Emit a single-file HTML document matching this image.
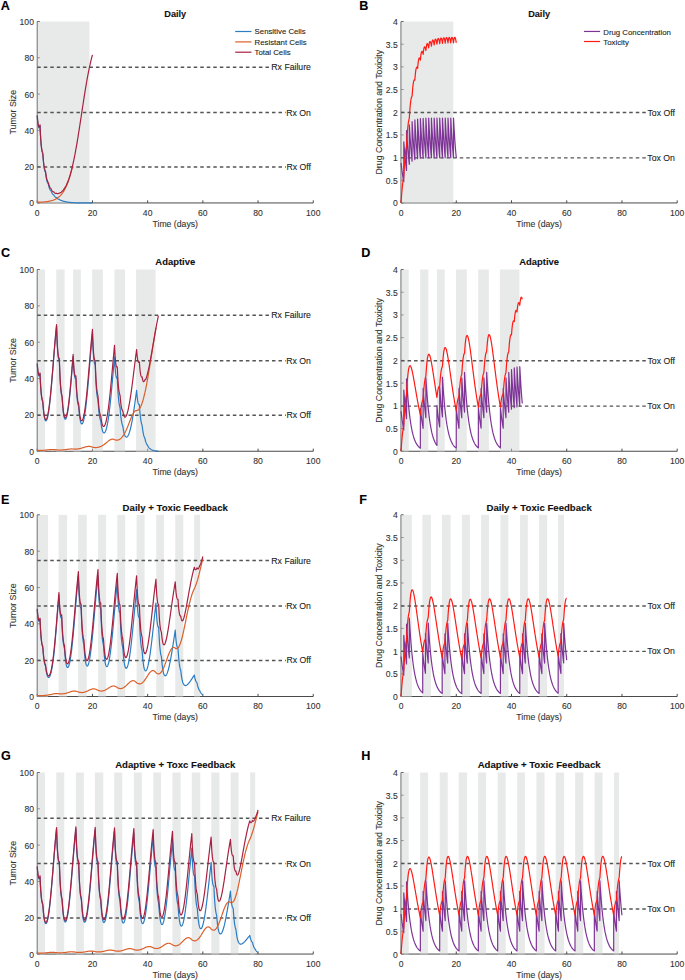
<!DOCTYPE html>
<html><head><meta charset="utf-8"><style>
html,body{margin:0;padding:0;background:#fff;}
svg{display:block;font-family:"Liberation Sans", sans-serif;}
</style></head><body>
<svg width="685" height="980" viewBox="0 0 685 980">
<rect width="685" height="980" fill="#fff"/>
<path d="M37.25,21.50 L37.25,202.95 L313.25,202.95" fill="none" stroke="#4a4a4a" stroke-width="1.00"/>
<line x1="37.25" y1="202.95" x2="37.25" y2="200.35" stroke="#4a4a4a" stroke-width="1.00"/>
<line x1="92.45" y1="202.95" x2="92.45" y2="200.35" stroke="#4a4a4a" stroke-width="1.00"/>
<line x1="147.65" y1="202.95" x2="147.65" y2="200.35" stroke="#4a4a4a" stroke-width="1.00"/>
<line x1="202.85" y1="202.95" x2="202.85" y2="200.35" stroke="#4a4a4a" stroke-width="1.00"/>
<line x1="258.05" y1="202.95" x2="258.05" y2="200.35" stroke="#4a4a4a" stroke-width="1.00"/>
<line x1="313.25" y1="202.95" x2="313.25" y2="200.35" stroke="#4a4a4a" stroke-width="1.00"/>
<line x1="37.25" y1="202.95" x2="39.85" y2="202.95" stroke="#4a4a4a" stroke-width="1.00"/>
<line x1="37.25" y1="166.66" x2="39.85" y2="166.66" stroke="#4a4a4a" stroke-width="1.00"/>
<line x1="37.25" y1="130.37" x2="39.85" y2="130.37" stroke="#4a4a4a" stroke-width="1.00"/>
<line x1="37.25" y1="94.08" x2="39.85" y2="94.08" stroke="#4a4a4a" stroke-width="1.00"/>
<line x1="37.25" y1="57.79" x2="39.85" y2="57.79" stroke="#4a4a4a" stroke-width="1.00"/>
<line x1="37.25" y1="21.50" x2="39.85" y2="21.50" stroke="#4a4a4a" stroke-width="1.00"/>
<rect x="37.25" y="21.50" width="52.16" height="182.05" fill="#d2d4d4" fill-opacity="0.50"/>
<text stroke="#333333" stroke-width="0.10" x="37.25" y="215.80" text-anchor="middle" font-size="8.60" fill="#333333">0</text>
<text stroke="#333333" stroke-width="0.10" x="92.45" y="215.80" text-anchor="middle" font-size="8.60" fill="#333333">20</text>
<text stroke="#333333" stroke-width="0.10" x="147.65" y="215.80" text-anchor="middle" font-size="8.60" fill="#333333">40</text>
<text stroke="#333333" stroke-width="0.10" x="202.85" y="215.80" text-anchor="middle" font-size="8.60" fill="#333333">60</text>
<text stroke="#333333" stroke-width="0.10" x="258.05" y="215.80" text-anchor="middle" font-size="8.60" fill="#333333">80</text>
<text stroke="#333333" stroke-width="0.10" x="313.25" y="215.80" text-anchor="middle" font-size="8.60" fill="#333333">100</text>
<text stroke="#333333" stroke-width="0.10" x="33.95" y="206.40" text-anchor="end" font-size="8.60" fill="#333333">0</text>
<text stroke="#333333" stroke-width="0.10" x="33.95" y="170.11" text-anchor="end" font-size="8.60" fill="#333333">20</text>
<text stroke="#333333" stroke-width="0.10" x="33.95" y="133.82" text-anchor="end" font-size="8.60" fill="#333333">40</text>
<text stroke="#333333" stroke-width="0.10" x="33.95" y="97.53" text-anchor="end" font-size="8.60" fill="#333333">60</text>
<text stroke="#333333" stroke-width="0.10" x="33.95" y="61.24" text-anchor="end" font-size="8.60" fill="#333333">80</text>
<text stroke="#333333" stroke-width="0.10" x="33.95" y="24.95" text-anchor="end" font-size="8.60" fill="#333333">100</text>
<text stroke="#333333" stroke-width="0.10" x="175.25" y="226.85" text-anchor="middle" font-size="8.7" fill="#333333">Time (days)</text>
<text stroke="#333333" stroke-width="0.10" transform="translate(16.10,112.22) rotate(-90)" text-anchor="middle" font-size="8.8" fill="#333333">Tumor Size</text>
<text stroke="#111" stroke-width="0.10" x="175.25" y="16.80" text-anchor="middle" font-size="9.20" font-weight="bold" fill="#111">Daily</text>
<line x1="37.25" y1="67.16" x2="270.71" y2="67.16" stroke="#555555" stroke-width="1.45" stroke-dasharray="3.5 3.02"/>
<text stroke="#222" stroke-width="0.10" x="310.95" y="70.16" text-anchor="end" font-size="8.70" fill="#222">Rx Failure</text>
<line x1="37.25" y1="112.52" x2="285.70" y2="112.52" stroke="#555555" stroke-width="1.45" stroke-dasharray="3.5 3.02"/>
<text stroke="#222" stroke-width="0.10" x="310.95" y="115.52" text-anchor="end" font-size="8.70" fill="#222">Rx On</text>
<line x1="37.25" y1="166.96" x2="285.86" y2="166.96" stroke="#555555" stroke-width="1.45" stroke-dasharray="3.5 3.02"/>
<text stroke="#222" stroke-width="0.10" x="310.95" y="169.96" text-anchor="end" font-size="8.70" fill="#222">Rx Off</text>
<path d="M37.25,116.08 L37.28,116.50 L37.58,120.49 L37.61,120.80 L37.94,123.89 L37.97,124.10 L38.30,126.12 L38.33,126.25 L38.66,127.37 L38.69,127.44 L39.02,127.81 L39.04,127.81 L39.38,127.55 L39.40,127.50 L39.73,126.68 L40.01,125.66 L40.09,127.69 L40.12,128.34 L40.45,135.19 L40.48,135.68 L40.81,140.93 L40.84,141.31 L41.17,145.27 L41.20,145.56 L41.53,148.50 L41.56,148.71 L41.89,150.79 L41.91,150.93 L42.25,152.30 L42.27,152.38 L42.60,153.13 L42.63,153.16 L42.96,156.20 L42.99,156.58 L43.32,160.69 L43.35,160.99 L43.68,164.23 L43.71,164.47 L44.04,166.99 L44.07,167.17 L44.40,169.09 L44.43,169.23 L44.76,170.64 L44.78,170.74 L45.12,171.70 L45.14,171.77 L45.47,172.34 L45.50,172.37 L45.83,174.91 L45.86,175.12 L46.19,177.36 L46.22,177.52 L46.55,179.31 L46.58,179.45 L46.91,180.86 L46.94,180.96 L47.27,182.04 L47.30,182.12 L47.63,182.92 L47.66,182.97 L47.99,183.51 L48.01,183.54 L48.35,184.09 L48.37,184.23 L48.70,185.76 L48.73,185.87 L49.06,187.12 L49.09,187.21 L49.42,188.22 L49.45,188.29 L49.78,189.09 L49.81,189.15 L50.14,189.75 L50.17,189.79 L50.50,190.23 L50.53,190.26 L50.86,190.54 L50.88,190.56 L51.22,191.15 L51.24,191.23 L51.57,192.12 L51.60,192.19 L51.93,192.91 L51.96,192.96 L52.29,193.55 L52.32,193.59 L52.65,194.05 L52.68,194.09 L53.01,194.43 L53.04,194.46 L53.37,194.70 L53.40,194.72 L53.73,194.86 L53.75,194.87 L54.09,195.41 L54.11,195.46 L54.44,195.99 L54.47,196.03 L54.80,196.47 L54.83,196.50 L55.16,196.85 L55.19,196.88 L55.52,197.15 L55.55,197.17 L55.88,197.38 L55.91,197.39 L56.24,197.53 L56.27,197.54 L56.60,197.65 L56.63,197.68 L56.96,198.08 L56.98,198.11 L57.32,198.44 L57.34,198.46 L57.67,198.74 L57.70,198.76 L58.03,198.97 L58.06,198.99 L58.39,199.16 L58.42,199.17 L58.75,199.29 L58.78,199.30 L59.11,199.38 L59.14,199.39 L59.47,199.54 L59.50,199.56 L59.83,199.81 L59.85,199.83 L60.19,200.04 L60.21,200.05 L60.54,200.22 L60.57,200.24 L60.90,200.37 L60.93,200.38 L61.26,200.49 L61.29,200.50 L61.62,200.58 L61.65,200.58 L61.98,200.63 L62.01,200.63 L62.34,200.78 L62.37,200.80 L62.70,200.96 L62.72,200.97 L63.06,201.10 L63.08,201.11 L63.41,201.22 L63.44,201.23 L63.77,201.32 L63.80,201.32 L64.13,201.39 L64.16,201.40 L64.49,201.45 L64.52,201.45 L64.85,201.48 L64.88,201.49 L65.21,201.61 L65.24,201.62 L65.57,201.72 L65.60,201.73 L65.93,201.81 L65.95,201.82 L66.29,201.89 L66.31,201.89 L66.64,201.95 L66.67,201.95 L67.00,202.00 L67.03,202.00 L67.36,202.03 L67.39,202.04 L67.72,202.08 L67.75,202.09 L68.08,202.16 L68.11,202.17 L68.44,202.23 L68.47,202.23 L68.80,202.28 L68.82,202.29 L69.16,202.33 L69.18,202.33 L69.51,202.37 L69.54,202.37 L69.87,202.40 L69.90,202.40 L70.23,202.42 L70.26,202.42 L70.59,202.46 L70.62,202.47 L70.95,202.51 L70.98,202.51 L71.31,202.55 L71.34,202.55 L71.67,202.58 L71.69,202.59 L72.03,202.61 L72.05,202.61 L72.38,202.64 L72.41,202.64 L72.74,202.65 L72.77,202.65 L73.10,202.67 L73.13,202.67 L73.46,202.70 L73.49,202.70 L73.82,202.72 L73.85,202.73 L74.18,202.75 L74.21,202.75 L74.54,202.77 L74.57,202.77 L74.90,202.78 L74.92,202.78 L75.26,202.79 L75.28,202.79 L75.61,202.80 L75.64,202.80 L75.97,202.81 L76.00,202.82 L76.33,202.83 L76.36,202.83 L76.69,202.84 L76.72,202.85 L77.05,202.86 L77.08,202.86 L77.41,202.87 L77.44,202.87 L77.77,202.87 L77.79,202.87 L78.13,202.88 L78.15,202.88 L78.48,202.89 L78.51,202.89 L78.84,202.89 L78.87,202.89 L79.20,202.90 L79.23,202.90 L79.56,202.91 L79.59,202.91 L79.92,202.91 L79.95,202.91 L80.28,202.92 L80.31,202.92 L80.64,202.92 L80.66,202.92 L81.00,202.92 L81.02,202.92 L81.35,202.92 L81.38,202.92 L81.71,202.93 L81.74,202.93 L82.07,202.93 L82.10,202.93 L82.43,202.93 L82.46,202.93 L82.79,202.94 L82.82,202.94 L83.15,202.94 L83.18,202.94 L83.51,202.94 L83.54,202.94 L83.87,202.94 L83.89,202.94 L84.23,202.94 L84.25,202.94 L84.58,202.94 L84.61,202.94 L84.94,202.94 L84.97,202.94 L85.30,202.94 L85.33,202.94 L85.66,202.95 L85.69,202.95 L86.02,202.95 L86.05,202.95 L86.38,202.95 L86.41,202.95 L86.74,202.95 L86.76,202.95 L87.10,202.95 L87.12,202.95 L87.45,202.95 L87.48,202.95 L87.81,202.95 L87.84,202.95 L88.17,202.95 L88.20,202.95 L88.53,202.95 L88.56,202.95 L88.89,202.95 L88.92,202.95 L89.25,202.95 L89.28,202.95 L89.61,202.95 L89.63,202.95 L89.97,202.95 L89.99,202.95 L90.32,202.95 L90.35,202.95 L90.68,202.95 L90.71,202.95 L91.04,202.95 L91.07,202.95 L91.40,202.95 L91.43,202.95 L91.76,202.95 L91.79,202.95 L92.12,202.95 L92.45,202.95" fill="none" stroke="#2a7cc4" stroke-width="1.20" stroke-linejoin="round"/>
<path d="M37.25,202.09 L37.28,202.09 L37.58,202.10 L37.61,202.10 L37.94,202.10 L37.97,202.10 L38.30,202.10 L38.33,202.10 L38.66,202.10 L38.69,202.10 L39.02,202.10 L39.04,202.10 L39.38,202.10 L39.54,202.10 L39.73,202.10 L39.76,202.10 L40.09,202.10 L40.12,202.10 L40.45,202.10 L40.48,202.10 L40.81,202.09 L40.84,202.09 L41.17,202.08 L41.20,202.08 L41.53,202.07 L41.56,202.07 L41.89,202.06 L41.91,202.06 L42.25,202.04 L42.27,202.04 L42.60,202.03 L42.63,202.02 L42.96,202.01 L42.99,202.01 L43.32,201.99 L43.35,201.99 L43.68,201.96 L43.71,201.96 L44.04,201.94 L44.07,201.93 L44.40,201.91 L44.43,201.90 L44.76,201.87 L44.78,201.87 L45.12,201.84 L45.14,201.84 L45.47,201.81 L45.50,201.80 L45.83,201.77 L45.86,201.76 L46.19,201.73 L46.22,201.72 L46.55,201.68 L46.58,201.68 L46.91,201.63 L46.94,201.63 L47.27,201.58 L47.30,201.58 L47.63,201.53 L47.66,201.52 L47.99,201.47 L48.01,201.47 L48.35,201.41 L48.37,201.41 L48.70,201.35 L48.73,201.34 L49.06,201.28 L49.09,201.27 L49.42,201.21 L49.45,201.20 L49.78,201.13 L49.81,201.12 L50.14,201.05 L50.17,201.04 L50.50,200.96 L50.53,200.96 L50.86,200.87 L50.88,200.87 L51.22,200.78 L51.24,200.77 L51.57,200.68 L51.60,200.67 L51.93,200.57 L51.96,200.56 L52.29,200.46 L52.32,200.45 L52.65,200.34 L52.68,200.33 L53.01,200.22 L53.04,200.21 L53.37,200.09 L53.40,200.08 L53.73,199.95 L53.75,199.94 L54.09,199.80 L54.11,199.79 L54.44,199.65 L54.47,199.64 L54.80,199.49 L54.83,199.47 L55.16,199.32 L55.19,199.30 L55.52,199.13 L55.55,199.12 L55.88,198.94 L55.91,198.93 L56.24,198.74 L56.27,198.73 L56.60,198.53 L56.63,198.52 L56.96,198.31 L56.98,198.30 L57.32,198.08 L57.34,198.06 L57.67,197.84 L57.70,197.82 L58.03,197.58 L58.06,197.56 L58.39,197.31 L58.42,197.28 L58.75,197.02 L58.78,197.00 L59.11,196.72 L59.14,196.70 L59.47,196.40 L59.50,196.38 L59.83,196.07 L59.85,196.05 L60.19,195.72 L60.21,195.70 L60.54,195.36 L60.57,195.33 L60.90,194.97 L60.93,194.94 L61.26,194.57 L61.29,194.53 L61.62,194.14 L61.65,194.11 L61.98,193.69 L62.01,193.66 L62.34,193.23 L62.37,193.19 L62.70,192.73 L62.72,192.70 L63.06,192.22 L63.08,192.18 L63.41,191.68 L63.44,191.64 L63.77,191.11 L63.80,191.07 L64.13,190.52 L64.16,190.47 L64.49,189.89 L64.52,189.84 L64.85,189.24 L64.88,189.19 L65.21,188.56 L65.24,188.51 L65.57,187.85 L65.60,187.79 L65.93,187.10 L65.95,187.04 L66.29,186.32 L66.31,186.26 L66.64,185.51 L66.67,185.44 L67.00,184.65 L67.03,184.59 L67.36,183.76 L67.39,183.69 L67.72,182.83 L67.75,182.76 L68.08,181.87 L68.11,181.79 L68.44,180.86 L68.47,180.78 L68.80,179.81 L68.82,179.73 L69.16,178.72 L69.18,178.64 L69.51,177.58 L69.54,177.50 L69.87,176.40 L69.90,176.31 L70.23,175.17 L70.26,175.08 L70.59,173.90 L70.62,173.80 L70.95,172.58 L70.98,172.48 L71.31,171.22 L71.34,171.11 L71.67,169.80 L71.69,169.69 L72.03,168.34 L72.05,168.22 L72.38,166.82 L72.50,166.34" fill="none" stroke="#dc5f2a" stroke-width="1.20" stroke-linejoin="round"/>
<path d="M37.25,115.22 L37.28,115.64 L37.58,119.64 L37.61,119.95 L37.94,123.04 L37.97,123.25 L38.30,125.27 L38.33,125.40 L38.66,126.53 L38.69,126.59 L39.02,126.96 L39.04,126.96 L39.38,126.70 L39.40,126.65 L39.73,125.83 L40.01,124.81 L40.09,126.84 L40.12,127.49 L40.45,134.34 L40.48,134.83 L40.81,140.07 L40.84,140.45 L41.17,144.41 L41.20,144.69 L41.53,147.62 L41.56,147.83 L41.89,149.90 L41.91,150.04 L42.25,151.39 L42.27,151.47 L42.60,152.20 L42.63,152.24 L42.96,155.25 L42.99,155.64 L43.32,159.73 L43.35,160.03 L43.68,163.24 L43.71,163.48 L44.04,165.98 L44.07,166.16 L44.40,168.05 L44.43,168.19 L44.76,169.57 L44.78,169.66 L45.12,170.60 L45.14,170.66 L45.47,171.19 L45.50,171.22 L45.83,173.73 L45.86,173.94 L46.19,176.13 L46.22,176.30 L46.55,178.05 L46.58,178.17 L46.91,179.54 L46.94,179.64 L47.27,180.68 L47.30,180.75 L47.63,181.49 L47.66,181.54 L47.99,182.03 L48.01,182.06 L48.35,182.55 L48.37,182.69 L48.70,184.15 L48.73,184.26 L49.06,185.45 L49.09,185.54 L49.42,186.48 L49.45,186.54 L49.78,187.27 L49.81,187.32 L50.14,187.85 L50.17,187.89 L50.50,188.24 L50.53,188.27 L50.86,188.47 L50.88,188.48 L51.22,188.98 L51.24,189.06 L51.57,189.85 L51.60,189.91 L51.93,190.53 L51.96,190.58 L52.29,191.06 L52.32,191.09 L52.65,191.44 L52.68,191.47 L53.01,191.70 L53.04,191.71 L53.37,191.84 L53.40,191.84 L53.62,191.86 L53.81,191.85 L54.09,192.26 L54.11,192.30 L54.44,192.69 L54.47,192.72 L54.80,193.00 L54.83,193.02 L55.16,193.22 L55.19,193.23 L55.52,193.34 L55.55,193.34 L55.85,193.37 L55.91,193.37 L56.24,193.32 L56.27,193.32 L56.57,193.21 L56.63,193.25 L56.96,193.44 L56.98,193.46 L57.32,193.57 L57.34,193.58 L57.67,193.62 L57.76,193.62 L58.03,193.60 L58.06,193.60 L58.39,193.51 L58.42,193.50 L58.75,193.36 L58.78,193.35 L59.11,193.15 L59.14,193.13 L59.47,192.99 L59.50,192.99 L59.83,192.93 L59.85,192.92 L60.19,192.81 L60.21,192.80 L60.54,192.63 L60.57,192.61 L60.90,192.40 L60.93,192.37 L61.26,192.11 L61.29,192.08 L61.62,191.77 L61.65,191.74 L61.98,191.37 L62.01,191.34 L62.34,191.06 L62.37,191.04 L62.70,190.74 L62.72,190.71 L63.06,190.37 L63.08,190.34 L63.41,189.95 L63.44,189.91 L63.77,189.48 L63.80,189.44 L64.13,188.96 L64.16,188.92 L64.49,188.39 L64.52,188.34 L64.85,187.77 L64.88,187.73 L65.21,187.22 L65.24,187.18 L65.57,186.62 L65.60,186.57 L65.93,185.97 L65.95,185.91 L66.29,185.26 L66.31,185.20 L66.64,184.51 L66.67,184.45 L67.00,183.70 L67.03,183.64 L67.36,182.85 L67.39,182.78 L67.72,181.96 L67.75,181.90 L68.08,181.08 L68.11,181.01 L68.44,180.14 L68.47,180.07 L68.80,179.15 L68.82,179.07 L69.16,178.10 L69.18,178.02 L69.51,177.00 L69.54,176.92 L69.87,175.85 L69.90,175.76 L70.23,174.65 L70.26,174.55 L70.59,173.41 L70.62,173.32 L70.95,172.14 L70.98,172.04 L71.31,170.82 L71.34,170.71 L71.67,169.44 L71.69,169.33 L72.03,168.00 L72.05,167.89 L72.38,166.51 L72.41,166.39 L72.74,164.96 L72.77,164.84 L73.10,163.36 L73.13,163.23 L73.46,161.73 L73.49,161.60 L73.82,160.05 L73.85,159.91 L74.18,158.31 L74.21,158.17 L74.54,156.52 L74.57,156.38 L74.90,154.68 L74.92,154.54 L75.26,152.79 L75.28,152.64 L75.61,150.85 L75.64,150.70 L75.97,148.87 L76.00,148.71 L76.33,146.86 L76.36,146.70 L76.69,144.80 L76.72,144.64 L77.05,142.70 L77.08,142.54 L77.41,140.56 L77.44,140.39 L77.77,138.38 L77.79,138.21 L78.13,136.17 L78.15,136.00 L78.48,133.92 L78.51,133.75 L78.84,131.66 L78.87,131.48 L79.20,129.37 L79.23,129.20 L79.56,127.06 L79.59,126.89 L79.92,124.74 L79.95,124.56 L80.28,122.39 L80.31,122.21 L80.64,120.03 L80.66,119.85 L81.00,117.66 L81.02,117.47 L81.35,115.28 L81.38,115.09 L81.71,112.91 L81.74,112.73 L82.07,110.55 L82.10,110.36 L82.43,108.19 L82.46,108.00 L82.79,105.83 L82.82,105.65 L83.15,103.49 L83.18,103.31 L83.51,101.16 L83.54,100.98 L83.87,98.84 L83.89,98.66 L84.23,96.54 L84.25,96.37 L84.58,94.29 L84.61,94.12 L84.94,92.06 L84.97,91.89 L85.30,89.86 L85.33,89.70 L85.66,87.69 L85.69,87.53 L86.02,85.56 L86.05,85.39 L86.38,83.45 L86.41,83.29 L86.74,81.39 L86.76,81.23 L87.10,79.37 L87.12,79.21 L87.45,77.40 L87.48,77.25 L87.81,75.48 L87.84,75.33 L88.17,73.60 L88.20,73.46 L88.53,71.76 L88.56,71.62 L88.89,69.97 L88.92,69.83 L89.25,68.22 L89.28,68.09 L89.61,66.52 L89.63,66.39 L89.97,64.88 L89.99,64.76 L90.32,63.30 L90.35,63.18 L90.68,61.76 L90.71,61.64 L91.04,60.27 L91.07,60.15 L91.40,58.82 L91.43,58.71 L91.76,57.41 L91.79,57.31 L92.12,56.06 L92.45,54.84" fill="none" stroke="#a8203f" stroke-width="1.20" stroke-linejoin="round"/>
<line x1="235.20" y1="31.50" x2="251.50" y2="31.50" stroke="#2a7cc4" stroke-width="1.20"/>
<text stroke="#222" stroke-width="0.10" x="254.60" y="34.10" font-size="7.8" fill="#222">Sensitive Cells</text>
<line x1="235.20" y1="41.90" x2="251.50" y2="41.90" stroke="#dc5f2a" stroke-width="1.20"/>
<text stroke="#222" stroke-width="0.10" x="254.60" y="44.50" font-size="7.8" fill="#222">Resistant Cells</text>
<line x1="235.20" y1="52.20" x2="251.50" y2="52.20" stroke="#a8203f" stroke-width="1.20"/>
<text stroke="#222" stroke-width="0.10" x="254.60" y="54.80" font-size="7.8" fill="#222">Total Cells</text>
<path d="M401.05,21.50 L401.05,202.95 L677.20,202.95" fill="none" stroke="#4a4a4a" stroke-width="1.00"/>
<line x1="401.05" y1="202.95" x2="401.05" y2="200.35" stroke="#4a4a4a" stroke-width="1.00"/>
<line x1="456.28" y1="202.95" x2="456.28" y2="200.35" stroke="#4a4a4a" stroke-width="1.00"/>
<line x1="511.51" y1="202.95" x2="511.51" y2="200.35" stroke="#4a4a4a" stroke-width="1.00"/>
<line x1="566.74" y1="202.95" x2="566.74" y2="200.35" stroke="#4a4a4a" stroke-width="1.00"/>
<line x1="621.97" y1="202.95" x2="621.97" y2="200.35" stroke="#4a4a4a" stroke-width="1.00"/>
<line x1="677.20" y1="202.95" x2="677.20" y2="200.35" stroke="#4a4a4a" stroke-width="1.00"/>
<line x1="401.05" y1="202.95" x2="403.65" y2="202.95" stroke="#4a4a4a" stroke-width="1.00"/>
<line x1="401.05" y1="180.27" x2="403.65" y2="180.27" stroke="#4a4a4a" stroke-width="1.00"/>
<line x1="401.05" y1="157.59" x2="403.65" y2="157.59" stroke="#4a4a4a" stroke-width="1.00"/>
<line x1="401.05" y1="134.91" x2="403.65" y2="134.91" stroke="#4a4a4a" stroke-width="1.00"/>
<line x1="401.05" y1="112.22" x2="403.65" y2="112.22" stroke="#4a4a4a" stroke-width="1.00"/>
<line x1="401.05" y1="89.54" x2="403.65" y2="89.54" stroke="#4a4a4a" stroke-width="1.00"/>
<line x1="401.05" y1="66.86" x2="403.65" y2="66.86" stroke="#4a4a4a" stroke-width="1.00"/>
<line x1="401.05" y1="44.18" x2="403.65" y2="44.18" stroke="#4a4a4a" stroke-width="1.00"/>
<line x1="401.05" y1="21.50" x2="403.65" y2="21.50" stroke="#4a4a4a" stroke-width="1.00"/>
<rect x="401.05" y="21.50" width="52.19" height="182.05" fill="#d2d4d4" fill-opacity="0.50"/>
<text stroke="#333333" stroke-width="0.10" x="401.05" y="215.80" text-anchor="middle" font-size="8.60" fill="#333333">0</text>
<text stroke="#333333" stroke-width="0.10" x="456.28" y="215.80" text-anchor="middle" font-size="8.60" fill="#333333">20</text>
<text stroke="#333333" stroke-width="0.10" x="511.51" y="215.80" text-anchor="middle" font-size="8.60" fill="#333333">40</text>
<text stroke="#333333" stroke-width="0.10" x="566.74" y="215.80" text-anchor="middle" font-size="8.60" fill="#333333">60</text>
<text stroke="#333333" stroke-width="0.10" x="621.97" y="215.80" text-anchor="middle" font-size="8.60" fill="#333333">80</text>
<text stroke="#333333" stroke-width="0.10" x="677.20" y="215.80" text-anchor="middle" font-size="8.60" fill="#333333">100</text>
<text stroke="#333333" stroke-width="0.10" x="397.75" y="206.40" text-anchor="end" font-size="8.60" fill="#333333">0</text>
<text stroke="#333333" stroke-width="0.10" x="397.75" y="183.72" text-anchor="end" font-size="8.60" fill="#333333">0.5</text>
<text stroke="#333333" stroke-width="0.10" x="397.75" y="161.04" text-anchor="end" font-size="8.60" fill="#333333">1</text>
<text stroke="#333333" stroke-width="0.10" x="397.75" y="138.36" text-anchor="end" font-size="8.60" fill="#333333">1.5</text>
<text stroke="#333333" stroke-width="0.10" x="397.75" y="115.67" text-anchor="end" font-size="8.60" fill="#333333">2</text>
<text stroke="#333333" stroke-width="0.10" x="397.75" y="92.99" text-anchor="end" font-size="8.60" fill="#333333">2.5</text>
<text stroke="#333333" stroke-width="0.10" x="397.75" y="70.31" text-anchor="end" font-size="8.60" fill="#333333">3</text>
<text stroke="#333333" stroke-width="0.10" x="397.75" y="47.63" text-anchor="end" font-size="8.60" fill="#333333">3.5</text>
<text stroke="#333333" stroke-width="0.10" x="397.75" y="24.95" text-anchor="end" font-size="8.60" fill="#333333">4</text>
<text stroke="#333333" stroke-width="0.10" x="539.12" y="226.85" text-anchor="middle" font-size="8.7" fill="#333333">Time (days)</text>
<text stroke="#333333" stroke-width="0.10" transform="translate(381.60,112.22) rotate(-90)" text-anchor="middle" font-size="8.8" fill="#333333">Drug Concentration and Toxicity</text>
<text stroke="#111" stroke-width="0.10" x="539.12" y="16.80" text-anchor="middle" font-size="9.20" font-weight="bold" fill="#111">Daily</text>
<line x1="401.05" y1="112.52" x2="646.90" y2="112.52" stroke="#555555" stroke-width="1.45" stroke-dasharray="3.5 3.02"/>
<text stroke="#222" stroke-width="0.10" x="674.90" y="115.52" text-anchor="end" font-size="8.70" fill="#222">Tox Off</text>
<line x1="401.05" y1="157.89" x2="646.74" y2="157.89" stroke="#555555" stroke-width="1.45" stroke-dasharray="3.5 3.02"/>
<text stroke="#222" stroke-width="0.10" x="674.90" y="160.89" text-anchor="end" font-size="8.70" fill="#222">Tox On</text>
<path d="M401.05,163.03 L401.08,163.28 L401.38,165.96 L401.41,166.19 L401.74,168.89 L401.77,169.11 L402.10,171.59 L402.13,171.79 L402.46,174.07 L402.49,174.26 L402.82,176.36 L402.84,176.53 L403.18,178.47 L403.20,178.62 L403.54,180.41 L403.78,181.66 L403.81,141.88 L403.92,143.41 L404.25,147.78 L404.28,148.13 L404.61,152.15 L404.64,152.47 L404.97,156.17 L405.00,156.47 L405.33,159.88 L405.36,160.15 L405.69,163.29 L405.72,163.54 L406.05,166.43 L406.08,166.67 L406.41,169.33 L406.55,170.38 L406.57,130.67 L406.79,134.25 L407.13,139.29 L407.15,139.69 L407.48,144.33 L407.51,144.70 L407.84,148.98 L407.87,149.32 L408.20,153.25 L408.23,153.57 L408.56,157.19 L408.59,157.48 L408.92,160.82 L408.95,161.08 L409.28,164.15 L409.31,164.40 L409.33,124.73 L409.67,130.46 L410.00,135.78 L410.02,136.21 L410.36,141.10 L410.38,141.50 L410.72,146.00 L410.74,146.37 L411.07,150.52 L411.10,150.85 L411.43,154.67 L411.46,154.98 L411.79,158.50 L412.07,161.23 L412.10,121.58 L412.18,123.11 L412.51,128.97 L412.54,129.44 L412.87,134.83 L412.90,135.26 L413.23,140.23 L413.26,140.63 L413.59,145.20 L413.61,145.56 L413.95,149.77 L413.97,150.11 L414.31,153.99 L414.33,154.30 L414.66,157.87 L414.83,159.55 L414.86,119.91 L415.05,123.52 L415.38,129.35 L415.41,129.81 L415.74,135.18 L415.77,135.61 L416.10,140.55 L416.13,140.94 L416.46,145.49 L416.49,145.86 L416.82,150.05 L416.85,150.38 L417.18,154.24 L417.20,154.55 L417.54,158.10 L417.59,158.66 L417.62,119.02 L417.92,124.69 L418.25,130.43 L418.28,130.89 L418.61,136.17 L418.64,136.60 L418.97,141.47 L419.00,141.85 L419.33,146.34 L419.36,146.70 L419.69,150.82 L419.72,151.15 L420.05,154.95 L420.35,158.19 L420.38,118.56 L420.44,119.62 L420.77,125.73 L420.79,126.22 L421.13,131.85 L421.15,132.30 L421.49,137.49 L421.51,137.90 L421.84,142.67 L421.87,143.05 L422.20,147.45 L422.23,147.80 L422.56,151.85 L422.59,152.17 L422.92,155.90 L423.11,157.94 L423.14,118.31 L423.31,121.47 L423.64,127.45 L423.67,127.93 L424.00,133.43 L424.03,133.87 L424.36,138.94 L424.38,139.35 L424.72,144.01 L424.74,144.39 L425.08,148.68 L425.10,149.03 L425.43,152.98 L425.46,153.30 L425.79,156.94 L425.88,157.81 L425.90,118.18 L426.18,123.39 L426.51,129.23 L426.54,129.70 L426.87,135.07 L426.90,135.50 L427.23,140.45 L427.26,140.84 L427.59,145.40 L427.62,145.77 L427.95,149.96 L427.97,150.30 L428.31,154.16 L428.64,157.74 L428.67,118.11 L428.69,118.64 L429.02,124.83 L429.05,125.32 L429.38,131.02 L429.41,131.47 L429.74,136.72 L429.77,137.14 L430.10,141.97 L430.13,142.35 L430.46,146.80 L430.49,147.15 L430.82,151.25 L430.85,151.57 L431.18,155.34 L431.40,157.70 L431.43,118.07 L431.56,120.72 L431.90,126.75 L431.92,127.24 L432.25,132.79 L432.28,133.24 L432.61,138.35 L432.64,138.76 L432.97,143.47 L433.00,143.85 L433.33,148.18 L433.36,148.53 L433.69,152.52 L433.72,152.84 L434.05,156.52 L434.16,157.68 L434.19,118.05 L434.44,122.77 L434.77,128.65 L434.80,129.12 L435.13,134.54 L435.15,134.97 L435.49,139.96 L435.51,140.36 L435.84,144.95 L435.87,145.32 L436.20,149.54 L436.23,149.88 L436.56,153.78 L436.59,154.09 L436.92,157.67 L436.95,118.04 L437.28,124.27 L437.31,124.77 L437.64,130.50 L437.67,130.96 L438.00,136.24 L438.03,136.67 L438.36,141.53 L438.39,141.92 L438.72,146.40 L438.74,146.75 L439.08,150.88 L439.10,151.21 L439.43,155.00 L439.68,157.67 L439.71,118.03 L439.82,120.16 L440.15,126.24 L440.18,126.72 L440.51,132.32 L440.54,132.76 L440.87,137.91 L440.90,138.32 L441.23,143.07 L441.26,143.44 L441.59,147.81 L441.62,148.16 L441.95,152.18 L441.98,152.50 L442.31,156.20 L442.44,157.66 L442.47,118.03 L442.69,122.24 L443.02,128.16 L443.05,128.63 L443.38,134.08 L443.41,134.52 L443.74,139.54 L443.77,139.94 L444.10,144.57 L444.13,144.94 L444.46,149.19 L444.49,149.53 L444.82,153.45 L444.85,153.76 L445.18,157.37 L445.21,157.66 L445.23,118.03 L445.57,124.26 L445.90,130.03 L445.92,130.49 L446.26,135.81 L446.28,136.24 L446.61,141.13 L446.64,141.52 L446.97,146.03 L447.00,146.39 L447.33,150.54 L447.36,150.87 L447.69,154.69 L447.97,157.66 L448.00,118.03 L448.08,119.63 L448.41,125.74 L448.44,126.23 L448.77,131.86 L448.80,132.31 L449.13,137.49 L449.16,137.91 L449.49,142.68 L449.51,143.06 L449.85,147.46 L449.87,147.81 L450.20,151.85 L450.23,152.18 L450.56,155.90 L450.73,157.66 L450.76,118.03 L450.95,121.72 L451.28,127.68 L451.31,128.16 L451.64,133.64 L451.67,134.08 L452.00,139.14 L452.03,139.54 L452.36,144.19 L452.39,144.56 L452.72,148.85 L452.75,149.19 L453.08,153.13 L453.10,153.45 L453.44,157.08 L453.49,157.66 L453.52,118.03 L453.82,123.76 L454.15,129.57 L454.18,130.03 L454.51,135.38 L454.54,135.81 L454.87,140.74 L454.90,141.13 L455.23,145.67 L455.26,146.03 L455.59,150.20 L455.62,150.54 L455.95,154.38 L456.28,157.95" fill="none" stroke="#7e3496" stroke-width="1.20" stroke-linejoin="round"/>
<path d="M401.05,202.95 L401.08,202.51 L401.38,197.95 L401.41,197.56 L401.74,193.22 L401.77,192.89 L402.10,189.15 L402.13,188.86 L402.46,185.66 L402.49,185.41 L402.82,182.70 L402.84,182.49 L403.18,180.20 L403.20,180.03 L403.54,178.12 L403.56,177.98 L403.89,175.11 L403.92,174.56 L404.25,168.52 L404.28,168.06 L404.61,162.93 L404.64,162.54 L404.97,158.23 L405.00,157.90 L405.33,154.33 L405.36,154.06 L405.69,151.14 L405.72,150.92 L406.05,148.58 L406.08,148.41 L406.41,146.59 L406.43,146.45 L406.77,142.09 L406.79,141.59 L407.13,136.04 L407.15,135.62 L407.48,131.06 L407.51,130.72 L407.84,127.03 L407.87,126.75 L408.20,123.84 L408.23,123.62 L408.56,121.40 L408.59,121.24 L408.92,119.62 L408.95,119.51 L409.28,118.43 L409.31,118.36 L409.64,113.15 L409.67,112.72 L410.00,108.15 L410.02,107.81 L410.36,104.19 L410.38,103.93 L410.72,101.18 L410.74,100.98 L411.07,98.98 L411.10,98.84 L411.43,97.51 L411.46,97.43 L411.79,96.69 L411.82,96.65 L412.15,95.54 L412.18,95.11 L412.51,90.49 L412.54,90.15 L412.87,86.58 L412.90,86.32 L413.23,83.66 L413.26,83.47 L413.59,81.63 L413.61,81.51 L413.95,80.38 L413.97,80.32 L414.31,79.82 L414.47,79.77 L414.66,79.86 L414.86,80.10 L415.02,77.83 L415.05,77.48 L415.38,73.79 L415.41,73.53 L415.74,70.83 L415.77,70.64 L416.10,68.81 L416.13,68.69 L416.46,67.63 L416.49,67.57 L416.82,67.18 L416.87,67.16 L417.18,67.36 L417.20,67.40 L417.54,68.10 L417.62,68.35 L417.90,65.12 L417.92,64.83 L418.25,61.92 L418.28,61.72 L418.61,59.74 L418.64,59.61 L418.97,58.46 L419.00,58.39 L419.33,57.96 L419.41,57.94 L419.69,58.14 L419.72,58.18 L420.05,58.92 L420.08,59.00 L420.38,60.10 L420.44,59.46 L420.77,56.18 L420.79,55.95 L421.13,53.68 L421.15,53.53 L421.49,52.14 L421.51,52.05 L421.84,51.44 L422.01,51.37 L422.20,51.48 L422.23,51.51 L422.56,52.16 L422.59,52.24 L422.92,53.40 L423.14,54.41 L423.28,52.96 L423.31,52.69 L423.64,49.99 L423.67,49.80 L424.00,48.05 L424.03,47.94 L424.36,47.03 L424.38,46.98 L424.63,46.79 L424.74,46.81 L425.08,47.27 L425.10,47.34 L425.43,48.35 L425.46,48.46 L425.79,49.95 L425.90,50.54 L426.15,48.19 L426.18,47.96 L426.51,45.73 L426.54,45.58 L426.87,44.26 L426.90,44.19 L427.23,43.67 L427.34,43.64 L427.59,43.83 L427.62,43.87 L427.95,44.65 L427.97,44.73 L428.31,46.04 L428.33,46.17 L428.67,47.92 L428.69,47.64 L429.02,44.83 L429.05,44.64 L429.38,42.82 L429.41,42.71 L429.74,41.75 L429.77,41.71 L430.05,41.50 L430.13,41.53 L430.46,42.00 L430.49,42.06 L430.82,43.10 L430.85,43.21 L431.18,44.75 L431.21,44.90 L431.43,46.17 L431.56,44.88 L431.90,42.47 L431.92,42.31 L432.25,40.85 L432.28,40.76 L432.61,40.13 L432.75,40.06 L432.97,40.19 L433.00,40.23 L433.33,40.95 L433.36,41.03 L433.69,42.30 L433.72,42.43 L434.05,44.16 L434.19,45.00 L434.41,43.06 L434.44,42.85 L434.77,40.80 L434.80,40.67 L435.13,39.52 L435.15,39.46 L435.49,39.10 L435.51,39.10 L435.84,39.44 L435.87,39.50 L436.20,40.44 L436.23,40.54 L436.56,42.00 L436.59,42.14 L436.92,44.05 L436.95,44.23 L437.28,41.51 L437.31,41.33 L437.64,39.61 L437.67,39.50 L438.00,38.64 L438.03,38.60 L438.25,38.47 L438.39,38.53 L438.72,39.09 L438.74,39.16 L439.08,40.30 L439.10,40.42 L439.43,42.05 L439.46,42.20 L439.71,43.71 L439.82,42.71 L440.15,40.34 L440.18,40.18 L440.51,38.76 L440.54,38.68 L440.87,38.09 L440.98,38.04 L441.23,38.21 L441.26,38.24 L441.59,39.01 L441.62,39.10 L441.95,40.42 L441.98,40.55 L442.31,42.34 L442.47,43.38 L442.67,41.70 L442.69,41.49 L443.02,39.44 L443.05,39.31 L443.38,38.17 L443.41,38.11 L443.74,37.77 L443.77,37.77 L444.10,38.12 L444.13,38.18 L444.46,39.14 L444.49,39.24 L444.82,40.72 L444.85,40.87 L445.18,42.80 L445.23,43.15 L445.54,40.68 L445.57,40.49 L445.90,38.75 L445.92,38.64 L446.26,37.77 L446.28,37.73 L446.50,37.58 L446.64,37.64 L446.97,38.20 L447.00,38.27 L447.33,39.41 L447.36,39.52 L447.69,41.16 L447.72,41.31 L448.00,43.01 L448.08,42.25 L448.41,39.84 L448.44,39.68 L448.77,38.22 L448.80,38.13 L449.13,37.51 L449.27,37.46 L449.49,37.61 L449.51,37.64 L449.85,38.40 L449.87,38.48 L450.20,39.79 L450.23,39.92 L450.56,41.70 L450.76,42.91 L450.92,41.47 L450.95,41.25 L451.28,39.15 L451.31,39.01 L451.64,37.83 L451.67,37.76 L452.00,37.38 L452.03,37.38 L452.36,37.71 L452.39,37.76 L452.72,38.69 L452.75,38.79 L453.08,40.26 L453.10,40.40 L453.44,42.31 L453.52,42.85 L453.79,40.58 L453.82,40.39 L454.15,38.58 L454.18,38.47 L454.51,37.55 L454.54,37.51 L454.79,37.33 L454.90,37.37 L455.23,37.89 L455.26,37.96 L455.59,39.07 L455.62,39.18 L455.95,40.80 L456.28,42.81" fill="none" stroke="#ff1a14" stroke-width="1.20" stroke-linejoin="round"/>
<line x1="584.00" y1="31.45" x2="600.10" y2="31.45" stroke="#7e3496" stroke-width="1.20"/>
<text stroke="#222" stroke-width="0.10" x="603.30" y="34.75" font-size="7.8" fill="#222">Drug Concentration</text>
<line x1="584.00" y1="41.50" x2="600.10" y2="41.50" stroke="#ff1a14" stroke-width="1.20"/>
<text stroke="#222" stroke-width="0.10" x="603.30" y="44.80" font-size="7.8" fill="#222">Toxicity</text>
<path d="M37.25,269.50 L37.25,451.25 L313.25,451.25" fill="none" stroke="#4a4a4a" stroke-width="1.00"/>
<line x1="37.25" y1="451.25" x2="37.25" y2="448.65" stroke="#4a4a4a" stroke-width="1.00"/>
<line x1="92.45" y1="451.25" x2="92.45" y2="448.65" stroke="#4a4a4a" stroke-width="1.00"/>
<line x1="147.65" y1="451.25" x2="147.65" y2="448.65" stroke="#4a4a4a" stroke-width="1.00"/>
<line x1="202.85" y1="451.25" x2="202.85" y2="448.65" stroke="#4a4a4a" stroke-width="1.00"/>
<line x1="258.05" y1="451.25" x2="258.05" y2="448.65" stroke="#4a4a4a" stroke-width="1.00"/>
<line x1="313.25" y1="451.25" x2="313.25" y2="448.65" stroke="#4a4a4a" stroke-width="1.00"/>
<line x1="37.25" y1="451.25" x2="39.85" y2="451.25" stroke="#4a4a4a" stroke-width="1.00"/>
<line x1="37.25" y1="414.90" x2="39.85" y2="414.90" stroke="#4a4a4a" stroke-width="1.00"/>
<line x1="37.25" y1="378.55" x2="39.85" y2="378.55" stroke="#4a4a4a" stroke-width="1.00"/>
<line x1="37.25" y1="342.20" x2="39.85" y2="342.20" stroke="#4a4a4a" stroke-width="1.00"/>
<line x1="37.25" y1="305.85" x2="39.85" y2="305.85" stroke="#4a4a4a" stroke-width="1.00"/>
<line x1="37.25" y1="269.50" x2="39.85" y2="269.50" stroke="#4a4a4a" stroke-width="1.00"/>
<rect x="37.25" y="269.50" width="7.73" height="182.35" fill="#d2d4d4" fill-opacity="0.50"/>
<rect x="56.29" y="269.50" width="8.28" height="182.35" fill="#d2d4d4" fill-opacity="0.50"/>
<rect x="73.13" y="269.50" width="7.73" height="182.35" fill="#d2d4d4" fill-opacity="0.50"/>
<rect x="92.17" y="269.50" width="10.76" height="182.35" fill="#d2d4d4" fill-opacity="0.50"/>
<rect x="114.39" y="269.50" width="10.63" height="182.35" fill="#d2d4d4" fill-opacity="0.50"/>
<rect x="136.06" y="269.50" width="19.46" height="182.35" fill="#d2d4d4" fill-opacity="0.50"/>
<text stroke="#333333" stroke-width="0.10" x="37.25" y="464.10" text-anchor="middle" font-size="8.60" fill="#333333">0</text>
<text stroke="#333333" stroke-width="0.10" x="92.45" y="464.10" text-anchor="middle" font-size="8.60" fill="#333333">20</text>
<text stroke="#333333" stroke-width="0.10" x="147.65" y="464.10" text-anchor="middle" font-size="8.60" fill="#333333">40</text>
<text stroke="#333333" stroke-width="0.10" x="202.85" y="464.10" text-anchor="middle" font-size="8.60" fill="#333333">60</text>
<text stroke="#333333" stroke-width="0.10" x="258.05" y="464.10" text-anchor="middle" font-size="8.60" fill="#333333">80</text>
<text stroke="#333333" stroke-width="0.10" x="313.25" y="464.10" text-anchor="middle" font-size="8.60" fill="#333333">100</text>
<text stroke="#333333" stroke-width="0.10" x="33.95" y="454.70" text-anchor="end" font-size="8.60" fill="#333333">0</text>
<text stroke="#333333" stroke-width="0.10" x="33.95" y="418.35" text-anchor="end" font-size="8.60" fill="#333333">20</text>
<text stroke="#333333" stroke-width="0.10" x="33.95" y="382.00" text-anchor="end" font-size="8.60" fill="#333333">40</text>
<text stroke="#333333" stroke-width="0.10" x="33.95" y="345.65" text-anchor="end" font-size="8.60" fill="#333333">60</text>
<text stroke="#333333" stroke-width="0.10" x="33.95" y="309.30" text-anchor="end" font-size="8.60" fill="#333333">80</text>
<text stroke="#333333" stroke-width="0.10" x="33.95" y="272.95" text-anchor="end" font-size="8.60" fill="#333333">100</text>
<text stroke="#333333" stroke-width="0.10" x="175.25" y="475.15" text-anchor="middle" font-size="8.7" fill="#333333">Time (days)</text>
<text stroke="#333333" stroke-width="0.10" transform="translate(16.10,360.38) rotate(-90)" text-anchor="middle" font-size="8.8" fill="#333333">Tumor Size</text>
<text stroke="#111" stroke-width="0.10" x="175.25" y="264.80" text-anchor="middle" font-size="9.45" font-weight="bold" fill="#111">Adaptive</text>
<line x1="37.25" y1="315.24" x2="270.71" y2="315.24" stroke="#555555" stroke-width="1.45" stroke-dasharray="3.5 3.02"/>
<text stroke="#222" stroke-width="0.10" x="310.95" y="318.24" text-anchor="end" font-size="8.70" fill="#222">Rx Failure</text>
<line x1="37.25" y1="360.68" x2="285.70" y2="360.68" stroke="#555555" stroke-width="1.45" stroke-dasharray="3.5 3.02"/>
<text stroke="#222" stroke-width="0.10" x="310.95" y="363.68" text-anchor="end" font-size="8.70" fill="#222">Rx On</text>
<line x1="37.25" y1="415.20" x2="285.86" y2="415.20" stroke="#555555" stroke-width="1.45" stroke-dasharray="3.5 3.02"/>
<text stroke="#222" stroke-width="0.10" x="310.95" y="418.20" text-anchor="end" font-size="8.70" fill="#222">Rx Off</text>
<path d="M37.25,364.23 L37.28,364.66 L37.58,368.65 L37.61,368.96 L37.94,372.06 L37.97,372.27 L38.30,374.29 L38.33,374.42 L38.66,375.55 L38.69,375.61 L39.02,375.99 L39.04,375.99 L39.38,375.72 L39.40,375.68 L39.73,374.86 L40.01,373.83 L40.09,375.86 L40.12,376.52 L40.45,383.37 L40.48,383.87 L40.81,389.12 L40.84,389.50 L41.17,393.48 L41.20,393.76 L41.53,396.71 L41.56,396.92 L41.89,399.00 L41.91,399.15 L42.25,400.51 L42.27,400.60 L42.60,401.34 L42.63,401.38 L42.96,404.42 L42.99,404.80 L43.32,408.92 L43.35,409.22 L43.68,412.47 L43.71,412.70 L44.04,415.23 L44.07,415.41 L44.40,417.34 L44.43,417.48 L44.76,418.89 L44.78,418.99 L45.12,419.95 L45.14,420.02 L45.47,420.59 L45.50,420.62 L45.83,420.83 L45.89,420.83 L46.19,420.72 L46.22,420.69 L46.55,420.27 L46.58,420.22 L46.91,419.50 L46.94,419.43 L47.27,418.42 L47.30,418.33 L47.63,417.05 L47.66,416.94 L47.99,415.39 L48.01,415.25 L48.35,413.45 L48.37,413.29 L48.70,411.22 L48.73,411.04 L49.06,408.73 L49.09,408.53 L49.42,405.97 L49.45,405.75 L49.78,402.96 L49.81,402.72 L50.14,399.71 L50.17,399.45 L50.50,396.23 L50.53,395.95 L50.86,392.54 L50.88,392.25 L51.22,388.66 L51.24,388.35 L51.57,384.62 L51.60,384.30 L51.93,380.43 L51.96,380.10 L52.29,376.13 L52.32,375.80 L52.65,371.75 L52.68,371.41 L53.01,367.31 L53.04,366.97 L53.37,362.85 L53.40,362.51 L53.73,358.39 L53.75,358.05 L54.09,353.96 L54.11,353.63 L54.44,349.60 L54.47,349.26 L54.80,345.31 L54.83,344.99 L55.16,341.13 L55.19,340.82 L55.52,337.08 L55.55,336.77 L55.88,333.17 L55.91,332.87 L56.24,329.41 L56.27,329.13 L56.57,326.09 L56.63,328.00 L56.96,337.75 L56.98,338.44 L57.32,345.58 L57.34,346.09 L57.67,351.24 L57.70,351.60 L58.03,355.19 L58.06,355.44 L58.39,357.79 L58.42,357.94 L58.75,359.28 L58.78,359.35 L59.11,359.86 L59.33,359.83 L59.47,364.21 L59.50,365.03 L59.83,373.66 L59.85,374.29 L60.19,380.87 L60.21,381.35 L60.54,386.34 L60.57,386.70 L60.90,390.43 L60.93,390.70 L61.26,393.40 L61.29,393.59 L61.62,395.44 L61.65,395.56 L61.98,396.69 L62.01,396.76 L62.34,401.11 L62.37,401.53 L62.70,406.06 L62.72,406.39 L63.06,409.95 L63.08,410.21 L63.41,412.98 L63.44,413.18 L63.77,415.30 L63.80,415.45 L64.13,417.01 L64.16,417.12 L64.49,418.20 L64.52,418.27 L64.85,418.92 L64.88,418.96 L65.21,419.24 L65.32,419.26 L65.57,419.17 L65.60,419.15 L65.93,418.75 L65.95,418.71 L66.29,418.00 L66.31,417.93 L66.64,416.94 L66.67,416.84 L67.00,415.56 L67.03,415.45 L67.36,413.89 L67.39,413.75 L67.72,411.93 L67.75,411.77 L68.08,409.69 L68.11,409.51 L68.44,407.18 L68.47,406.97 L68.80,404.40 L68.82,404.17 L69.16,401.37 L69.18,401.12 L69.51,398.10 L69.54,397.84 L69.87,394.61 L69.90,394.33 L70.23,390.91 L70.26,390.62 L70.59,387.03 L70.62,386.73 L70.95,383.00 L70.98,382.68 L71.31,378.83 L71.34,378.50 L71.67,374.56 L71.69,374.23 L72.03,370.21 L72.05,369.87 L72.38,365.81 L72.41,365.47 L72.74,361.40 L72.77,361.06 L73.10,357.00 L73.13,356.66 L73.46,363.56 L73.49,364.05 L73.82,369.14 L73.85,369.50 L74.18,373.15 L74.21,373.40 L74.54,375.89 L74.57,376.06 L74.90,377.60 L74.92,377.69 L75.26,378.43 L75.28,378.46 L75.48,378.57 L75.89,378.15 L75.97,380.14 L76.00,380.77 L76.33,387.49 L76.36,387.98 L76.69,393.16 L76.72,393.53 L77.05,397.49 L77.08,397.78 L77.41,400.75 L77.44,400.97 L77.77,403.12 L77.79,403.27 L78.13,404.74 L78.15,404.84 L78.48,405.71 L78.51,405.76 L78.84,408.60 L78.87,408.95 L79.20,412.72 L79.23,413.00 L79.56,415.98 L79.59,416.20 L79.92,418.54 L79.95,418.71 L80.28,420.51 L80.31,420.63 L80.64,421.97 L80.66,422.06 L81.00,422.99 L81.02,423.05 L81.35,423.62 L81.38,423.66 L81.71,423.90 L81.85,423.92 L82.07,423.85 L82.10,423.84 L82.43,423.50 L82.46,423.46 L82.79,422.86 L82.82,422.80 L83.15,421.94 L83.18,421.86 L83.51,420.75 L83.54,420.65 L83.87,419.29 L83.89,419.17 L84.23,417.57 L84.25,417.43 L84.58,415.59 L84.61,415.43 L84.94,413.36 L84.97,413.18 L85.30,410.88 L85.33,410.68 L85.66,408.15 L85.69,407.93 L86.02,405.19 L86.05,404.96 L86.38,402.01 L86.41,401.75 L86.74,398.61 L86.76,398.34 L87.10,395.02 L87.12,394.74 L87.45,391.25 L87.48,390.96 L87.81,387.33 L87.84,387.02 L88.17,383.27 L88.20,382.95 L88.53,379.10 L88.56,378.77 L88.89,374.85 L88.92,374.52 L89.25,370.53 L89.28,370.20 L89.61,366.19 L89.63,365.86 L89.97,361.85 L89.99,361.52 L90.32,357.53 L90.35,357.20 L90.68,353.26 L90.71,352.93 L91.04,349.05 L91.07,348.73 L91.40,344.94 L91.43,344.63 L91.76,340.94 L91.79,340.63 L92.12,337.06 L92.15,336.77 L92.45,333.60 L92.51,335.35 L92.84,344.25 L92.86,344.89 L93.20,351.42 L93.22,351.88 L93.55,356.58 L93.58,356.91 L93.91,360.18 L93.94,360.40 L94.27,362.50 L94.30,362.64 L94.63,363.80 L94.66,363.86 L94.99,364.25 L95.21,364.16 L95.35,368.29 L95.38,369.06 L95.71,377.23 L95.73,377.82 L96.07,384.06 L96.09,384.52 L96.42,389.26 L96.45,389.61 L96.78,393.16 L96.81,393.41 L97.14,395.99 L97.17,396.17 L97.50,397.94 L97.53,398.06 L97.86,399.14 L97.89,399.21 L98.22,403.38 L98.25,403.78 L98.58,408.12 L98.60,408.44 L98.94,411.86 L98.96,412.11 L99.29,414.78 L99.32,414.98 L99.65,417.03 L99.68,417.17 L100.01,418.69 L100.04,418.80 L100.37,419.86 L100.40,419.93 L100.73,420.60 L100.76,420.85 L101.09,423.64 L101.12,423.85 L101.45,426.11 L101.48,426.28 L101.81,428.09 L101.83,428.22 L102.17,429.66 L102.19,429.76 L102.52,430.87 L102.55,430.95 L102.88,431.78 L102.91,431.84 L103.24,432.41 L103.27,432.44 L103.60,432.79 L103.63,432.81 L103.96,432.94 L104.01,432.94 L104.32,432.87 L104.35,432.86 L104.68,432.60 L104.70,432.57 L105.04,432.13 L105.06,432.09 L105.39,431.47 L105.42,431.41 L105.75,430.61 L105.78,430.54 L106.11,429.56 L106.14,429.47 L106.47,428.31 L106.50,428.21 L106.83,426.87 L106.86,426.75 L107.19,425.23 L107.22,425.10 L107.55,423.39 L107.57,423.24 L107.91,421.35 L107.93,421.19 L108.26,419.11 L108.29,418.93 L108.62,416.67 L108.65,416.48 L108.98,414.03 L109.01,413.82 L109.34,411.20 L109.37,410.98 L109.70,408.19 L109.73,407.95 L110.06,405.00 L110.09,404.75 L110.42,401.64 L110.45,401.38 L110.78,398.13 L110.80,397.86 L111.14,394.49 L111.16,394.20 L111.49,390.72 L111.52,390.43 L111.85,386.85 L111.88,386.55 L112.21,382.90 L112.24,382.59 L112.57,378.89 L112.60,378.58 L112.93,374.84 L112.96,374.53 L113.29,370.77 L113.32,370.46 L113.65,366.70 L113.67,366.39 L114.01,362.65 L114.03,362.34 L114.36,358.65 L114.53,356.82 L114.72,360.97 L114.75,361.51 L115.08,367.11 L115.11,367.50 L115.44,371.57 L115.47,371.85 L115.80,374.69 L115.83,374.89 L116.16,376.74 L116.19,376.86 L116.52,377.89 L116.54,377.95 L116.88,378.29 L116.90,378.30 L117.23,378.06 L117.29,377.97 L117.59,384.95 L117.62,385.51 L117.95,391.45 L117.98,391.88 L118.31,396.45 L118.34,396.78 L118.67,400.26 L118.70,400.51 L119.03,403.10 L119.06,403.28 L119.39,405.14 L119.42,405.27 L119.75,406.50 L119.77,406.58 L120.11,408.00 L120.13,408.40 L120.46,412.61 L120.49,412.92 L120.82,416.28 L120.85,416.53 L121.18,419.19 L121.21,419.38 L121.54,421.47 L121.57,421.62 L121.90,423.22 L121.93,423.34 L122.26,424.53 L122.29,424.61 L122.62,425.44 L122.64,425.50 L122.98,427.08 L123.00,427.28 L123.33,429.48 L123.36,429.65 L123.69,431.44 L123.72,431.58 L124.05,433.02 L124.08,433.13 L124.41,434.29 L124.44,434.37 L124.77,435.27 L124.80,435.34 L125.13,436.02 L125.16,436.07 L125.49,436.56 L125.51,436.59 L125.85,436.90 L125.87,436.92 L126.20,437.08 L126.23,437.08 L126.43,437.10 L126.59,437.09 L126.92,436.96 L126.95,436.94 L127.28,436.69 L127.31,436.66 L127.64,436.28 L127.67,436.24 L128.00,435.74 L128.03,435.69 L128.36,435.07 L128.39,435.02 L128.72,434.28 L128.74,434.21 L129.08,433.36 L129.10,433.29 L129.43,432.33 L129.46,432.24 L129.79,431.17 L129.82,431.07 L130.15,429.89 L130.18,429.78 L130.51,428.49 L130.54,428.38 L130.87,426.97 L130.90,426.85 L131.23,425.34 L131.26,425.21 L131.59,423.60 L131.61,423.46 L131.95,421.75 L131.97,421.60 L132.30,419.80 L132.33,419.64 L132.66,417.74 L132.69,417.58 L133.02,415.59 L133.05,415.42 L133.38,413.35 L133.41,413.17 L133.74,411.03 L133.77,410.85 L134.10,408.63 L134.13,408.44 L134.46,406.16 L134.48,405.97 L134.82,403.63 L134.84,403.43 L135.17,401.04 L135.20,400.84 L135.53,398.41 L135.56,398.21 L135.89,395.74 L135.92,395.53 L136.25,393.04 L136.28,392.83 L136.61,390.31 L136.64,390.70 L136.97,394.85 L137.00,395.14 L137.33,398.26 L137.36,398.48 L137.69,400.77 L137.71,400.93 L138.05,402.54 L138.07,402.65 L138.40,403.70 L138.43,403.77 L138.76,404.35 L138.79,404.38 L139.12,404.56 L139.37,404.49 L139.48,406.27 L139.51,406.70 L139.84,411.25 L139.87,411.58 L140.20,415.17 L140.23,415.43 L140.56,418.25 L140.58,418.45 L140.92,420.65 L140.94,420.81 L141.27,422.51 L141.30,422.63 L141.63,423.90 L141.66,423.99 L141.99,424.91 L142.02,424.97 L142.35,427.23 L142.38,427.47 L142.71,430.01 L142.74,430.20 L143.07,432.26 L143.10,432.41 L143.43,434.08 L143.45,434.20 L143.79,435.54 L143.81,435.64 L144.14,436.70 L144.17,436.78 L144.50,437.62 L144.53,437.68 L144.86,438.33 L144.89,438.38 L145.22,439.90 L145.25,440.01 L145.58,441.26 L145.61,441.35 L145.94,442.38 L145.97,442.46 L146.30,443.29 L146.33,443.36 L146.66,444.04 L146.68,444.09 L147.02,444.65 L147.04,444.69 L147.37,445.14 L147.40,445.17 L147.73,445.64 L147.76,445.70 L148.09,446.39 L148.12,446.44 L148.45,447.01 L148.48,447.05 L148.81,447.51 L148.84,447.55 L149.17,447.93 L149.20,447.96 L149.53,448.27 L149.55,448.30 L149.89,448.55 L149.91,448.57 L150.24,448.78 L150.27,448.80 L150.60,449.06 L150.63,449.09 L150.96,449.38 L150.99,449.40 L151.32,449.63 L151.35,449.65 L151.68,449.84 L151.71,449.85 L152.04,450.01 L152.07,450.02 L152.40,450.15 L152.42,450.16 L152.76,450.26 L152.78,450.27 L153.11,450.36 L153.14,450.36 L153.47,450.49 L153.50,450.50 L153.83,450.60 L153.86,450.61 L154.19,450.69 L154.22,450.70 L154.55,450.77 L154.58,450.78 L154.91,450.83 L154.94,450.84 L155.27,450.88 L155.30,450.89 L155.63,450.92 L155.65,450.93 L155.99,450.96 L156.01,450.96 L156.34,451.01 L156.37,451.01 L156.70,451.05 L156.73,451.05 L157.06,451.08 L157.09,451.08 L157.42,451.10 L157.45,451.10 L157.78,451.12 L157.81,451.12 L158.14,451.14 L158.41,451.15" fill="none" stroke="#2a7cc4" stroke-width="1.20" stroke-linejoin="round"/>
<path d="M37.25,450.39 L37.28,450.39 L37.58,450.39 L37.61,450.39 L37.94,450.40 L37.97,450.40 L38.30,450.40 L38.33,450.40 L38.66,450.40 L38.69,450.40 L39.02,450.40 L39.04,450.40 L39.38,450.40 L39.54,450.40 L39.73,450.40 L39.76,450.40 L40.09,450.40 L40.12,450.40 L40.45,450.40 L40.48,450.40 L40.81,450.39 L40.84,450.39 L41.17,450.38 L41.20,450.38 L41.53,450.37 L41.56,450.37 L41.89,450.36 L41.91,450.35 L42.25,450.34 L42.27,450.34 L42.60,450.32 L42.63,450.32 L42.96,450.31 L42.99,450.30 L43.32,450.29 L43.35,450.28 L43.68,450.26 L43.71,450.26 L44.04,450.23 L44.07,450.23 L44.40,450.20 L44.43,450.20 L44.76,450.17 L44.78,450.17 L45.12,450.14 L45.14,450.14 L45.47,450.10 L45.50,450.10 L45.83,450.07 L45.86,450.06 L46.19,450.03 L46.22,450.02 L46.55,449.99 L46.58,449.98 L46.91,449.95 L46.94,449.94 L47.27,449.91 L47.30,449.90 L47.63,449.87 L47.66,449.86 L47.99,449.83 L48.01,449.82 L48.35,449.79 L48.37,449.78 L48.70,449.75 L48.73,449.74 L49.06,449.71 L49.09,449.71 L49.42,449.67 L49.45,449.67 L49.78,449.64 L49.81,449.64 L50.14,449.61 L50.17,449.61 L50.50,449.58 L50.53,449.58 L50.86,449.56 L50.88,449.56 L51.22,449.54 L51.24,449.54 L51.57,449.53 L51.60,449.53 L51.93,449.52 L51.96,449.52 L52.29,449.52 L52.35,449.52 L52.65,449.52 L52.68,449.52 L53.01,449.53 L53.04,449.53 L53.37,449.54 L53.40,449.54 L53.73,449.56 L53.75,449.56 L54.09,449.58 L54.11,449.58 L54.44,449.61 L54.47,449.61 L54.80,449.64 L54.83,449.64 L55.16,449.68 L55.19,449.68 L55.52,449.72 L55.55,449.72 L55.88,449.76 L55.91,449.76 L56.24,449.81 L56.27,449.81 L56.60,449.85 L56.63,449.86 L56.96,449.90 L56.98,449.90 L57.32,449.93 L57.34,449.93 L57.67,449.96 L57.70,449.96 L58.03,449.98 L58.06,449.98 L58.39,449.99 L58.42,449.99 L58.75,450.01 L58.78,450.01 L59.11,450.02 L59.14,450.02 L59.47,450.04 L59.50,450.04 L59.83,450.04 L59.94,450.04 L60.19,450.04 L60.21,450.04 L60.54,450.03 L60.57,450.03 L60.90,450.02 L60.93,450.02 L61.26,450.01 L61.29,450.01 L61.62,449.99 L61.65,449.99 L61.98,449.97 L62.01,449.97 L62.34,449.95 L62.37,449.95 L62.70,449.93 L62.72,449.93 L63.06,449.90 L63.08,449.90 L63.41,449.86 L63.44,449.86 L63.77,449.83 L63.80,449.82 L64.13,449.79 L64.16,449.78 L64.49,449.74 L64.52,449.74 L64.85,449.69 L64.88,449.69 L65.21,449.65 L65.24,449.64 L65.57,449.60 L65.60,449.59 L65.93,449.54 L65.95,449.54 L66.29,449.49 L66.31,449.49 L66.64,449.44 L66.67,449.44 L67.00,449.39 L67.03,449.38 L67.36,449.33 L67.39,449.33 L67.72,449.28 L67.75,449.28 L68.08,449.23 L68.11,449.23 L68.44,449.19 L68.47,449.18 L68.80,449.14 L68.82,449.14 L69.16,449.10 L69.18,449.10 L69.51,449.06 L69.54,449.06 L69.87,449.03 L69.90,449.03 L70.23,449.00 L70.26,449.00 L70.59,448.98 L70.62,448.98 L70.95,448.97 L70.98,448.97 L71.31,448.96 L71.34,448.96 L71.58,448.96 L71.69,448.96 L72.03,448.96 L72.05,448.96 L72.38,448.97 L72.41,448.98 L72.74,448.99 L72.77,449.00 L73.10,449.02 L73.13,449.02 L73.46,449.05 L73.49,449.05 L73.82,449.06 L73.85,449.06 L74.18,449.07 L74.21,449.07 L74.54,449.07 L74.59,449.07 L74.90,449.07 L74.92,449.07 L75.26,449.07 L75.28,449.07 L75.61,449.06 L75.64,449.06 L75.97,449.06 L76.00,449.06 L76.33,449.05 L76.36,449.05 L76.69,449.03 L76.72,449.03 L77.05,449.00 L77.08,448.99 L77.41,448.96 L77.44,448.96 L77.77,448.92 L77.79,448.91 L78.13,448.87 L78.15,448.87 L78.48,448.82 L78.51,448.82 L78.84,448.77 L78.87,448.77 L79.20,448.71 L79.23,448.70 L79.56,448.64 L79.59,448.63 L79.92,448.56 L79.95,448.56 L80.28,448.48 L80.31,448.47 L80.64,448.39 L80.66,448.38 L81.00,448.30 L81.02,448.29 L81.35,448.20 L81.38,448.19 L81.71,448.09 L81.74,448.08 L82.07,447.99 L82.10,447.98 L82.43,447.87 L82.46,447.87 L82.79,447.76 L82.82,447.75 L83.15,447.64 L83.18,447.64 L83.51,447.53 L83.54,447.52 L83.87,447.41 L83.89,447.40 L84.23,447.29 L84.25,447.29 L84.58,447.18 L84.61,447.17 L84.94,447.07 L84.97,447.06 L85.30,446.96 L85.33,446.95 L85.66,446.86 L85.69,446.85 L86.02,446.77 L86.05,446.76 L86.38,446.68 L86.41,446.67 L86.74,446.60 L86.76,446.60 L87.10,446.54 L87.12,446.53 L87.45,446.48 L87.48,446.48 L87.81,446.44 L87.84,446.44 L88.17,446.41 L88.20,446.41 L88.53,446.39 L88.56,446.39 L88.72,446.39 L88.92,446.39 L89.25,446.41 L89.28,446.41 L89.61,446.44 L89.63,446.44 L89.97,446.48 L89.99,446.48 L90.32,446.54 L90.35,446.54 L90.68,446.61 L90.71,446.61 L91.04,446.69 L91.07,446.70 L91.40,446.79 L91.43,446.79 L91.76,446.89 L91.79,446.90 L92.12,447.01 L92.15,447.02 L92.48,447.13 L92.51,447.14 L92.84,447.24 L92.86,447.25 L93.20,447.32 L93.22,447.33 L93.55,447.39 L93.58,447.39 L93.91,447.44 L93.94,447.44 L94.27,447.48 L94.30,447.48 L94.63,447.51 L94.66,447.52 L94.99,447.55 L95.02,447.55 L95.35,447.58 L95.38,447.58 L95.71,447.59 L95.73,447.59 L96.07,447.58 L96.09,447.58 L96.42,447.56 L96.45,447.55 L96.78,447.52 L96.81,447.52 L97.14,447.47 L97.17,447.47 L97.50,447.42 L97.53,447.41 L97.86,447.36 L97.89,447.35 L98.22,447.29 L98.25,447.29 L98.58,447.21 L98.60,447.20 L98.94,447.12 L98.96,447.11 L99.29,447.01 L99.32,447.00 L99.65,446.89 L99.68,446.88 L100.01,446.76 L100.04,446.75 L100.37,446.63 L100.40,446.62 L100.73,446.48 L100.76,446.47 L101.09,446.33 L101.12,446.32 L101.45,446.16 L101.48,446.15 L101.81,445.98 L101.83,445.97 L102.17,445.79 L102.19,445.77 L102.52,445.58 L102.55,445.56 L102.88,445.36 L102.91,445.34 L103.24,445.13 L103.27,445.11 L103.60,444.89 L103.63,444.87 L103.96,444.64 L103.99,444.62 L104.32,444.37 L104.35,444.35 L104.68,444.10 L104.70,444.08 L105.04,443.82 L105.06,443.80 L105.39,443.53 L105.42,443.51 L105.75,443.24 L105.78,443.22 L106.11,442.94 L106.14,442.92 L106.47,442.64 L106.50,442.61 L106.83,442.33 L106.86,442.31 L107.19,442.03 L107.22,442.00 L107.55,441.72 L107.57,441.70 L107.91,441.42 L107.93,441.40 L108.26,441.13 L108.29,441.11 L108.62,440.85 L108.65,440.83 L108.98,440.58 L109.01,440.56 L109.34,440.32 L109.37,440.31 L109.70,440.09 L109.73,440.07 L110.06,439.87 L110.09,439.85 L110.42,439.68 L110.45,439.66 L110.78,439.51 L110.80,439.50 L111.14,439.37 L111.16,439.36 L111.49,439.26 L111.52,439.25 L111.85,439.19 L111.88,439.18 L112.21,439.14 L112.24,439.14 L112.49,439.13 L112.60,439.13 L112.93,439.16 L112.96,439.16 L113.29,439.22 L113.32,439.23 L113.65,439.31 L113.67,439.32 L114.01,439.44 L114.03,439.45 L114.36,439.60 L114.39,439.62 L114.72,439.78 L114.75,439.79 L115.08,439.91 L115.11,439.92 L115.44,440.00 L115.47,440.00 L115.80,440.05 L115.83,440.06 L116.16,440.09 L116.19,440.09 L116.52,440.11 L116.54,440.11 L116.88,440.12 L116.90,440.12 L117.23,440.13 L117.40,440.14 L117.59,440.13 L117.62,440.13 L117.95,440.07 L117.98,440.06 L118.31,439.96 L118.34,439.95 L118.67,439.81 L118.70,439.80 L119.03,439.64 L119.06,439.62 L119.39,439.44 L119.42,439.42 L119.75,439.22 L119.77,439.21 L120.11,439.00 L120.13,438.98 L120.46,438.74 L120.49,438.72 L120.82,438.44 L120.85,438.41 L121.18,438.10 L121.21,438.07 L121.54,437.73 L121.57,437.70 L121.90,437.33 L121.93,437.30 L122.26,436.90 L122.29,436.87 L122.62,436.45 L122.64,436.42 L122.98,435.98 L123.00,435.94 L123.33,435.47 L123.36,435.43 L123.69,434.92 L123.72,434.88 L124.05,434.34 L124.08,434.29 L124.41,433.72 L124.44,433.67 L124.77,433.06 L124.80,433.01 L125.13,432.37 L125.16,432.32 L125.49,431.65 L125.51,431.60 L125.85,430.90 L125.87,430.84 L126.20,430.12 L126.23,430.06 L126.56,429.32 L126.59,429.25 L126.92,428.48 L126.95,428.42 L127.28,427.63 L127.31,427.56 L127.64,426.76 L127.67,426.69 L128.00,425.86 L128.03,425.80 L128.36,424.96 L128.39,424.89 L128.72,424.04 L128.74,423.97 L129.08,423.11 L129.10,423.04 L129.43,422.19 L129.46,422.11 L129.79,421.26 L129.82,421.19 L130.15,420.33 L130.18,420.26 L130.51,419.42 L130.54,419.35 L130.87,418.52 L130.90,418.46 L131.23,417.65 L131.26,417.58 L131.59,416.80 L131.61,416.73 L131.95,415.98 L131.97,415.92 L132.30,415.20 L132.33,415.14 L132.66,414.47 L132.69,414.41 L133.02,413.78 L133.05,413.73 L133.38,413.15 L133.41,413.10 L133.74,412.57 L133.77,412.53 L134.10,412.06 L134.13,412.03 L134.46,411.62 L134.48,411.59 L134.82,411.25 L134.84,411.22 L135.17,410.95 L135.20,410.93 L135.53,410.73 L135.56,410.72 L135.89,410.59 L135.92,410.58 L136.25,410.53 L136.36,410.52 L136.61,410.54 L136.64,410.55 L136.80,410.56 L137.00,410.54 L137.33,410.44 L137.36,410.43 L137.69,410.24 L137.71,410.22 L138.05,409.98 L138.07,409.96 L138.40,409.68 L138.43,409.66 L138.76,409.35 L138.79,409.33 L139.12,409.01 L139.15,408.99 L139.48,408.67 L139.51,408.64 L139.84,408.22 L139.87,408.18 L140.20,407.63 L140.23,407.58 L140.56,406.93 L140.58,406.87 L140.92,406.14 L140.94,406.07 L141.27,405.27 L141.30,405.20 L141.63,404.34 L141.66,404.27 L141.99,403.37 L142.02,403.30 L142.35,402.36 L142.38,402.27 L142.71,401.24 L142.74,401.15 L143.07,400.02 L143.10,399.92 L143.43,398.71 L143.45,398.60 L143.79,397.33 L143.81,397.22 L144.14,395.88 L144.17,395.76 L144.50,394.37 L144.53,394.25 L144.86,392.81 L144.89,392.69 L145.22,391.21 L145.25,391.08 L145.58,389.52 L145.61,389.39 L145.94,387.77 L145.97,387.63 L146.30,385.95 L146.33,385.80 L146.66,384.07 L146.68,383.92 L147.02,382.15 L147.04,382.00 L147.37,380.18 L147.40,380.02 L147.73,378.18 L147.76,378.02 L148.09,376.14 L148.12,375.98 L148.45,374.05 L148.48,373.89 L148.81,371.93 L148.84,371.76 L149.17,369.77 L149.20,369.60 L149.53,367.58 L149.55,367.41 L149.89,365.37 L149.91,365.20 L150.24,363.14 L150.27,362.97 L150.60,360.91 L150.63,360.74 L150.96,358.67 L150.99,358.50 L151.32,356.42 L151.35,356.25 L151.68,354.16 L151.71,353.99 L152.04,351.90 L152.07,351.73 L152.40,349.65 L152.42,349.47 L152.76,347.40 L152.78,347.22 L153.11,345.16 L153.14,344.99 L153.47,342.95 L153.50,342.79 L153.83,340.77 L153.86,340.60 L154.19,338.61 L154.22,338.44 L154.55,336.46 L154.58,336.30 L154.91,334.35 L154.94,334.19 L155.27,332.26 L155.30,332.10 L155.63,330.21 L155.65,330.05 L155.99,328.19 L156.12,327.43" fill="none" stroke="#dc5f2a" stroke-width="1.20" stroke-linejoin="round"/>
<path d="M37.25,363.37 L37.28,363.80 L37.58,367.80 L37.61,368.11 L37.94,371.21 L37.97,371.42 L38.30,373.44 L38.33,373.57 L38.66,374.70 L38.69,374.76 L39.02,375.13 L39.04,375.14 L39.38,374.87 L39.40,374.82 L39.73,374.00 L40.01,372.98 L40.09,375.01 L40.12,375.67 L40.45,382.52 L40.48,383.02 L40.81,388.26 L40.84,388.64 L41.17,392.61 L41.20,392.90 L41.53,395.83 L41.56,396.03 L41.89,398.11 L41.91,398.25 L42.25,399.60 L42.27,399.69 L42.60,400.42 L42.63,400.45 L42.96,403.47 L42.99,403.86 L43.32,407.95 L43.35,408.26 L43.68,411.48 L43.71,411.71 L44.04,414.21 L44.07,414.40 L44.40,416.29 L44.43,416.43 L44.76,417.81 L44.78,417.91 L45.12,418.84 L45.14,418.90 L45.47,419.44 L45.50,419.47 L45.83,419.65 L45.86,419.65 L46.19,419.49 L46.22,419.47 L46.55,419.00 L46.58,418.95 L46.91,418.20 L46.94,418.12 L47.27,417.08 L47.30,416.98 L47.63,415.67 L47.66,415.55 L47.99,413.97 L48.01,413.82 L48.35,411.98 L48.37,411.82 L48.70,409.72 L48.73,409.53 L49.06,407.19 L49.09,406.98 L49.42,404.39 L49.45,404.17 L49.78,401.35 L49.81,401.11 L50.14,398.07 L50.17,397.80 L50.50,394.56 L50.53,394.28 L50.86,390.85 L50.88,390.56 L51.22,386.95 L51.24,386.65 L51.57,382.90 L51.60,382.58 L51.93,378.70 L51.96,378.37 L52.29,374.40 L52.32,374.07 L52.65,370.02 L52.68,369.68 L53.01,365.59 L53.04,365.25 L53.37,361.14 L53.40,360.80 L53.73,356.70 L53.75,356.36 L54.09,352.29 L54.11,351.96 L54.44,347.95 L54.47,347.62 L54.80,343.70 L54.83,343.38 L55.16,339.56 L55.19,339.25 L55.52,335.55 L55.55,335.24 L55.88,331.68 L55.91,331.39 L56.24,327.97 L56.27,327.69 L56.57,324.69 L56.63,326.61 L56.96,336.39 L56.98,337.09 L57.32,344.26 L57.34,344.77 L57.67,349.94 L57.70,350.30 L58.03,353.92 L58.06,354.16 L58.39,356.53 L58.42,356.68 L58.75,358.03 L58.78,358.11 L59.11,358.63 L59.33,358.61 L59.47,362.99 L59.50,363.82 L59.83,372.46 L59.85,373.08 L60.19,379.66 L60.21,380.14 L60.54,385.13 L60.57,385.49 L60.90,389.21 L60.93,389.47 L61.26,392.16 L61.29,392.35 L61.62,394.18 L61.65,394.31 L61.98,395.41 L62.01,395.48 L62.34,399.82 L62.37,400.24 L62.70,404.74 L62.72,405.07 L63.06,408.60 L63.08,408.86 L63.41,411.59 L63.44,411.79 L63.77,413.87 L63.80,414.02 L64.13,415.54 L64.16,415.65 L64.49,416.69 L64.52,416.76 L64.85,417.37 L64.88,417.40 L65.21,417.63 L65.26,417.64 L65.57,417.52 L65.60,417.49 L65.93,417.05 L65.95,417.00 L66.29,416.25 L66.31,416.17 L66.64,415.13 L66.67,415.03 L67.00,413.70 L67.03,413.58 L67.36,411.98 L67.39,411.83 L67.72,409.96 L67.75,409.80 L68.08,407.67 L68.11,407.49 L68.44,405.11 L68.47,404.90 L68.80,402.29 L68.82,402.06 L69.16,399.22 L69.18,398.97 L69.51,395.91 L69.54,395.65 L69.87,392.39 L69.90,392.11 L70.23,388.66 L70.26,388.37 L70.59,384.76 L70.62,384.46 L70.95,380.71 L70.98,380.40 L71.31,376.54 L71.34,376.21 L71.67,372.26 L71.69,371.93 L72.03,367.92 L72.05,367.58 L72.38,363.54 L72.41,363.20 L72.74,359.14 L72.77,358.81 L73.10,354.77 L73.13,354.43 L73.46,361.36 L73.49,361.85 L73.82,366.95 L73.85,367.31 L74.18,370.97 L74.21,371.22 L74.54,373.71 L74.57,373.88 L74.90,375.42 L74.92,375.51 L75.26,376.25 L75.28,376.28 L75.48,376.38 L75.89,375.97 L75.97,377.95 L76.00,378.58 L76.33,385.29 L76.36,385.78 L76.69,390.93 L76.72,391.31 L77.05,395.24 L77.08,395.53 L77.41,398.46 L77.44,398.67 L77.77,400.79 L77.79,400.94 L78.13,402.36 L78.15,402.46 L78.48,403.29 L78.51,403.33 L78.84,406.12 L78.87,406.47 L79.20,410.18 L79.23,410.45 L79.56,413.37 L79.59,413.59 L79.92,415.85 L79.95,416.02 L80.28,417.74 L80.31,417.86 L80.64,419.11 L80.66,419.20 L81.00,420.04 L81.02,420.09 L81.35,420.57 L81.38,420.59 L81.71,420.74 L81.74,420.74 L82.07,420.59 L82.10,420.56 L82.43,420.13 L82.46,420.08 L82.79,419.37 L82.82,419.30 L83.15,418.34 L83.18,418.25 L83.51,417.03 L83.54,416.92 L83.87,415.45 L83.89,415.32 L84.23,413.62 L84.25,413.47 L84.58,411.53 L84.61,411.35 L84.94,409.18 L84.97,408.99 L85.30,406.59 L85.33,406.38 L85.66,403.77 L85.69,403.54 L86.02,400.71 L86.05,400.47 L86.38,397.44 L86.41,397.18 L86.74,393.97 L86.76,393.69 L87.10,390.31 L87.12,390.02 L87.45,386.48 L87.48,386.18 L87.81,382.52 L87.84,382.21 L88.17,378.43 L88.20,378.11 L88.53,374.24 L88.56,373.92 L88.89,369.99 L88.92,369.66 L89.25,365.69 L89.28,365.36 L89.61,361.38 L89.63,361.05 L89.97,357.08 L89.99,356.75 L90.32,352.82 L90.35,352.49 L90.68,348.61 L90.71,348.29 L91.04,344.49 L91.07,344.18 L91.40,340.48 L91.43,340.17 L91.76,336.58 L91.79,336.28 L92.12,332.82 L92.15,332.53 L92.45,329.47 L92.51,331.24 L92.84,340.24 L92.86,340.88 L93.20,347.49 L93.22,347.96 L93.55,352.72 L93.58,353.05 L93.91,356.36 L93.94,356.59 L94.27,358.73 L94.30,358.87 L94.63,360.07 L94.66,360.13 L94.99,360.54 L95.21,360.47 L95.35,364.62 L95.38,365.40 L95.71,373.57 L95.73,374.16 L96.07,380.40 L96.09,380.85 L96.42,385.57 L96.45,385.91 L96.78,389.43 L96.81,389.68 L97.14,392.21 L97.17,392.39 L97.50,394.11 L97.53,394.22 L97.86,395.25 L97.89,395.31 L98.22,399.42 L98.25,399.82 L98.58,404.08 L98.60,404.40 L98.94,407.73 L98.96,407.97 L99.29,410.54 L99.32,410.73 L99.65,412.67 L99.68,412.81 L100.01,414.21 L100.04,414.30 L100.37,415.24 L100.40,415.30 L100.73,415.83 L100.76,416.08 L101.09,418.73 L101.12,418.92 L101.45,421.02 L101.48,421.18 L101.81,422.82 L101.83,422.94 L102.17,424.20 L102.19,424.29 L102.52,425.20 L102.55,425.27 L102.88,425.89 L102.91,425.93 L103.24,426.29 L103.27,426.31 L103.60,426.42 L103.63,426.43 L103.96,426.32 L103.99,426.30 L104.32,425.99 L104.35,425.96 L104.68,425.45 L104.70,425.40 L105.04,424.70 L105.06,424.64 L105.39,423.75 L105.42,423.67 L105.75,422.60 L105.78,422.50 L106.11,421.25 L106.14,421.14 L106.47,419.70 L106.50,419.57 L106.83,417.95 L106.86,417.81 L107.19,416.01 L107.22,415.85 L107.55,413.87 L107.57,413.69 L107.91,411.53 L107.93,411.34 L108.26,408.99 L108.29,408.79 L108.62,406.27 L108.65,406.05 L108.98,403.36 L109.01,403.13 L109.34,400.28 L109.37,400.03 L109.70,397.03 L109.73,396.77 L110.06,393.62 L110.09,393.35 L110.42,390.07 L110.45,389.79 L110.78,386.39 L110.80,386.10 L111.14,382.61 L111.16,382.31 L111.49,378.73 L111.52,378.43 L111.85,374.79 L111.88,374.48 L112.21,370.79 L112.24,370.49 L112.57,366.77 L112.60,366.46 L112.93,362.75 L112.96,362.44 L113.29,358.74 L113.32,358.43 L113.65,354.76 L113.67,354.46 L114.01,350.84 L114.03,350.55 L114.36,347.00 L114.53,345.25 L114.72,349.50 L114.75,350.06 L115.08,355.77 L115.11,356.17 L115.44,360.32 L115.47,360.61 L115.80,363.50 L115.83,363.70 L116.16,365.58 L116.19,365.70 L116.52,366.75 L116.54,366.81 L116.88,367.16 L116.93,367.17 L117.23,366.94 L117.29,366.86 L117.59,373.83 L117.62,374.39 L117.95,380.26 L117.98,380.69 L118.31,385.16 L118.34,385.48 L118.67,388.82 L118.70,389.06 L119.03,391.49 L119.06,391.66 L119.39,393.33 L119.42,393.44 L119.75,394.48 L119.77,394.54 L120.11,395.75 L120.13,396.12 L120.46,400.10 L120.49,400.39 L120.82,403.46 L120.85,403.69 L121.18,406.04 L121.21,406.20 L121.54,407.95 L121.57,408.07 L121.90,409.30 L121.93,409.38 L122.26,410.18 L122.29,410.23 L122.62,410.64 L122.64,410.66 L122.98,411.81 L123.00,411.97 L123.33,413.71 L123.36,413.83 L123.69,415.12 L123.72,415.21 L124.05,416.11 L124.08,416.17 L124.41,416.75 L124.44,416.79 L124.77,417.08 L124.80,417.10 L125.02,417.15 L125.16,417.14 L125.49,416.96 L125.51,416.93 L125.85,416.55 L125.87,416.51 L126.20,415.95 L126.23,415.89 L126.56,415.16 L126.59,415.09 L126.92,414.19 L126.95,414.11 L127.28,413.07 L127.31,412.97 L127.64,411.78 L127.67,411.68 L128.00,410.35 L128.03,410.24 L128.36,408.78 L128.39,408.65 L128.72,407.07 L128.74,406.93 L129.08,405.23 L129.10,405.08 L129.43,403.26 L129.46,403.10 L129.79,401.17 L129.82,401.01 L130.15,398.97 L130.18,398.80 L130.51,396.66 L130.54,396.48 L130.87,394.25 L130.90,394.06 L131.23,391.74 L131.26,391.54 L131.59,389.15 L131.61,388.95 L131.95,386.48 L131.97,386.27 L132.30,383.75 L132.33,383.53 L132.66,380.96 L132.69,380.74 L133.02,378.12 L133.05,377.90 L133.38,375.25 L133.41,375.03 L133.74,372.35 L133.77,372.13 L134.10,369.44 L134.13,369.22 L134.46,366.53 L134.48,366.31 L134.82,363.63 L134.84,363.41 L135.17,360.75 L135.20,360.53 L135.53,357.89 L135.56,357.68 L135.89,355.08 L135.92,354.87 L136.25,352.31 L136.28,352.10 L136.61,349.60 L136.64,350.00 L136.97,354.14 L137.00,354.44 L137.33,357.44 L137.36,357.65 L137.69,359.76 L137.71,359.90 L138.05,361.27 L138.07,361.36 L138.40,362.13 L138.43,362.17 L138.76,362.45 L138.82,362.46 L139.12,362.32 L139.37,362.01 L139.48,363.69 L139.51,364.09 L139.84,368.21 L139.87,368.51 L140.20,371.54 L140.23,371.76 L140.56,373.92 L140.58,374.07 L140.92,375.54 L140.94,375.64 L141.27,376.53 L141.30,376.58 L141.63,376.99 L141.66,377.01 L141.85,377.06 L142.13,376.94 L142.35,378.34 L142.38,378.49 L142.71,380.00 L142.74,380.10 L143.07,381.03 L143.10,381.08 L143.43,381.53 L143.45,381.56 L143.68,381.63 L143.81,381.60 L144.14,381.33 L144.17,381.29 L144.50,380.74 L144.53,380.68 L144.86,379.89 L144.89,379.82 L145.08,379.88 L145.25,379.84 L145.58,379.53 L145.61,379.49 L145.94,378.90 L145.97,378.83 L146.30,377.99 L146.33,377.91 L146.66,376.86 L146.68,376.77 L147.02,375.54 L147.04,375.44 L147.37,374.06 L147.40,373.94 L147.73,372.56 L147.76,372.47 L148.09,371.28 L148.12,371.17 L148.45,369.81 L148.48,369.69 L148.81,368.19 L148.84,368.06 L149.17,366.45 L149.20,366.31 L149.53,364.61 L149.55,364.46 L149.89,362.67 L149.91,362.52 L150.24,360.67 L150.27,360.52 L150.60,358.72 L150.63,358.58 L150.96,356.80 L150.99,356.64 L151.32,354.80 L151.35,354.64 L151.68,352.75 L151.71,352.59 L152.04,350.66 L152.07,350.50 L152.40,348.54 L152.42,348.38 L152.76,346.41 L152.78,346.24 L153.11,344.26 L153.14,344.10 L153.47,342.19 L153.50,342.03 L153.83,340.12 L153.86,339.96 L154.19,338.05 L154.22,337.89 L154.55,335.98 L154.58,335.83 L154.91,333.93 L154.94,333.77 L155.27,331.89 L155.30,331.74 L155.63,329.88 L155.65,329.73 L155.99,327.90 L156.01,327.75 L156.34,325.99 L156.37,325.84 L156.70,324.10 L156.73,323.96 L157.06,322.25 L157.09,322.11 L157.42,320.43 L157.45,320.29 L157.78,318.65 L157.81,318.51 L158.14,316.91 L158.41,315.59" fill="none" stroke="#a8203f" stroke-width="1.20" stroke-linejoin="round"/>
<path d="M401.05,269.50 L401.05,451.25 L677.20,451.25" fill="none" stroke="#4a4a4a" stroke-width="1.00"/>
<line x1="401.05" y1="451.25" x2="401.05" y2="448.65" stroke="#4a4a4a" stroke-width="1.00"/>
<line x1="456.28" y1="451.25" x2="456.28" y2="448.65" stroke="#4a4a4a" stroke-width="1.00"/>
<line x1="511.51" y1="451.25" x2="511.51" y2="448.65" stroke="#4a4a4a" stroke-width="1.00"/>
<line x1="566.74" y1="451.25" x2="566.74" y2="448.65" stroke="#4a4a4a" stroke-width="1.00"/>
<line x1="621.97" y1="451.25" x2="621.97" y2="448.65" stroke="#4a4a4a" stroke-width="1.00"/>
<line x1="677.20" y1="451.25" x2="677.20" y2="448.65" stroke="#4a4a4a" stroke-width="1.00"/>
<line x1="401.05" y1="451.25" x2="403.65" y2="451.25" stroke="#4a4a4a" stroke-width="1.00"/>
<line x1="401.05" y1="428.53" x2="403.65" y2="428.53" stroke="#4a4a4a" stroke-width="1.00"/>
<line x1="401.05" y1="405.81" x2="403.65" y2="405.81" stroke="#4a4a4a" stroke-width="1.00"/>
<line x1="401.05" y1="383.09" x2="403.65" y2="383.09" stroke="#4a4a4a" stroke-width="1.00"/>
<line x1="401.05" y1="360.38" x2="403.65" y2="360.38" stroke="#4a4a4a" stroke-width="1.00"/>
<line x1="401.05" y1="337.66" x2="403.65" y2="337.66" stroke="#4a4a4a" stroke-width="1.00"/>
<line x1="401.05" y1="314.94" x2="403.65" y2="314.94" stroke="#4a4a4a" stroke-width="1.00"/>
<line x1="401.05" y1="292.22" x2="403.65" y2="292.22" stroke="#4a4a4a" stroke-width="1.00"/>
<line x1="401.05" y1="269.50" x2="403.65" y2="269.50" stroke="#4a4a4a" stroke-width="1.00"/>
<rect x="401.05" y="269.50" width="7.73" height="182.35" fill="#d2d4d4" fill-opacity="0.50"/>
<rect x="420.10" y="269.50" width="8.28" height="182.35" fill="#d2d4d4" fill-opacity="0.50"/>
<rect x="436.95" y="269.50" width="7.73" height="182.35" fill="#d2d4d4" fill-opacity="0.50"/>
<rect x="456.00" y="269.50" width="10.77" height="182.35" fill="#d2d4d4" fill-opacity="0.50"/>
<rect x="478.23" y="269.50" width="10.63" height="182.35" fill="#d2d4d4" fill-opacity="0.50"/>
<rect x="499.91" y="269.50" width="19.47" height="182.35" fill="#d2d4d4" fill-opacity="0.50"/>
<text stroke="#333333" stroke-width="0.10" x="401.05" y="464.10" text-anchor="middle" font-size="8.60" fill="#333333">0</text>
<text stroke="#333333" stroke-width="0.10" x="456.28" y="464.10" text-anchor="middle" font-size="8.60" fill="#333333">20</text>
<text stroke="#333333" stroke-width="0.10" x="511.51" y="464.10" text-anchor="middle" font-size="8.60" fill="#333333">40</text>
<text stroke="#333333" stroke-width="0.10" x="566.74" y="464.10" text-anchor="middle" font-size="8.60" fill="#333333">60</text>
<text stroke="#333333" stroke-width="0.10" x="621.97" y="464.10" text-anchor="middle" font-size="8.60" fill="#333333">80</text>
<text stroke="#333333" stroke-width="0.10" x="677.20" y="464.10" text-anchor="middle" font-size="8.60" fill="#333333">100</text>
<text stroke="#333333" stroke-width="0.10" x="397.75" y="454.70" text-anchor="end" font-size="8.60" fill="#333333">0</text>
<text stroke="#333333" stroke-width="0.10" x="397.75" y="431.98" text-anchor="end" font-size="8.60" fill="#333333">0.5</text>
<text stroke="#333333" stroke-width="0.10" x="397.75" y="409.26" text-anchor="end" font-size="8.60" fill="#333333">1</text>
<text stroke="#333333" stroke-width="0.10" x="397.75" y="386.54" text-anchor="end" font-size="8.60" fill="#333333">1.5</text>
<text stroke="#333333" stroke-width="0.10" x="397.75" y="363.82" text-anchor="end" font-size="8.60" fill="#333333">2</text>
<text stroke="#333333" stroke-width="0.10" x="397.75" y="341.11" text-anchor="end" font-size="8.60" fill="#333333">2.5</text>
<text stroke="#333333" stroke-width="0.10" x="397.75" y="318.39" text-anchor="end" font-size="8.60" fill="#333333">3</text>
<text stroke="#333333" stroke-width="0.10" x="397.75" y="295.67" text-anchor="end" font-size="8.60" fill="#333333">3.5</text>
<text stroke="#333333" stroke-width="0.10" x="397.75" y="272.95" text-anchor="end" font-size="8.60" fill="#333333">4</text>
<text stroke="#333333" stroke-width="0.10" x="539.12" y="475.15" text-anchor="middle" font-size="8.7" fill="#333333">Time (days)</text>
<text stroke="#333333" stroke-width="0.10" transform="translate(381.60,360.38) rotate(-90)" text-anchor="middle" font-size="8.8" fill="#333333">Drug Concentration and Toxicity</text>
<text stroke="#111" stroke-width="0.10" x="539.12" y="264.80" text-anchor="middle" font-size="9.45" font-weight="bold" fill="#111">Adaptive</text>
<line x1="401.05" y1="360.68" x2="646.90" y2="360.68" stroke="#555555" stroke-width="1.45" stroke-dasharray="3.5 3.02"/>
<text stroke="#222" stroke-width="0.10" x="674.90" y="363.68" text-anchor="end" font-size="8.70" fill="#222">Tox Off</text>
<line x1="401.05" y1="406.11" x2="646.74" y2="406.11" stroke="#555555" stroke-width="1.45" stroke-dasharray="3.5 3.02"/>
<text stroke="#222" stroke-width="0.10" x="674.90" y="409.11" text-anchor="end" font-size="8.70" fill="#222">Tox On</text>
<path d="M401.05,411.26 L401.08,411.52 L401.38,414.20 L401.41,414.43 L401.74,417.13 L401.77,417.35 L402.10,419.84 L402.13,420.04 L402.46,422.33 L402.49,422.51 L402.82,424.62 L402.84,424.79 L403.18,426.73 L403.20,426.88 L403.54,428.67 L403.78,429.93 L403.81,390.08 L403.92,391.61 L404.25,395.99 L404.28,396.34 L404.61,400.36 L404.64,400.69 L404.97,404.40 L405.00,404.69 L405.33,408.11 L405.36,408.38 L405.69,411.53 L405.72,411.78 L406.05,414.67 L406.08,414.91 L406.41,417.57 L406.55,418.62 L406.57,378.85 L406.79,382.43 L407.13,387.48 L407.15,387.89 L407.48,392.53 L407.51,392.91 L407.84,397.19 L407.87,397.53 L408.20,401.47 L408.23,401.79 L408.56,405.41 L408.59,405.70 L408.92,409.05 L408.95,409.31 L409.28,412.39 L409.31,412.64 L409.64,415.47 L409.67,415.70 L410.00,418.30 L410.02,418.51 L410.36,420.91 L410.38,421.11 L410.72,423.32 L410.74,423.50 L411.07,425.53 L411.10,425.69 L411.43,427.57 L411.46,427.72 L411.79,429.45 L411.82,429.58 L412.15,431.17 L412.18,431.30 L412.51,432.76 L412.54,432.88 L412.87,434.23 L412.90,434.34 L413.23,435.58 L413.26,435.68 L413.59,436.82 L413.61,436.91 L413.95,437.96 L413.97,438.05 L414.31,439.02 L414.33,439.09 L414.66,439.98 L414.69,440.06 L415.02,440.88 L415.05,440.94 L415.38,441.70 L415.41,441.76 L415.74,442.46 L415.77,442.51 L416.10,443.15 L416.13,443.20 L416.46,443.79 L416.49,443.84 L416.82,444.39 L416.85,444.43 L417.18,444.93 L417.20,444.97 L417.54,445.43 L417.56,445.47 L417.90,445.89 L417.92,445.93 L418.25,446.32 L418.28,446.35 L418.61,446.71 L418.64,446.74 L418.97,447.07 L419.00,447.09 L419.33,447.40 L419.36,447.42 L419.69,447.70 L419.72,447.73 L420.05,447.98 L420.35,448.20 L420.38,408.24 L420.44,408.78 L420.77,411.90 L420.79,412.15 L421.13,415.02 L421.15,415.25 L421.49,417.89 L421.51,418.10 L421.84,420.53 L421.87,420.72 L422.20,422.96 L422.23,423.14 L422.56,425.21 L422.59,425.37 L422.92,427.27 L423.11,428.31 L423.14,388.47 L423.31,390.82 L423.64,395.25 L423.67,395.61 L424.00,399.69 L424.03,400.02 L424.36,403.77 L424.38,404.08 L424.72,407.54 L424.74,407.81 L425.08,411.00 L425.10,411.25 L425.43,414.19 L425.46,414.42 L425.79,417.13 L425.88,417.77 L425.90,378.00 L426.18,382.50 L426.51,387.55 L426.54,387.95 L426.87,392.59 L426.90,392.97 L427.23,397.24 L427.26,397.58 L427.59,401.52 L427.62,401.84 L427.95,405.46 L427.97,405.75 L428.31,409.09 L428.33,409.36 L428.67,412.43 L428.69,412.68 L429.02,415.51 L429.05,415.73 L429.38,418.34 L429.41,418.55 L429.74,420.95 L429.77,421.14 L430.10,423.35 L430.13,423.52 L430.46,425.56 L430.49,425.72 L430.82,427.59 L430.85,427.74 L431.18,429.47 L431.21,429.61 L431.54,431.19 L431.56,431.32 L431.90,432.78 L431.92,432.90 L432.25,434.25 L432.28,434.35 L432.61,435.59 L432.64,435.69 L432.97,436.83 L433.00,436.93 L433.33,437.98 L433.36,438.06 L433.69,439.03 L433.72,439.11 L434.05,440.00 L434.08,440.07 L434.41,440.89 L434.44,440.95 L434.77,441.71 L434.80,441.77 L435.13,442.47 L435.15,442.52 L435.49,443.16 L435.51,443.21 L435.84,443.80 L435.87,443.85 L436.20,444.39 L436.23,444.44 L436.56,444.94 L436.59,444.98 L436.92,445.44 L436.95,405.49 L437.28,408.85 L437.31,409.11 L437.64,412.21 L437.67,412.45 L438.00,415.30 L438.03,415.53 L438.36,418.15 L438.39,418.36 L438.72,420.77 L438.74,420.96 L439.08,423.19 L439.10,423.36 L439.43,425.41 L439.68,426.84 L439.71,387.01 L439.82,388.63 L440.15,393.22 L440.18,393.59 L440.51,397.82 L440.54,398.16 L440.87,402.05 L440.90,402.36 L441.23,405.95 L441.26,406.24 L441.59,409.54 L441.62,409.80 L441.95,412.84 L441.98,413.09 L442.31,415.89 L442.44,416.99 L442.47,377.22 L442.69,380.89 L443.02,386.05 L443.05,386.47 L443.38,391.22 L443.41,391.60 L443.74,395.98 L443.77,396.33 L444.10,400.35 L444.13,400.68 L444.46,404.39 L444.49,404.68 L444.82,408.10 L444.85,408.37 L445.18,411.52 L445.21,411.77 L445.54,414.67 L445.57,414.90 L445.90,417.57 L445.92,417.78 L446.26,420.24 L446.28,420.43 L446.61,422.69 L446.64,422.87 L446.97,424.96 L447.00,425.12 L447.33,427.04 L447.36,427.19 L447.69,428.96 L447.72,429.10 L448.05,430.72 L448.08,430.85 L448.41,432.35 L448.44,432.47 L448.77,433.85 L448.80,433.96 L449.13,435.23 L449.16,435.33 L449.49,436.50 L449.51,436.59 L449.85,437.67 L449.87,437.75 L450.20,438.74 L450.23,438.82 L450.56,439.73 L450.59,439.81 L450.92,440.65 L450.95,440.71 L451.28,441.49 L451.31,441.55 L451.64,442.26 L451.67,442.32 L452.00,442.97 L452.03,443.02 L452.36,443.63 L452.39,443.68 L452.72,444.23 L452.75,444.28 L453.08,444.79 L453.10,444.83 L453.44,445.30 L453.46,445.34 L453.79,445.77 L453.82,445.81 L454.15,446.21 L454.18,446.24 L454.51,446.60 L454.54,446.63 L454.87,446.97 L454.90,447.00 L455.23,447.31 L455.26,447.34 L455.59,447.62 L455.62,447.65 L455.95,447.91 L456.25,448.14 L456.28,408.17 L456.34,408.71 L456.67,411.84 L456.69,412.09 L457.03,414.96 L457.05,415.19 L457.38,417.83 L457.41,418.05 L457.74,420.48 L457.77,420.68 L458.10,422.92 L458.13,423.10 L458.46,425.16 L458.49,425.33 L458.82,427.23 L459.01,428.28 L459.04,388.44 L459.21,390.78 L459.54,395.22 L459.57,395.58 L459.90,399.66 L459.93,399.99 L460.26,403.75 L460.28,404.05 L460.62,407.51 L460.64,407.79 L460.97,410.98 L461.00,411.23 L461.33,414.17 L461.36,414.40 L461.69,417.11 L461.78,417.75 L461.80,377.98 L462.08,382.49 L462.41,387.53 L462.44,387.93 L462.77,392.58 L462.80,392.95 L463.13,397.23 L463.16,397.57 L463.49,401.51 L463.52,401.82 L463.85,405.45 L463.87,405.74 L464.21,409.08 L464.54,412.17 L464.56,372.44 L464.59,372.93 L464.92,378.68 L464.95,379.14 L465.28,384.43 L465.31,384.85 L465.64,389.72 L465.67,390.11 L466.00,394.60 L466.03,394.96 L466.36,399.09 L466.39,399.42 L466.72,403.22 L466.75,403.53 L467.08,407.03 L467.11,407.31 L467.44,410.53 L467.46,410.79 L467.80,413.76 L467.82,413.99 L468.15,416.73 L468.18,416.95 L468.51,419.46 L468.54,419.66 L468.87,421.98 L468.90,422.17 L469.23,424.30 L469.26,424.47 L469.59,426.44 L469.62,426.59 L469.95,428.40 L469.98,428.55 L470.31,430.21 L470.34,430.35 L470.67,431.88 L470.70,432.00 L471.03,433.41 L471.05,433.53 L471.39,434.83 L471.41,434.93 L471.74,436.13 L471.77,436.22 L472.10,437.33 L472.13,437.42 L472.46,438.43 L472.49,438.51 L472.82,439.45 L472.85,439.52 L473.18,440.38 L473.21,440.45 L473.54,441.24 L473.57,441.31 L473.90,442.04 L473.93,442.09 L474.26,442.77 L474.28,442.82 L474.62,443.44 L474.64,443.49 L474.98,444.06 L475.00,444.10 L475.33,444.63 L475.36,444.67 L475.69,445.15 L475.72,445.19 L476.05,445.63 L476.08,445.67 L476.41,446.08 L476.44,446.11 L476.77,446.49 L476.80,446.52 L477.13,446.87 L477.16,446.89 L477.49,447.21 L477.52,447.24 L477.85,447.53 L477.87,447.56 L478.21,447.83 L478.34,447.94 L478.37,407.97 L478.59,410.11 L478.92,413.13 L478.95,413.37 L479.28,416.15 L479.31,416.38 L479.64,418.93 L479.67,419.14 L480.00,421.49 L480.03,421.68 L480.36,423.85 L480.39,424.03 L480.72,426.02 L480.75,426.18 L481.08,428.02 L481.11,428.17 L481.13,388.33 L481.46,392.95 L481.80,397.22 L481.82,397.57 L482.16,401.50 L482.18,401.82 L482.51,405.45 L482.54,405.74 L482.87,409.08 L482.90,409.34 L483.23,412.42 L483.26,412.66 L483.59,415.49 L483.87,417.69 L483.90,377.92 L483.98,379.31 L484.31,384.58 L484.34,385.01 L484.67,389.87 L484.70,390.25 L485.03,394.73 L485.05,395.09 L485.39,399.21 L485.41,399.54 L485.75,403.33 L485.77,403.63 L486.10,407.13 L486.13,407.41 L486.46,410.62 L486.63,412.14 L486.66,372.41 L486.85,375.83 L487.18,381.37 L487.21,381.81 L487.54,386.90 L487.57,387.31 L487.90,392.00 L487.93,392.38 L488.26,396.70 L488.29,397.04 L488.62,401.02 L488.64,401.34 L488.98,405.00 L489.00,405.29 L489.34,408.66 L489.36,408.93 L489.69,412.04 L489.72,412.29 L490.05,415.15 L490.08,415.37 L490.41,418.01 L490.44,418.22 L490.77,420.64 L490.80,420.83 L491.13,423.07 L491.16,423.24 L491.49,425.30 L491.52,425.46 L491.85,427.35 L491.88,427.51 L492.21,429.25 L492.23,429.39 L492.57,430.99 L492.59,431.12 L492.93,432.60 L492.95,432.71 L493.28,434.07 L493.31,434.18 L493.64,435.44 L493.67,435.54 L494.00,436.69 L494.03,436.78 L494.36,437.84 L494.39,437.93 L494.72,438.90 L494.75,438.98 L495.08,439.88 L495.11,439.95 L495.44,440.78 L495.47,440.85 L495.80,441.61 L495.82,441.67 L496.16,442.38 L496.18,442.43 L496.52,443.08 L496.54,443.13 L496.87,443.73 L496.90,443.77 L497.23,444.32 L497.26,444.37 L497.59,444.87 L497.62,444.91 L497.95,445.38 L497.98,445.41 L498.31,445.84 L498.34,445.88 L498.67,446.27 L498.70,446.30 L499.03,446.67 L499.06,446.69 L499.39,447.03 L499.41,447.06 L499.75,447.36 L499.77,447.39 L500.11,447.67 L500.44,447.93 L500.46,407.97 L500.49,408.24 L500.82,411.40 L500.85,411.65 L501.18,414.56 L501.21,414.79 L501.54,417.46 L501.57,417.68 L501.90,420.14 L501.93,420.34 L502.26,422.61 L502.29,422.79 L502.62,424.88 L502.65,425.04 L502.98,426.97 L503.20,428.17 L503.23,388.33 L503.36,390.30 L503.69,394.77 L503.72,395.13 L504.05,399.24 L504.08,399.57 L504.41,403.36 L504.44,403.67 L504.77,407.16 L504.80,407.44 L505.13,410.65 L505.16,410.91 L505.49,413.87 L505.52,414.11 L505.85,416.83 L505.96,417.69 L505.99,377.92 L506.24,381.99 L506.57,387.08 L506.59,387.48 L506.93,392.16 L506.95,392.53 L507.28,396.84 L507.31,397.19 L507.64,401.15 L507.67,401.47 L508.00,405.12 L508.03,405.41 L508.36,408.78 L508.39,409.05 L508.72,412.14 L508.75,372.41 L509.08,378.19 L509.11,378.65 L509.44,383.98 L509.47,384.40 L509.80,389.31 L509.83,389.70 L510.16,394.22 L510.18,394.58 L510.52,398.74 L510.54,399.07 L510.87,402.90 L510.90,403.20 L511.23,406.73 L511.48,409.20 L511.51,369.48 L511.62,371.53 L511.95,377.38 L511.98,377.85 L512.31,383.23 L512.34,383.67 L512.67,388.62 L512.70,389.02 L513.03,393.59 L513.06,393.95 L513.39,398.16 L513.42,398.49 L513.75,402.36 L513.77,402.67 L514.11,406.24 L514.24,407.64 L514.27,367.93 L514.49,372.06 L514.82,377.87 L514.85,378.33 L515.18,383.68 L515.21,384.11 L515.54,389.04 L515.57,389.43 L515.90,393.97 L515.93,394.33 L516.26,398.51 L516.29,398.84 L516.62,402.69 L516.65,402.99 L516.98,406.53 L517.01,406.82 L517.03,367.11 L517.36,373.29 L517.70,379.01 L517.72,379.46 L518.05,384.73 L518.08,385.15 L518.41,390.00 L518.44,390.39 L518.77,394.85 L518.80,395.21 L519.13,399.32 L519.16,399.65 L519.49,403.44 L519.77,406.38 L519.79,366.68 L519.88,368.27 L520.21,374.36 L520.24,374.85 L520.57,380.45 L520.60,380.90 L520.93,386.06 L520.95,386.48 L521.29,391.23 L521.31,391.61 L521.64,395.98 L521.67,396.33 L522.00,400.36 L522.28,403.49" fill="none" stroke="#7e3496" stroke-width="1.20" stroke-linejoin="round"/>
<path d="M401.05,451.25 L401.08,450.81 L401.38,446.24 L401.41,445.85 L401.74,441.51 L401.77,441.17 L402.10,437.43 L402.13,437.14 L402.46,433.93 L402.49,433.69 L402.82,430.96 L402.84,430.75 L403.18,428.46 L403.20,428.29 L403.54,426.38 L403.56,426.24 L403.89,423.36 L403.92,422.82 L404.25,416.76 L404.28,416.30 L404.61,411.16 L404.64,410.77 L404.97,406.46 L405.00,406.13 L405.33,402.55 L405.36,402.28 L405.69,399.35 L405.72,399.13 L406.05,396.79 L406.08,396.62 L406.41,394.79 L406.43,394.66 L406.77,390.29 L406.79,389.79 L407.13,384.23 L407.15,383.81 L407.48,379.24 L407.51,378.90 L407.84,375.20 L407.87,374.93 L408.20,372.01 L408.23,371.79 L408.56,369.56 L408.59,369.40 L408.92,367.78 L408.95,367.67 L409.28,366.59 L409.31,366.52 L409.64,365.91 L409.67,365.88 L410.00,365.69 L410.02,365.69 L410.36,365.86 L410.38,365.89 L410.72,366.38 L410.74,366.43 L411.07,367.19 L411.10,367.26 L411.43,368.25 L411.46,368.34 L411.79,369.53 L411.82,369.64 L412.15,371.00 L412.18,371.12 L412.51,372.62 L412.54,372.75 L412.87,374.37 L412.90,374.51 L413.23,376.22 L413.26,376.37 L413.59,378.16 L413.61,378.31 L413.95,380.16 L413.97,380.31 L414.31,382.20 L414.33,382.36 L414.66,384.28 L414.69,384.44 L415.02,386.37 L415.05,386.53 L415.38,388.47 L415.41,388.63 L415.74,390.57 L415.77,390.73 L416.10,392.66 L416.13,392.82 L416.46,394.73 L416.49,394.89 L416.82,396.77 L416.85,396.93 L417.18,398.79 L417.20,398.94 L417.54,400.77 L417.56,400.92 L417.90,402.71 L417.92,402.85 L418.25,404.60 L418.28,404.75 L418.61,406.46 L418.64,406.60 L418.97,408.26 L419.00,408.40 L419.33,410.02 L419.36,410.15 L419.69,411.72 L419.72,411.85 L420.05,413.38 L420.08,413.50 L420.38,414.86 L420.44,414.22 L420.77,410.75 L420.79,410.49 L421.13,407.62 L421.15,407.41 L421.49,405.09 L421.51,404.91 L421.84,403.07 L421.87,402.94 L422.20,401.53 L422.23,401.43 L422.56,400.39 L422.59,400.32 L422.92,399.62 L422.95,399.58 L423.28,397.00 L423.31,396.56 L423.64,391.72 L423.67,391.35 L424.00,387.37 L424.03,387.07 L424.36,383.86 L424.38,383.62 L424.72,381.09 L424.74,380.90 L425.08,378.97 L425.10,378.84 L425.43,377.44 L425.46,377.35 L425.79,376.42 L425.82,376.36 L426.15,372.04 L426.18,371.61 L426.51,366.97 L426.54,366.63 L426.87,362.92 L426.90,362.65 L427.23,359.77 L427.26,359.56 L427.59,357.42 L427.62,357.26 L427.95,355.77 L427.97,355.67 L428.31,354.74 L428.33,354.68 L428.67,354.26 L428.86,354.20 L429.02,354.25 L429.05,354.27 L429.38,354.66 L429.41,354.71 L429.74,355.43 L429.77,355.51 L430.10,356.51 L430.13,356.61 L430.46,357.86 L430.49,357.97 L430.82,359.43 L430.85,359.56 L431.18,361.20 L431.21,361.34 L431.54,363.12 L431.56,363.27 L431.90,365.17 L431.92,365.33 L432.25,367.32 L432.28,367.49 L432.61,369.56 L432.64,369.73 L432.97,371.85 L433.00,372.03 L433.33,374.19 L433.36,374.37 L433.69,376.56 L433.72,376.74 L434.05,378.94 L434.08,379.13 L434.41,381.33 L434.44,381.51 L434.77,383.70 L434.80,383.88 L435.13,386.06 L435.15,386.24 L435.49,388.39 L435.51,388.57 L435.84,390.69 L435.87,390.87 L436.20,392.96 L436.23,393.13 L436.56,395.18 L436.59,395.35 L436.92,397.35 L436.95,397.52 L437.28,394.47 L437.31,394.24 L437.64,391.81 L437.67,391.63 L438.00,389.75 L438.03,389.61 L438.36,388.21 L438.39,388.11 L438.72,387.14 L438.74,387.08 L439.08,386.49 L439.10,386.46 L439.43,386.20 L439.71,386.19 L439.79,384.91 L439.82,384.49 L440.15,379.98 L440.18,379.64 L440.51,375.99 L440.54,375.72 L440.87,372.84 L440.90,372.63 L441.23,370.43 L441.26,370.27 L441.59,368.68 L441.62,368.57 L441.95,367.50 L441.98,367.43 L442.31,366.84 L442.33,366.81 L442.67,363.62 L442.69,363.21 L443.02,358.79 L443.05,358.46 L443.38,354.98 L443.41,354.72 L443.74,352.07 L443.77,351.88 L444.10,349.96 L444.13,349.83 L444.46,348.56 L444.49,348.48 L444.82,347.77 L444.85,347.74 L445.18,347.53 L445.21,347.54 L445.54,347.77 L445.57,347.80 L445.90,348.42 L445.92,348.48 L446.26,349.42 L446.28,349.51 L446.61,350.73 L446.64,350.84 L446.97,352.30 L447.00,352.43 L447.33,354.09 L447.36,354.24 L447.69,356.07 L447.72,356.23 L448.05,358.20 L448.08,358.37 L448.41,360.45 L448.44,360.63 L448.77,362.80 L448.80,362.98 L449.13,365.22 L449.16,365.41 L449.49,367.70 L449.51,367.90 L449.85,370.22 L449.87,370.42 L450.20,372.76 L450.23,372.96 L450.56,375.31 L450.59,375.51 L450.92,377.86 L450.95,378.05 L451.28,380.39 L451.31,380.58 L451.64,382.89 L451.67,383.08 L452.00,385.37 L452.03,385.56 L452.36,387.81 L452.39,387.99 L452.72,390.20 L452.75,390.39 L453.08,392.55 L453.10,392.73 L453.44,394.85 L453.46,395.02 L453.79,397.09 L453.82,397.26 L454.15,399.27 L454.18,399.44 L454.51,401.40 L454.54,401.56 L454.87,403.46 L454.90,403.62 L455.23,405.46 L455.26,405.62 L455.59,407.40 L455.62,407.55 L455.95,409.28 L455.98,409.42 L456.28,410.96 L456.34,410.35 L456.67,407.07 L456.69,406.82 L457.03,404.13 L457.05,403.93 L457.38,401.77 L457.41,401.61 L457.74,399.93 L457.77,399.81 L458.10,398.55 L458.13,398.46 L458.46,397.57 L458.49,397.51 L458.82,396.94 L458.85,396.91 L459.18,394.47 L459.21,394.04 L459.54,389.32 L459.57,388.96 L459.90,385.09 L459.93,384.81 L460.26,381.70 L460.28,381.47 L460.62,379.04 L460.64,378.86 L460.97,377.03 L461.00,376.90 L461.33,375.60 L461.36,375.51 L461.69,374.68 L461.72,374.63 L462.05,370.39 L462.08,369.96 L462.41,365.41 L462.44,365.07 L462.77,361.44 L462.80,361.17 L463.13,358.37 L463.16,358.16 L463.49,356.09 L463.52,355.94 L463.85,354.51 L463.87,354.41 L464.21,353.55 L464.23,353.50 L464.56,353.13 L464.59,352.67 L464.92,347.78 L464.95,347.42 L465.28,343.57 L465.31,343.29 L465.64,340.36 L465.67,340.15 L466.00,338.04 L466.03,337.90 L466.36,336.50 L466.39,336.41 L466.72,335.65 L466.75,335.62 L467.05,335.41 L467.11,335.41 L467.44,335.69 L467.46,335.73 L467.80,336.43 L467.82,336.51 L468.15,337.57 L468.18,337.67 L468.51,339.05 L468.54,339.17 L468.87,340.81 L468.90,340.96 L469.23,342.82 L469.26,342.98 L469.59,345.04 L469.62,345.21 L469.95,347.42 L469.98,347.61 L470.31,349.94 L470.34,350.14 L470.67,352.57 L470.70,352.77 L471.03,355.28 L471.05,355.49 L471.39,358.05 L471.41,358.27 L471.74,360.87 L471.77,361.09 L472.10,363.71 L472.13,363.92 L472.46,366.55 L472.49,366.77 L472.82,369.39 L472.85,369.61 L473.18,372.22 L473.21,372.43 L473.54,375.02 L473.57,375.23 L473.90,377.78 L473.93,377.99 L474.26,380.50 L474.28,380.71 L474.62,383.18 L474.64,383.38 L474.98,385.80 L475.00,386.00 L475.33,388.36 L475.36,388.55 L475.69,390.86 L475.72,391.05 L476.05,393.30 L476.08,393.48 L476.41,395.67 L476.44,395.85 L476.77,397.97 L476.80,398.14 L477.13,400.20 L477.16,400.37 L477.49,402.37 L477.52,402.53 L477.85,404.46 L477.87,404.62 L478.21,406.49 L478.37,407.40 L478.57,405.44 L478.59,405.18 L478.92,402.32 L478.95,402.11 L479.28,399.82 L479.31,399.65 L479.64,397.86 L479.67,397.72 L480.00,396.37 L480.03,396.28 L480.36,395.32 L480.39,395.25 L480.72,394.64 L480.75,394.60 L481.08,394.29 L481.11,394.27 L481.44,389.61 L481.46,389.22 L481.80,385.02 L481.82,384.70 L482.16,381.30 L482.18,381.04 L482.51,378.36 L482.54,378.16 L482.87,376.11 L482.90,375.96 L483.23,374.47 L483.26,374.37 L483.59,373.37 L483.62,373.31 L483.95,371.87 L483.98,371.40 L484.31,366.38 L484.34,366.00 L484.67,361.96 L484.70,361.66 L485.03,358.49 L485.05,358.26 L485.39,355.87 L485.41,355.70 L485.75,353.99 L485.77,353.87 L486.10,352.77 L486.13,352.70 L486.46,352.13 L486.49,352.10 L486.82,349.41 L486.85,349.00 L487.18,344.66 L487.21,344.34 L487.54,340.98 L487.57,340.74 L487.90,338.24 L487.93,338.07 L488.26,336.34 L488.29,336.23 L488.62,335.18 L488.64,335.12 L488.98,334.67 L489.11,334.62 L489.34,334.71 L489.36,334.74 L489.69,335.26 L489.72,335.32 L490.05,336.22 L490.08,336.31 L490.41,337.56 L490.44,337.67 L490.77,339.21 L490.80,339.35 L491.13,341.12 L491.16,341.28 L491.49,343.26 L491.52,343.44 L491.85,345.59 L491.88,345.77 L492.21,348.07 L492.23,348.26 L492.57,350.67 L492.59,350.87 L492.93,353.36 L492.95,353.57 L493.28,356.13 L493.31,356.34 L493.64,358.94 L493.67,359.16 L494.00,361.79 L494.03,362.01 L494.36,364.65 L494.39,364.87 L494.72,367.52 L494.75,367.74 L495.08,370.37 L495.11,370.59 L495.44,373.20 L495.47,373.42 L495.80,376.00 L495.82,376.22 L496.16,378.76 L496.18,378.98 L496.52,381.48 L496.54,381.69 L496.87,384.14 L496.90,384.35 L497.23,386.75 L497.26,386.95 L497.59,389.30 L497.62,389.49 L497.95,391.78 L497.98,391.97 L498.31,394.20 L498.34,394.38 L498.67,396.55 L498.70,396.73 L499.03,398.83 L499.06,399.00 L499.39,401.04 L499.41,401.21 L499.75,403.18 L499.77,403.34 L500.11,405.25 L500.13,405.41 L500.46,407.25 L500.49,406.96 L500.82,403.78 L500.85,403.54 L501.18,400.96 L501.21,400.77 L501.54,398.72 L501.57,398.57 L501.90,397.00 L501.93,396.89 L502.26,395.73 L502.29,395.65 L502.62,394.86 L502.65,394.80 L502.98,394.34 L503.00,394.31 L503.34,392.39 L503.36,391.96 L503.69,387.29 L503.72,386.93 L504.05,383.11 L504.08,382.83 L504.41,379.77 L504.44,379.54 L504.77,377.16 L504.80,376.99 L505.13,375.21 L505.16,375.08 L505.49,373.83 L505.52,373.75 L505.85,372.96 L505.88,372.92 L506.21,369.13 L506.24,368.71 L506.57,364.15 L506.59,363.82 L506.93,360.19 L506.95,359.93 L507.28,357.13 L507.31,356.93 L507.64,354.86 L507.67,354.72 L508.00,353.30 L508.03,353.21 L508.36,352.36 L508.39,352.31 L508.72,351.97 L508.75,351.96 L509.08,347.04 L509.11,346.67 L509.44,342.80 L509.47,342.52 L509.80,339.57 L509.83,339.36 L510.16,337.24 L510.18,337.09 L510.52,335.69 L510.54,335.60 L510.87,334.84 L510.90,334.80 L511.21,334.59 L511.51,334.77 L511.59,333.57 L511.62,333.18 L511.95,329.09 L511.98,328.79 L512.31,325.71 L512.34,325.49 L512.67,323.30 L512.70,323.16 L513.03,321.75 L513.06,321.67 L513.39,320.96 L513.42,320.93 L513.64,320.80 L513.77,320.84 L514.11,321.26 L514.27,321.64 L514.46,319.20 L514.49,318.88 L514.82,315.57 L514.85,315.34 L515.18,312.99 L515.21,312.83 L515.54,311.33 L515.57,311.24 L515.90,310.48 L515.93,310.45 L516.15,310.32 L516.29,310.37 L516.62,310.83 L516.65,310.89 L516.98,311.86 L517.03,312.06 L517.34,308.73 L517.36,308.47 L517.70,305.83 L517.72,305.65 L518.05,303.92 L518.08,303.82 L518.41,302.90 L518.44,302.85 L518.72,302.63 L518.80,302.64 L519.13,303.04 L519.16,303.10 L519.49,304.03 L519.52,304.13 L519.79,305.27 L519.88,304.34 L520.21,301.28 L520.24,301.07 L520.57,299.00 L520.60,298.86 L520.93,297.66 L520.95,297.59 L521.29,297.15 L521.34,297.14 L521.64,297.36 L521.67,297.41 L522.00,298.21 L522.28,299.24" fill="none" stroke="#ff1a14" stroke-width="1.20" stroke-linejoin="round"/>
<path d="M37.25,514.85 L37.25,696.50 L313.25,696.50" fill="none" stroke="#4a4a4a" stroke-width="1.00"/>
<line x1="37.25" y1="696.50" x2="37.25" y2="693.90" stroke="#4a4a4a" stroke-width="1.00"/>
<line x1="92.45" y1="696.50" x2="92.45" y2="693.90" stroke="#4a4a4a" stroke-width="1.00"/>
<line x1="147.65" y1="696.50" x2="147.65" y2="693.90" stroke="#4a4a4a" stroke-width="1.00"/>
<line x1="202.85" y1="696.50" x2="202.85" y2="693.90" stroke="#4a4a4a" stroke-width="1.00"/>
<line x1="258.05" y1="696.50" x2="258.05" y2="693.90" stroke="#4a4a4a" stroke-width="1.00"/>
<line x1="313.25" y1="696.50" x2="313.25" y2="693.90" stroke="#4a4a4a" stroke-width="1.00"/>
<line x1="37.25" y1="696.50" x2="39.85" y2="696.50" stroke="#4a4a4a" stroke-width="1.00"/>
<line x1="37.25" y1="660.17" x2="39.85" y2="660.17" stroke="#4a4a4a" stroke-width="1.00"/>
<line x1="37.25" y1="623.84" x2="39.85" y2="623.84" stroke="#4a4a4a" stroke-width="1.00"/>
<line x1="37.25" y1="587.51" x2="39.85" y2="587.51" stroke="#4a4a4a" stroke-width="1.00"/>
<line x1="37.25" y1="551.18" x2="39.85" y2="551.18" stroke="#4a4a4a" stroke-width="1.00"/>
<line x1="37.25" y1="514.85" x2="39.85" y2="514.85" stroke="#4a4a4a" stroke-width="1.00"/>
<rect x="37.25" y="514.85" width="10.76" height="182.25" fill="#d2d4d4" fill-opacity="0.50"/>
<rect x="58.64" y="514.85" width="8.42" height="182.25" fill="#d2d4d4" fill-opacity="0.50"/>
<rect x="78.10" y="514.85" width="8.69" height="182.25" fill="#d2d4d4" fill-opacity="0.50"/>
<rect x="98.11" y="514.85" width="8.00" height="182.25" fill="#d2d4d4" fill-opacity="0.50"/>
<rect x="117.29" y="514.85" width="7.87" height="182.25" fill="#d2d4d4" fill-opacity="0.50"/>
<rect x="136.61" y="514.85" width="8.00" height="182.25" fill="#d2d4d4" fill-opacity="0.50"/>
<rect x="156.21" y="514.85" width="7.73" height="182.25" fill="#d2d4d4" fill-opacity="0.50"/>
<rect x="175.25" y="514.85" width="8.00" height="182.25" fill="#d2d4d4" fill-opacity="0.50"/>
<rect x="194.16" y="514.85" width="5.93" height="182.25" fill="#d2d4d4" fill-opacity="0.50"/>
<text stroke="#333333" stroke-width="0.10" x="37.25" y="709.35" text-anchor="middle" font-size="8.60" fill="#333333">0</text>
<text stroke="#333333" stroke-width="0.10" x="92.45" y="709.35" text-anchor="middle" font-size="8.60" fill="#333333">20</text>
<text stroke="#333333" stroke-width="0.10" x="147.65" y="709.35" text-anchor="middle" font-size="8.60" fill="#333333">40</text>
<text stroke="#333333" stroke-width="0.10" x="202.85" y="709.35" text-anchor="middle" font-size="8.60" fill="#333333">60</text>
<text stroke="#333333" stroke-width="0.10" x="258.05" y="709.35" text-anchor="middle" font-size="8.60" fill="#333333">80</text>
<text stroke="#333333" stroke-width="0.10" x="313.25" y="709.35" text-anchor="middle" font-size="8.60" fill="#333333">100</text>
<text stroke="#333333" stroke-width="0.10" x="33.95" y="699.95" text-anchor="end" font-size="8.60" fill="#333333">0</text>
<text stroke="#333333" stroke-width="0.10" x="33.95" y="663.62" text-anchor="end" font-size="8.60" fill="#333333">20</text>
<text stroke="#333333" stroke-width="0.10" x="33.95" y="627.29" text-anchor="end" font-size="8.60" fill="#333333">40</text>
<text stroke="#333333" stroke-width="0.10" x="33.95" y="590.96" text-anchor="end" font-size="8.60" fill="#333333">60</text>
<text stroke="#333333" stroke-width="0.10" x="33.95" y="554.63" text-anchor="end" font-size="8.60" fill="#333333">80</text>
<text stroke="#333333" stroke-width="0.10" x="33.95" y="518.30" text-anchor="end" font-size="8.60" fill="#333333">100</text>
<text stroke="#333333" stroke-width="0.10" x="175.25" y="720.40" text-anchor="middle" font-size="8.7" fill="#333333">Time (days)</text>
<text stroke="#333333" stroke-width="0.10" transform="translate(16.10,605.67) rotate(-90)" text-anchor="middle" font-size="8.8" fill="#333333">Tumor Size</text>
<text stroke="#111" stroke-width="0.10" x="175.25" y="510.55" text-anchor="middle" font-size="9.62" font-weight="bold" fill="#111">Daily + Toxic Feedback</text>
<line x1="37.25" y1="560.56" x2="270.71" y2="560.56" stroke="#555555" stroke-width="1.45" stroke-dasharray="3.5 3.02"/>
<text stroke="#222" stroke-width="0.10" x="310.95" y="563.56" text-anchor="end" font-size="8.70" fill="#222">Rx Failure</text>
<line x1="37.25" y1="605.97" x2="285.70" y2="605.97" stroke="#555555" stroke-width="1.45" stroke-dasharray="3.5 3.02"/>
<text stroke="#222" stroke-width="0.10" x="310.95" y="608.97" text-anchor="end" font-size="8.70" fill="#222">Rx On</text>
<line x1="37.25" y1="660.47" x2="285.86" y2="660.47" stroke="#555555" stroke-width="1.45" stroke-dasharray="3.5 3.02"/>
<text stroke="#222" stroke-width="0.10" x="310.95" y="663.47" text-anchor="end" font-size="8.70" fill="#222">Rx Off</text>
<path d="M37.25,609.53 L37.28,609.95 L37.58,613.95 L37.61,614.26 L37.94,617.36 L37.97,617.57 L38.30,619.59 L38.33,619.71 L38.66,620.84 L38.69,620.90 L39.02,621.28 L39.04,621.28 L39.38,621.01 L39.40,620.97 L39.73,620.15 L40.01,619.12 L40.09,621.16 L40.12,621.81 L40.45,628.66 L40.48,629.16 L40.81,634.41 L40.84,634.79 L41.17,638.76 L41.20,639.05 L41.53,641.99 L41.56,642.20 L41.89,644.28 L41.91,644.43 L42.25,645.79 L42.27,645.88 L42.60,646.62 L42.63,646.66 L42.96,649.69 L42.99,650.08 L43.32,654.19 L43.35,654.50 L43.68,657.74 L43.71,657.98 L44.04,660.50 L44.07,660.68 L44.40,662.61 L44.43,662.75 L44.76,664.16 L44.78,664.25 L45.12,665.22 L45.14,665.28 L45.47,665.85 L45.50,665.88 L45.83,668.43 L45.86,668.64 L46.19,670.88 L46.22,671.05 L46.55,672.84 L46.58,672.97 L46.91,674.38 L46.94,674.49 L47.27,675.57 L47.30,675.65 L47.63,676.44 L47.66,676.50 L47.99,677.03 L48.01,677.07 L48.35,677.37 L48.37,677.38 L48.68,677.46 L48.73,677.46 L49.06,677.33 L49.09,677.31 L49.42,676.98 L49.45,676.94 L49.78,676.41 L49.81,676.36 L50.14,675.63 L50.17,675.56 L50.50,674.64 L50.53,674.56 L50.86,673.44 L50.88,673.33 L51.22,672.01 L51.24,671.89 L51.57,670.37 L51.60,670.23 L51.93,668.49 L51.96,668.34 L52.29,666.39 L52.32,666.22 L52.65,664.05 L52.68,663.86 L53.01,661.48 L53.04,661.28 L53.37,658.68 L53.40,658.46 L53.73,655.65 L53.75,655.41 L54.09,652.39 L54.11,652.13 L54.44,648.92 L54.47,648.65 L54.80,645.25 L54.83,644.96 L55.16,641.39 L55.19,641.08 L55.52,637.36 L55.55,637.04 L55.88,633.18 L55.91,632.85 L56.24,628.87 L56.27,628.53 L56.60,624.46 L56.63,624.12 L56.96,619.98 L56.98,619.63 L57.32,615.45 L57.34,615.10 L57.67,610.90 L57.70,610.55 L58.03,606.37 L58.06,606.02 L58.39,601.87 L58.42,601.52 L58.75,597.43 L58.92,595.41 L59.11,599.84 L59.14,600.41 L59.47,606.35 L59.50,606.77 L59.83,611.06 L59.85,611.35 L60.19,614.33 L60.21,614.53 L60.54,616.43 L60.57,616.55 L60.90,617.57 L60.93,617.62 L61.23,617.90 L61.29,617.90 L61.62,617.55 L61.68,617.44 L61.98,624.86 L62.01,625.46 L62.34,631.74 L62.37,632.20 L62.70,637.01 L62.72,637.36 L63.06,640.99 L63.08,641.25 L63.41,643.93 L63.44,644.12 L63.77,645.99 L63.80,646.12 L64.13,647.32 L64.16,647.39 L64.49,648.80 L64.52,649.22 L64.85,653.70 L64.88,654.04 L65.21,657.59 L65.24,657.85 L65.57,660.65 L65.60,660.85 L65.93,663.02 L65.95,663.17 L66.29,664.81 L66.31,664.92 L66.64,666.09 L66.67,666.17 L67.00,666.95 L67.03,667.00 L67.36,667.41 L67.39,667.43 L67.67,667.52 L67.75,667.51 L68.08,667.29 L68.11,667.26 L68.44,666.76 L68.47,666.70 L68.80,665.93 L68.82,665.85 L69.16,664.81 L69.18,664.72 L69.51,663.42 L69.54,663.31 L69.87,661.76 L69.90,661.62 L70.23,659.84 L70.26,659.68 L70.59,657.65 L70.62,657.48 L70.95,655.22 L70.98,655.02 L71.31,652.53 L71.34,652.32 L71.67,649.62 L71.69,649.38 L72.03,646.47 L72.05,646.22 L72.38,643.12 L72.41,642.85 L72.74,639.57 L72.77,639.29 L73.10,635.85 L73.13,635.56 L73.46,631.97 L73.49,631.67 L73.82,627.96 L73.85,627.65 L74.18,623.84 L74.21,623.52 L74.54,619.64 L74.57,619.31 L74.90,615.38 L74.92,615.05 L75.26,611.10 L75.28,610.77 L75.61,606.81 L75.64,606.48 L75.97,602.54 L76.00,602.22 L76.33,598.33 L76.36,598.00 L76.69,594.18 L76.72,593.86 L77.05,590.12 L77.08,589.81 L77.41,586.17 L77.44,585.87 L77.77,582.34 L77.79,582.05 L78.13,578.64 L78.37,576.17 L78.48,579.72 L78.51,580.55 L78.84,589.18 L78.87,589.79 L79.20,596.10 L79.23,596.55 L79.56,601.08 L79.59,601.39 L79.92,604.51 L79.95,604.72 L80.28,606.71 L80.31,606.83 L80.64,607.90 L80.66,607.95 L81.00,608.25 L81.13,608.19 L81.35,614.74 L81.38,615.48 L81.71,623.32 L81.74,623.89 L82.07,629.87 L82.10,630.31 L82.43,634.84 L82.46,635.17 L82.79,638.55 L82.82,638.79 L83.15,641.22 L83.18,641.39 L83.51,643.04 L83.54,643.15 L83.87,644.12 L83.89,644.17 L84.23,649.44 L84.25,649.83 L84.58,653.99 L84.61,654.30 L84.94,657.57 L84.97,657.81 L85.30,660.36 L85.33,660.55 L85.66,662.50 L85.69,662.63 L86.02,664.07 L86.05,664.16 L86.38,665.15 L86.41,665.21 L86.74,665.80 L86.76,665.84 L87.10,666.07 L87.18,666.09 L87.45,665.99 L87.48,665.97 L87.81,665.58 L87.84,665.54 L88.17,664.87 L88.20,664.80 L88.53,663.85 L88.56,663.76 L88.89,662.56 L88.92,662.45 L89.25,660.99 L89.28,660.86 L89.61,659.15 L89.63,659.00 L89.97,657.06 L89.99,656.89 L90.32,654.71 L90.35,654.52 L90.68,652.12 L90.71,651.92 L91.04,649.31 L91.07,649.08 L91.40,646.27 L91.43,646.03 L91.76,643.02 L91.79,642.77 L92.12,639.59 L92.15,639.32 L92.48,635.99 L92.51,635.70 L92.84,632.23 L92.86,631.94 L93.20,628.35 L93.22,628.05 L93.55,624.37 L93.58,624.05 L93.91,620.30 L93.94,619.98 L94.27,616.17 L94.30,615.86 L94.63,612.02 L94.66,611.70 L94.99,607.86 L95.02,607.54 L95.35,603.72 L95.38,603.40 L95.71,599.62 L95.73,599.30 L96.07,595.58 L96.09,595.27 L96.42,591.62 L96.45,591.32 L96.78,587.76 L96.81,587.47 L97.14,584.01 L97.17,583.73 L97.50,580.39 L97.53,580.12 L97.86,576.90 L97.97,575.86 L98.22,583.48 L98.25,584.24 L98.58,592.00 L98.60,592.55 L98.94,598.20 L98.96,598.60 L99.29,602.61 L99.32,602.89 L99.65,605.61 L99.68,605.79 L100.01,607.45 L100.04,607.55 L100.37,608.35 L100.40,608.39 L100.62,608.52 L100.76,609.36 L101.09,618.63 L101.12,619.30 L101.45,626.39 L101.48,626.90 L101.81,632.31 L101.83,632.70 L102.17,636.78 L102.19,637.07 L102.52,640.09 L102.55,640.30 L102.88,642.44 L102.91,642.58 L103.24,643.98 L103.27,644.07 L103.60,646.52 L103.63,646.97 L103.96,651.77 L103.99,652.13 L104.32,655.92 L104.35,656.20 L104.68,659.18 L104.70,659.40 L105.04,661.71 L105.06,661.88 L105.39,663.63 L105.42,663.75 L105.75,665.02 L105.78,665.11 L106.11,665.95 L106.14,666.01 L106.47,666.48 L106.50,666.51 L106.83,666.65 L106.86,666.65 L107.19,666.48 L107.22,666.45 L107.55,666.00 L107.57,665.95 L107.91,665.22 L107.93,665.15 L108.26,664.16 L108.29,664.07 L108.62,662.84 L108.65,662.72 L108.98,661.25 L109.01,661.11 L109.34,659.40 L109.37,659.25 L109.70,657.31 L109.73,657.14 L110.06,654.99 L110.09,654.80 L110.42,652.43 L110.45,652.23 L110.78,649.66 L110.80,649.44 L111.14,646.68 L111.16,646.44 L111.49,643.51 L111.52,643.25 L111.85,640.16 L111.88,639.89 L112.21,636.65 L112.24,636.37 L112.57,633.00 L112.60,632.72 L112.93,629.24 L112.96,628.94 L113.29,625.37 L113.32,625.07 L113.65,621.43 L113.67,621.13 L114.01,617.44 L114.03,617.13 L114.36,613.42 L114.39,613.11 L114.72,609.40 L114.75,609.09 L115.08,605.39 L115.11,605.08 L115.44,601.41 L115.47,601.11 L115.80,597.50 L115.83,597.20 L116.16,593.65 L116.19,593.36 L116.52,589.90 L116.54,589.61 L116.88,586.24 L116.90,585.96 L117.23,582.70 L117.29,582.17 L117.59,590.66 L117.62,591.33 L117.95,598.23 L117.98,598.72 L118.31,603.74 L118.34,604.09 L118.67,607.63 L118.70,607.88 L119.03,610.24 L119.06,610.39 L119.39,611.78 L119.42,611.87 L119.75,612.47 L120.05,612.47 L120.11,614.13 L120.13,614.93 L120.46,623.38 L120.49,623.99 L120.82,630.47 L120.85,630.94 L121.18,635.89 L121.21,636.24 L121.54,639.98 L121.57,640.25 L121.90,643.00 L121.93,643.20 L122.26,645.14 L122.29,645.27 L122.62,646.53 L122.64,646.61 L122.98,649.66 L123.00,650.07 L123.33,654.52 L123.36,654.85 L123.69,658.36 L123.72,658.62 L124.05,661.39 L124.08,661.60 L124.41,663.74 L124.44,663.90 L124.77,665.52 L124.80,665.64 L125.13,666.82 L125.16,666.90 L125.49,667.68 L125.51,667.74 L125.85,668.18 L125.87,668.20 L126.20,668.33 L126.23,668.33 L126.56,668.17 L126.59,668.15 L126.92,667.73 L126.95,667.68 L127.28,667.01 L127.31,666.94 L127.64,666.03 L127.67,665.94 L128.00,664.80 L128.03,664.70 L128.36,663.33 L128.39,663.21 L128.72,661.63 L128.74,661.49 L129.08,659.71 L129.10,659.55 L129.43,657.56 L129.46,657.39 L129.79,655.21 L129.82,655.02 L130.15,652.65 L130.18,652.45 L130.51,649.91 L130.54,649.69 L130.87,646.98 L130.90,646.75 L131.23,643.90 L131.26,643.65 L131.59,640.66 L131.61,640.40 L131.95,637.29 L131.97,637.02 L132.30,633.80 L132.33,633.53 L132.66,630.22 L132.69,629.94 L133.02,626.55 L133.05,626.27 L133.38,622.83 L133.41,622.54 L133.74,619.06 L133.77,618.77 L134.10,615.28 L134.13,614.99 L134.46,611.49 L134.48,611.20 L134.82,607.72 L134.84,607.43 L135.17,603.98 L135.20,603.70 L135.53,600.29 L135.56,600.01 L135.89,596.67 L135.92,596.39 L136.25,593.12 L136.28,592.85 L136.61,589.65 L136.64,590.45 L136.97,598.68 L137.00,599.27 L137.33,605.34 L137.36,605.77 L137.69,610.17 L137.71,610.48 L138.05,613.57 L138.07,613.78 L138.40,615.80 L138.43,615.93 L138.76,617.09 L138.79,617.16 L139.12,617.60 L139.37,617.55 L139.48,620.60 L139.51,621.32 L139.84,628.94 L139.87,629.49 L140.20,635.36 L140.23,635.78 L140.56,640.27 L140.58,640.60 L140.92,644.00 L140.94,644.24 L141.27,646.75 L141.30,646.92 L141.63,648.70 L141.66,648.82 L141.99,649.96 L142.02,650.03 L142.35,653.57 L142.38,653.95 L142.71,658.02 L142.74,658.32 L143.07,661.55 L143.10,661.79 L143.43,664.33 L143.45,664.52 L143.79,666.51 L143.81,666.65 L144.14,668.16 L144.17,668.27 L144.50,669.37 L144.53,669.45 L144.86,670.20 L144.89,670.25 L145.22,670.69 L145.25,670.71 L145.58,670.87 L145.64,670.88 L145.94,670.78 L145.97,670.76 L146.30,670.43 L146.33,670.40 L146.66,669.84 L146.68,669.79 L147.02,669.03 L147.04,668.96 L147.37,668.00 L147.40,667.91 L147.73,666.76 L147.76,666.65 L148.09,665.32 L148.12,665.20 L148.45,663.69 L148.48,663.56 L148.81,661.87 L148.84,661.73 L149.17,659.88 L149.20,659.72 L149.53,657.72 L149.55,657.54 L149.89,655.39 L149.91,655.21 L150.24,652.92 L150.27,652.72 L150.60,650.30 L150.63,650.09 L150.96,647.55 L150.99,647.33 L151.32,644.68 L151.35,644.45 L151.68,641.70 L151.71,641.47 L152.04,638.64 L152.07,638.40 L152.40,635.49 L152.42,635.24 L152.76,632.27 L152.78,632.02 L153.11,629.01 L153.14,628.76 L153.47,625.71 L153.50,625.45 L153.83,622.38 L153.86,622.12 L154.19,619.04 L154.22,618.78 L154.55,615.70 L154.58,615.45 L154.91,612.38 L154.94,612.12 L155.27,609.08 L155.30,608.83 L155.63,605.82 L155.65,605.57 L155.93,603.09 L156.01,605.08 L156.34,611.81 L156.37,612.29 L156.70,617.28 L156.73,617.63 L157.06,621.25 L157.09,621.51 L157.42,624.04 L157.45,624.21 L157.78,625.86 L157.81,625.97 L158.14,626.88 L158.17,626.93 L158.50,627.24 L158.69,627.20 L158.86,631.13 L158.88,631.74 L159.21,638.22 L159.24,638.70 L159.57,643.71 L159.60,644.08 L159.93,647.95 L159.96,648.23 L160.29,651.18 L160.32,651.39 L160.65,653.59 L160.68,653.74 L161.01,655.32 L161.04,655.43 L161.37,656.48 L161.39,656.54 L161.73,660.26 L161.75,660.58 L162.08,664.09 L162.11,664.35 L162.44,667.16 L162.47,667.37 L162.80,669.60 L162.83,669.76 L163.16,671.52 L163.19,671.65 L163.52,673.00 L163.55,673.10 L163.88,674.12 L163.91,674.19 L164.24,674.92 L164.27,674.97 L164.60,675.44 L164.62,675.47 L164.96,675.72 L164.98,675.73 L165.23,675.79 L165.34,675.78 L165.67,675.64 L165.70,675.62 L166.03,675.31 L166.06,675.28 L166.39,674.82 L166.42,674.78 L166.75,674.17 L166.78,674.11 L167.11,673.37 L167.14,673.30 L167.47,672.43 L167.49,672.35 L167.83,671.35 L167.85,671.26 L168.18,670.15 L168.21,670.05 L168.54,668.83 L168.57,668.72 L168.90,667.40 L168.93,667.28 L169.26,665.86 L169.29,665.73 L169.62,664.21 L169.65,664.08 L169.98,662.48 L170.01,662.34 L170.34,660.65 L170.36,660.51 L170.70,658.75 L170.72,658.60 L171.05,656.77 L171.08,656.61 L171.41,654.72 L171.44,654.55 L171.77,652.60 L171.80,652.44 L172.13,650.44 L172.16,650.27 L172.49,648.22 L172.52,648.05 L172.85,645.96 L172.88,645.79 L173.21,643.67 L173.24,643.49 L173.57,641.35 L173.59,641.17 L173.93,639.00 L173.95,638.82 L174.28,636.63 L174.31,636.45 L174.64,634.25 L174.67,634.06 L175.00,631.85 L175.25,630.19 L175.36,632.02 L175.39,632.45 L175.72,636.99 L175.75,637.32 L176.08,640.73 L176.11,640.98 L176.44,643.50 L176.46,643.68 L176.80,645.49 L176.82,645.61 L177.15,646.83 L177.18,646.91 L177.51,647.64 L177.54,647.68 L177.87,647.99 L177.90,648.01 L178.23,651.74 L178.26,652.17 L178.59,656.72 L178.62,657.06 L178.95,660.64 L178.98,660.91 L179.31,663.72 L179.33,663.93 L179.67,666.13 L179.69,666.29 L180.02,667.98 L180.05,668.10 L180.38,669.38 L180.41,669.47 L180.74,670.40 L180.77,670.46 L181.10,673.50 L181.13,673.73 L181.46,676.18 L181.49,676.37 L181.82,678.35 L181.85,678.50 L182.18,680.10 L182.21,680.22 L182.54,681.51 L182.56,681.61 L182.90,682.64 L182.92,682.71 L183.25,683.52 L183.28,683.58 L183.61,684.21 L183.64,684.26 L183.97,684.73 L184.00,684.76 L184.33,685.11 L184.36,685.13 L184.69,685.36 L184.72,685.38 L185.05,685.51 L185.08,685.52 L185.41,685.56 L185.46,685.56 L185.77,685.54 L185.79,685.53 L186.12,685.44 L186.15,685.43 L186.48,685.28 L186.51,685.27 L186.84,685.07 L186.87,685.05 L187.20,684.81 L187.23,684.79 L187.56,684.50 L187.59,684.48 L187.92,684.16 L187.95,684.13 L188.28,683.78 L188.30,683.75 L188.64,683.38 L188.66,683.35 L188.99,682.94 L189.02,682.91 L189.35,682.49 L189.38,682.45 L189.71,682.01 L189.74,681.98 L190.07,681.52 L190.10,681.48 L190.43,681.01 L190.46,680.97 L190.79,680.49 L190.82,680.45 L191.15,679.96 L191.18,679.92 L191.51,679.42 L191.53,679.37 L191.87,678.87 L191.89,678.82 L192.22,678.31 L192.25,678.27 L192.58,677.75 L192.61,677.71 L192.94,677.19 L192.97,677.14 L193.30,676.62 L193.33,676.58 L193.66,676.05 L193.69,676.01 L194.02,675.48 L194.29,675.04 L194.38,675.54 L194.40,675.70 L194.74,677.42 L194.76,677.54 L195.09,678.90 L195.12,679.00 L195.45,680.08 L195.48,680.15 L195.81,681.00 L195.84,681.06 L196.17,681.71 L196.20,681.76 L196.53,682.26 L196.56,682.29 L196.89,682.67 L196.92,682.69 L197.25,683.90 L197.27,684.04 L197.61,685.59 L197.63,685.70 L197.96,686.94 L197.99,687.03 L198.32,688.03 L198.35,688.10 L198.68,688.90 L198.71,688.96 L199.04,689.60 L199.07,689.65 L199.40,690.17 L199.43,690.20 L199.76,690.62 L199.79,690.65 L200.12,691.46 L200.15,691.53 L200.48,692.22 L200.50,692.27 L200.84,692.83 L200.86,692.87 L201.19,693.32 L201.22,693.35 L201.55,693.71 L201.58,693.74 L201.91,694.03 L201.94,694.05 L202.27,694.28 L202.30,694.30 L202.63,694.49 L202.85,694.60" fill="none" stroke="#2a7cc4" stroke-width="1.20" stroke-linejoin="round"/>
<path d="M37.25,695.64 L37.28,695.64 L37.58,695.65 L37.61,695.65 L37.94,695.65 L37.97,695.65 L38.30,695.65 L38.33,695.65 L38.66,695.65 L38.69,695.65 L39.02,695.65 L39.04,695.65 L39.38,695.65 L39.54,695.65 L39.73,695.65 L39.76,695.65 L40.09,695.65 L40.12,695.65 L40.45,695.65 L40.48,695.65 L40.81,695.64 L40.84,695.64 L41.17,695.63 L41.20,695.63 L41.53,695.62 L41.56,695.62 L41.89,695.61 L41.91,695.61 L42.25,695.59 L42.27,695.59 L42.60,695.57 L42.63,695.57 L42.96,695.56 L42.99,695.56 L43.32,695.54 L43.35,695.53 L43.68,695.51 L43.71,695.51 L44.04,695.48 L44.07,695.48 L44.40,695.46 L44.43,695.45 L44.76,695.42 L44.78,695.42 L45.12,695.39 L45.14,695.39 L45.47,695.35 L45.50,695.35 L45.83,695.32 L45.86,695.31 L46.19,695.27 L46.22,695.27 L46.55,695.23 L46.58,695.23 L46.91,695.18 L46.94,695.18 L47.27,695.13 L47.30,695.13 L47.63,695.08 L47.66,695.07 L47.99,695.02 L48.01,695.01 L48.35,694.96 L48.37,694.95 L48.70,694.90 L48.73,694.89 L49.06,694.83 L49.09,694.83 L49.42,694.76 L49.45,694.76 L49.78,694.69 L49.81,694.69 L50.14,694.62 L50.17,694.62 L50.50,694.55 L50.53,694.54 L50.86,694.47 L50.88,694.47 L51.22,694.40 L51.24,694.39 L51.57,694.32 L51.60,694.31 L51.93,694.24 L51.96,694.24 L52.29,694.17 L52.32,694.16 L52.65,694.09 L52.68,694.09 L53.01,694.02 L53.04,694.02 L53.37,693.95 L53.40,693.95 L53.73,693.89 L53.75,693.88 L54.09,693.82 L54.11,693.82 L54.44,693.77 L54.47,693.76 L54.80,693.72 L54.83,693.71 L55.16,693.67 L55.19,693.67 L55.52,693.64 L55.55,693.63 L55.88,693.61 L55.91,693.61 L56.24,693.59 L56.27,693.59 L56.60,693.58 L56.63,693.58 L56.85,693.57 L56.98,693.57 L57.32,693.58 L57.34,693.58 L57.67,693.60 L57.70,693.60 L58.03,693.62 L58.06,693.63 L58.39,693.66 L58.42,693.66 L58.75,693.70 L58.78,693.70 L59.11,693.75 L59.14,693.75 L59.47,693.79 L59.50,693.79 L59.83,693.81 L59.85,693.81 L60.19,693.83 L60.21,693.83 L60.54,693.84 L60.57,693.84 L60.90,693.85 L60.93,693.85 L61.26,693.86 L61.29,693.86 L61.62,693.86 L61.65,693.86 L61.87,693.87 L62.01,693.87 L62.34,693.85 L62.37,693.85 L62.70,693.83 L62.72,693.83 L63.06,693.80 L63.08,693.79 L63.41,693.76 L63.44,693.75 L63.77,693.71 L63.80,693.71 L64.13,693.66 L64.16,693.66 L64.49,693.61 L64.52,693.61 L64.85,693.55 L64.88,693.54 L65.21,693.48 L65.24,693.47 L65.57,693.40 L65.60,693.39 L65.93,693.31 L65.95,693.30 L66.29,693.21 L66.31,693.20 L66.64,693.11 L66.67,693.10 L67.00,693.00 L67.03,692.99 L67.36,692.89 L67.39,692.88 L67.72,692.77 L67.75,692.76 L68.08,692.65 L68.11,692.64 L68.44,692.52 L68.47,692.51 L68.80,692.39 L68.82,692.38 L69.16,692.26 L69.18,692.25 L69.51,692.14 L69.54,692.13 L69.87,692.01 L69.90,692.00 L70.23,691.88 L70.26,691.87 L70.59,691.76 L70.62,691.75 L70.95,691.64 L70.98,691.64 L71.31,691.53 L71.34,691.52 L71.67,691.43 L71.69,691.42 L72.03,691.34 L72.05,691.33 L72.38,691.25 L72.41,691.25 L72.74,691.18 L72.77,691.18 L73.10,691.12 L73.13,691.12 L73.46,691.08 L73.49,691.07 L73.82,691.05 L73.85,691.05 L74.18,691.03 L74.32,691.03 L74.54,691.04 L74.57,691.04 L74.90,691.06 L74.92,691.06 L75.26,691.09 L75.28,691.09 L75.61,691.14 L75.64,691.15 L75.97,691.21 L76.00,691.21 L76.33,691.29 L76.36,691.30 L76.69,691.38 L76.72,691.39 L77.05,691.49 L77.08,691.50 L77.41,691.61 L77.44,691.62 L77.77,691.74 L77.79,691.75 L78.13,691.88 L78.15,691.89 L78.48,692.03 L78.51,692.04 L78.84,692.15 L78.87,692.15 L79.20,692.24 L79.23,692.24 L79.56,692.31 L79.59,692.31 L79.92,692.37 L79.95,692.37 L80.28,692.42 L80.31,692.42 L80.64,692.46 L80.66,692.46 L81.00,692.50 L81.02,692.50 L81.35,692.53 L81.38,692.54 L81.69,692.54 L81.74,692.54 L82.07,692.53 L82.10,692.53 L82.43,692.50 L82.46,692.50 L82.79,692.46 L82.82,692.46 L83.15,692.41 L83.18,692.41 L83.51,692.35 L83.54,692.35 L83.87,692.29 L83.89,692.29 L84.23,692.22 L84.25,692.21 L84.58,692.13 L84.61,692.12 L84.94,692.03 L84.97,692.02 L85.30,691.91 L85.33,691.90 L85.66,691.78 L85.69,691.77 L86.02,691.64 L86.05,691.63 L86.38,691.50 L86.41,691.49 L86.74,691.34 L86.76,691.33 L87.10,691.18 L87.12,691.17 L87.45,691.02 L87.48,691.00 L87.81,690.85 L87.84,690.83 L88.17,690.67 L88.20,690.66 L88.53,690.50 L88.56,690.48 L88.89,690.32 L88.92,690.31 L89.25,690.15 L89.28,690.14 L89.61,689.98 L89.63,689.97 L89.97,689.81 L89.99,689.80 L90.32,689.66 L90.35,689.64 L90.68,689.51 L90.71,689.50 L91.04,689.37 L91.07,689.36 L91.40,689.24 L91.43,689.23 L91.76,689.13 L91.79,689.12 L92.12,689.03 L92.15,689.03 L92.48,688.96 L92.51,688.95 L92.84,688.90 L92.86,688.89 L93.20,688.86 L93.22,688.86 L93.55,688.84 L93.66,688.84 L93.91,688.85 L93.94,688.85 L94.27,688.87 L94.30,688.88 L94.63,688.92 L94.66,688.93 L94.99,689.00 L95.02,689.00 L95.35,689.09 L95.38,689.10 L95.71,689.20 L95.73,689.21 L96.07,689.33 L96.09,689.34 L96.42,689.48 L96.45,689.49 L96.78,689.65 L96.81,689.66 L97.14,689.82 L97.17,689.84 L97.50,690.01 L97.53,690.03 L97.86,690.22 L97.89,690.23 L98.22,690.41 L98.25,690.43 L98.58,690.56 L98.60,690.57 L98.94,690.68 L98.96,690.69 L99.29,690.77 L99.32,690.78 L99.65,690.85 L99.68,690.86 L100.01,690.92 L100.04,690.92 L100.37,690.97 L100.40,690.98 L100.73,691.03 L100.76,691.03 L101.09,691.07 L101.12,691.07 L101.31,691.07 L101.48,691.07 L101.81,691.05 L101.83,691.04 L102.17,691.00 L102.19,691.00 L102.52,690.94 L102.55,690.94 L102.88,690.87 L102.91,690.86 L103.24,690.79 L103.27,690.78 L103.60,690.70 L103.63,690.69 L103.96,690.59 L103.99,690.58 L104.32,690.46 L104.35,690.45 L104.68,690.31 L104.70,690.30 L105.04,690.15 L105.06,690.14 L105.39,689.97 L105.42,689.96 L105.75,689.78 L105.78,689.76 L106.11,689.57 L106.14,689.56 L106.47,689.36 L106.50,689.34 L106.83,689.14 L106.86,689.12 L107.19,688.91 L107.22,688.89 L107.55,688.68 L107.57,688.66 L107.91,688.44 L107.93,688.42 L108.26,688.20 L108.29,688.18 L108.62,687.97 L108.65,687.95 L108.98,687.73 L109.01,687.71 L109.34,687.50 L109.37,687.48 L109.70,687.28 L109.73,687.26 L110.06,687.07 L110.09,687.05 L110.42,686.87 L110.45,686.85 L110.78,686.68 L110.80,686.67 L111.14,686.51 L111.16,686.50 L111.49,686.36 L111.52,686.35 L111.85,686.24 L111.88,686.23 L112.21,686.13 L112.24,686.13 L112.57,686.06 L112.60,686.05 L112.93,686.01 L112.96,686.00 L113.29,685.99 L113.37,685.99 L113.65,685.99 L113.67,686.00 L114.01,686.03 L114.03,686.04 L114.36,686.10 L114.39,686.11 L114.72,686.20 L114.75,686.20 L115.08,686.32 L115.11,686.33 L115.44,686.47 L115.47,686.48 L115.80,686.65 L115.83,686.66 L116.16,686.84 L116.19,686.86 L116.52,687.06 L116.54,687.08 L116.88,687.30 L116.90,687.32 L117.23,687.56 L117.26,687.58 L117.59,687.80 L117.62,687.82 L117.95,687.98 L117.98,688.00 L118.31,688.12 L118.34,688.13 L118.67,688.23 L118.70,688.24 L119.03,688.32 L119.06,688.33 L119.39,688.40 L119.42,688.40 L119.75,688.46 L119.77,688.47 L120.11,688.53 L120.13,688.53 L120.46,688.56 L120.52,688.56 L120.82,688.54 L120.85,688.54 L121.18,688.49 L121.21,688.49 L121.54,688.41 L121.57,688.41 L121.90,688.31 L121.93,688.31 L122.26,688.20 L122.29,688.19 L122.62,688.07 L122.64,688.06 L122.98,687.93 L123.00,687.92 L123.33,687.76 L123.36,687.74 L123.69,687.56 L123.72,687.54 L124.05,687.33 L124.08,687.31 L124.41,687.08 L124.44,687.06 L124.77,686.81 L124.80,686.79 L125.13,686.52 L125.16,686.50 L125.49,686.22 L125.51,686.19 L125.85,685.90 L125.87,685.87 L126.20,685.57 L126.23,685.54 L126.56,685.23 L126.59,685.20 L126.92,684.88 L126.95,684.85 L127.28,684.53 L127.31,684.50 L127.64,684.17 L127.67,684.15 L128.00,683.82 L128.03,683.79 L128.36,683.47 L128.39,683.44 L128.72,683.13 L128.74,683.10 L129.08,682.79 L129.10,682.77 L129.43,682.47 L129.46,682.44 L129.79,682.16 L129.82,682.14 L130.15,681.88 L130.18,681.86 L130.51,681.62 L130.54,681.60 L130.87,681.38 L130.90,681.37 L131.23,681.18 L131.26,681.16 L131.59,681.01 L131.61,681.00 L131.95,680.87 L131.97,680.86 L132.30,680.77 L132.33,680.77 L132.66,680.71 L132.69,680.71 L132.99,680.70 L133.05,680.70 L133.38,680.72 L133.41,680.72 L133.74,680.78 L133.77,680.79 L134.10,680.89 L134.13,680.90 L134.46,681.04 L134.48,681.05 L134.82,681.22 L134.84,681.24 L135.17,681.45 L135.20,681.46 L135.53,681.70 L135.56,681.73 L135.89,681.99 L135.92,682.02 L136.25,682.31 L136.28,682.34 L136.61,682.66 L136.64,682.69 L136.97,682.98 L137.00,683.00 L137.33,683.21 L137.36,683.22 L137.69,683.38 L137.71,683.39 L138.05,683.52 L138.07,683.52 L138.40,683.62 L138.43,683.63 L138.76,683.71 L138.79,683.71 L139.12,683.78 L139.15,683.79 L139.48,683.85 L139.51,683.86 L139.73,683.87 L139.87,683.87 L140.20,683.82 L140.23,683.81 L140.56,683.71 L140.58,683.70 L140.92,683.57 L140.94,683.55 L141.27,683.39 L141.30,683.37 L141.63,683.19 L141.66,683.17 L141.99,682.97 L142.02,682.95 L142.35,682.73 L142.38,682.71 L142.71,682.44 L142.74,682.42 L143.07,682.11 L143.10,682.08 L143.43,681.74 L143.45,681.71 L143.79,681.33 L143.81,681.30 L144.14,680.89 L144.17,680.86 L144.50,680.42 L144.53,680.39 L144.86,679.93 L144.89,679.90 L145.22,679.42 L145.25,679.38 L145.58,678.89 L145.61,678.85 L145.94,678.35 L145.97,678.31 L146.30,677.80 L146.33,677.75 L146.66,677.23 L146.68,677.19 L147.02,676.67 L147.04,676.62 L147.37,676.10 L147.40,676.06 L147.73,675.54 L147.76,675.49 L148.09,674.98 L148.12,674.94 L148.45,674.44 L148.48,674.40 L148.81,673.91 L148.84,673.87 L149.17,673.41 L149.20,673.37 L149.53,672.93 L149.55,672.90 L149.89,672.49 L149.91,672.45 L150.24,672.08 L150.27,672.05 L150.60,671.71 L150.63,671.68 L150.96,671.39 L150.99,671.36 L151.32,671.11 L151.35,671.09 L151.68,670.89 L151.71,670.87 L152.04,670.72 L152.07,670.71 L152.40,670.61 L152.42,670.61 L152.76,670.56 L152.89,670.56 L153.11,670.57 L153.14,670.57 L153.47,670.64 L153.50,670.65 L153.83,670.77 L153.86,670.78 L154.19,670.96 L154.22,670.97 L154.55,671.20 L154.58,671.22 L154.91,671.50 L154.94,671.53 L155.27,671.85 L155.30,671.88 L155.63,672.26 L155.65,672.29 L155.99,672.70 L156.01,672.74 L156.34,673.09 L156.37,673.11 L156.70,673.35 L156.73,673.37 L157.06,673.53 L157.09,673.55 L157.42,673.66 L157.45,673.67 L157.78,673.74 L157.81,673.75 L158.14,673.81 L158.17,673.81 L158.50,673.85 L158.52,673.86 L158.83,673.89 L158.88,673.89 L159.21,673.82 L159.24,673.81 L159.57,673.66 L159.60,673.64 L159.93,673.41 L159.96,673.39 L160.29,673.09 L160.32,673.07 L160.65,672.73 L160.68,672.70 L161.01,672.33 L161.04,672.30 L161.37,671.90 L161.39,671.86 L161.73,671.43 L161.75,671.39 L162.08,670.88 L162.11,670.83 L162.44,670.26 L162.47,670.21 L162.80,669.57 L162.83,669.52 L163.16,668.83 L163.19,668.77 L163.52,668.04 L163.55,667.98 L163.88,667.21 L163.91,667.14 L164.24,666.34 L164.27,666.27 L164.60,665.43 L164.62,665.36 L164.96,664.50 L164.98,664.43 L165.31,663.54 L165.34,663.47 L165.67,662.57 L165.70,662.49 L166.03,661.58 L166.06,661.50 L166.39,660.58 L166.42,660.50 L166.75,659.58 L166.78,659.50 L167.11,658.58 L167.14,658.51 L167.47,657.59 L167.49,657.52 L167.83,656.62 L167.85,656.54 L168.18,655.66 L168.21,655.59 L168.54,654.73 L168.57,654.66 L168.90,653.83 L168.93,653.76 L169.26,652.97 L169.29,652.90 L169.62,652.15 L169.65,652.09 L169.98,651.39 L170.01,651.33 L170.34,650.67 L170.36,650.62 L170.70,650.02 L170.72,649.97 L171.05,649.43 L171.08,649.39 L171.41,648.91 L171.44,648.88 L171.77,648.47 L171.80,648.44 L172.13,648.10 L172.16,648.07 L172.49,647.80 L172.52,647.78 L172.85,647.59 L172.88,647.58 L173.21,647.46 L173.24,647.45 L173.57,647.41 L173.59,647.41 L173.93,647.44 L173.95,647.45 L174.28,647.55 L174.31,647.57 L174.64,647.75 L174.67,647.76 L175.00,648.02 L175.03,648.04 L175.36,648.36 L175.39,648.38 L175.72,648.59 L175.75,648.60 L176.08,648.67 L176.13,648.67 L176.44,648.63 L176.46,648.62 L176.80,648.51 L176.82,648.50 L177.15,648.34 L177.18,648.32 L177.51,648.12 L177.54,648.11 L177.87,647.89 L177.90,647.87 L178.23,647.63 L178.26,647.60 L178.59,647.20 L178.62,647.16 L178.95,646.61 L178.98,646.56 L179.31,645.90 L179.33,645.84 L179.67,645.09 L179.69,645.02 L180.02,644.19 L180.05,644.12 L180.38,643.23 L180.41,643.16 L180.74,642.23 L180.77,642.15 L181.10,641.16 L181.13,641.07 L181.46,639.96 L181.49,639.87 L181.82,638.66 L181.85,638.56 L182.18,637.27 L182.21,637.16 L182.54,635.81 L182.56,635.69 L182.90,634.27 L182.92,634.15 L183.25,632.68 L183.28,632.56 L183.61,631.04 L183.64,630.92 L183.97,629.37 L184.00,629.24 L184.33,627.66 L184.36,627.53 L184.69,625.93 L184.72,625.79 L185.05,624.18 L185.08,624.04 L185.41,622.41 L185.43,622.28 L185.77,620.65 L185.79,620.51 L186.12,618.88 L186.15,618.75 L186.48,617.12 L186.51,616.99 L186.84,615.38 L186.87,615.24 L187.20,613.65 L187.23,613.52 L187.56,611.95 L187.59,611.82 L187.92,610.27 L187.95,610.14 L188.28,608.63 L188.30,608.50 L188.64,607.02 L188.66,606.90 L188.99,605.46 L189.02,605.34 L189.35,603.94 L189.38,603.82 L189.71,602.47 L189.74,602.36 L190.07,601.05 L190.10,600.94 L190.43,599.68 L190.46,599.58 L190.79,598.37 L190.82,598.28 L191.15,597.12 L191.18,597.03 L191.51,595.93 L191.53,595.84 L191.87,594.80 L191.89,594.72 L192.22,593.73 L192.25,593.65 L192.58,592.73 L192.61,592.65 L192.94,591.79 L192.97,591.72 L193.30,590.91 L193.33,590.84 L193.66,590.09 L193.69,590.03 L194.02,589.34 L194.05,589.28 L194.38,588.65 L194.40,588.60 L194.74,587.92 L194.76,587.86 L195.09,587.08 L195.12,587.01 L195.45,586.15 L195.48,586.08 L195.81,585.16 L195.84,585.08 L196.17,584.12 L196.20,584.04 L196.53,583.06 L196.56,582.98 L196.89,581.98 L196.92,581.90 L197.25,580.91 L197.27,580.82 L197.61,579.74 L197.63,579.64 L197.96,578.47 L197.99,578.37 L198.32,577.12 L198.35,577.02 L198.68,575.72 L198.71,575.62 L199.04,574.29 L199.07,574.18 L199.40,572.83 L199.43,572.72 L199.76,571.37 L199.79,571.25 L200.12,569.91 L200.15,569.80 L200.48,568.42 L200.50,568.31 L200.84,566.91 L200.86,566.79 L201.19,565.38 L201.22,565.27 L201.55,563.85 L201.58,563.74 L201.91,562.33 L201.94,562.22 L202.27,560.82 L202.30,560.71 L202.63,559.33 L202.85,558.43" fill="none" stroke="#dc5f2a" stroke-width="1.20" stroke-linejoin="round"/>
<path d="M37.25,608.67 L37.28,609.09 L37.58,613.10 L37.61,613.40 L37.94,616.50 L37.97,616.71 L38.30,618.74 L38.33,618.86 L38.66,619.99 L38.69,620.05 L39.02,620.43 L39.04,620.43 L39.38,620.16 L39.40,620.12 L39.73,619.30 L40.01,618.27 L40.09,620.31 L40.12,620.96 L40.45,627.81 L40.48,628.31 L40.81,633.55 L40.84,633.93 L41.17,637.89 L41.20,638.18 L41.53,641.11 L41.56,641.31 L41.89,643.39 L41.91,643.53 L42.25,644.88 L42.27,644.97 L42.60,645.69 L42.63,645.73 L42.96,648.75 L42.99,649.13 L43.32,653.23 L43.35,653.53 L43.68,656.75 L43.71,656.99 L44.04,659.49 L44.07,659.67 L44.40,661.56 L44.43,661.70 L44.76,663.08 L44.78,663.18 L45.12,664.11 L45.14,664.17 L45.47,664.71 L45.50,664.74 L45.83,667.25 L45.86,667.45 L46.19,669.65 L46.22,669.82 L46.55,671.57 L46.58,671.70 L46.91,673.07 L46.94,673.17 L47.27,674.20 L47.30,674.28 L47.63,675.02 L47.66,675.07 L47.99,675.55 L48.01,675.58 L48.35,675.83 L48.37,675.84 L48.57,675.87 L48.73,675.85 L49.06,675.66 L49.09,675.63 L49.42,675.24 L49.45,675.20 L49.78,674.60 L49.81,674.55 L50.14,673.75 L50.17,673.68 L50.50,672.69 L50.53,672.60 L50.86,671.41 L50.88,671.30 L51.22,669.91 L51.24,669.78 L51.57,668.19 L51.60,668.04 L51.93,666.24 L51.96,666.08 L52.29,664.06 L52.32,663.88 L52.65,661.65 L52.68,661.45 L53.01,659.01 L53.04,658.79 L53.37,656.13 L53.40,655.90 L53.73,653.04 L53.75,652.79 L54.09,649.72 L54.11,649.45 L54.44,646.19 L54.47,645.91 L54.80,642.47 L54.83,642.17 L55.16,638.56 L55.19,638.25 L55.52,634.49 L55.55,634.17 L55.88,630.28 L55.91,629.95 L56.24,625.95 L56.27,625.62 L56.60,621.54 L56.63,621.19 L56.96,617.05 L56.98,616.70 L57.32,612.53 L57.34,612.18 L57.67,608.00 L57.70,607.65 L58.03,603.49 L58.06,603.15 L58.39,599.03 L58.42,598.69 L58.75,594.63 L58.92,592.64 L59.11,597.09 L59.14,597.67 L59.47,603.64 L59.50,604.06 L59.83,608.37 L59.85,608.67 L60.19,611.66 L60.21,611.86 L60.54,613.77 L60.57,613.89 L60.90,614.92 L60.93,614.97 L61.26,615.26 L61.29,615.26 L61.62,614.91 L61.68,614.80 L61.98,622.23 L62.01,622.82 L62.34,629.10 L62.37,629.55 L62.70,634.34 L62.72,634.69 L63.06,638.29 L63.08,638.55 L63.41,641.19 L63.44,641.37 L63.77,643.20 L63.80,643.33 L64.13,644.48 L64.16,644.55 L64.49,645.91 L64.52,646.32 L64.85,650.75 L64.88,651.08 L65.21,654.57 L65.24,654.83 L65.57,657.54 L65.60,657.74 L65.93,659.82 L65.95,659.97 L66.29,661.52 L66.31,661.63 L66.64,662.70 L66.67,662.78 L67.00,663.45 L67.03,663.49 L67.36,663.79 L67.53,663.83 L67.72,663.78 L67.75,663.77 L68.08,663.43 L68.11,663.39 L68.44,662.78 L68.47,662.71 L68.80,661.82 L68.82,661.73 L69.16,660.58 L69.18,660.47 L69.51,659.06 L69.54,658.93 L69.87,657.27 L69.90,657.12 L70.23,655.22 L70.26,655.05 L70.59,652.91 L70.62,652.73 L70.95,650.36 L70.98,650.15 L71.31,647.57 L71.34,647.34 L71.67,644.55 L71.69,644.30 L72.03,641.31 L72.05,641.05 L72.38,637.87 L72.41,637.60 L72.74,634.25 L72.77,633.97 L73.10,630.47 L73.13,630.17 L73.46,626.55 L73.49,626.24 L73.82,622.51 L73.85,622.19 L74.18,618.37 L74.21,618.05 L74.54,614.18 L74.57,613.85 L74.90,609.94 L74.92,609.61 L75.26,605.69 L75.28,605.36 L75.61,601.45 L75.64,601.13 L75.97,597.25 L76.00,596.93 L76.33,593.12 L76.36,592.80 L76.69,589.06 L76.72,588.75 L77.05,585.11 L77.08,584.81 L77.41,581.28 L77.44,580.99 L77.77,577.58 L77.79,577.30 L78.13,574.03 L78.37,571.65 L78.48,575.24 L78.51,576.09 L78.84,584.82 L78.87,585.45 L79.20,591.84 L79.23,592.29 L79.56,596.89 L79.59,597.21 L79.92,600.38 L79.95,600.59 L80.28,602.63 L80.31,602.75 L80.64,603.85 L80.66,603.91 L81.00,604.24 L81.13,604.20 L81.35,610.77 L81.38,611.52 L81.71,619.36 L81.74,619.93 L82.07,625.90 L82.10,626.34 L82.43,630.85 L82.46,631.17 L82.79,634.51 L82.82,634.75 L83.15,637.14 L83.18,637.30 L83.51,638.89 L83.54,639.00 L83.87,639.91 L83.89,639.96 L84.23,645.16 L84.25,645.54 L84.58,649.62 L84.61,649.92 L84.94,653.10 L84.97,653.33 L85.30,655.77 L85.33,655.95 L85.66,657.78 L85.69,657.91 L86.02,659.21 L86.05,659.30 L86.38,660.15 L86.41,660.20 L86.74,660.65 L86.76,660.67 L87.01,660.76 L87.12,660.75 L87.45,660.51 L87.48,660.47 L87.81,659.93 L87.84,659.87 L88.17,659.04 L88.20,658.96 L88.53,657.85 L88.56,657.75 L88.89,656.38 L88.92,656.26 L89.25,654.64 L89.28,654.49 L89.61,652.63 L89.63,652.47 L89.97,650.37 L89.99,650.19 L90.32,647.87 L90.35,647.67 L90.68,645.13 L90.71,644.91 L91.04,642.17 L91.07,641.94 L91.40,639.01 L91.43,638.76 L91.76,635.65 L91.79,635.39 L92.12,632.13 L92.15,631.85 L92.48,628.44 L92.51,628.16 L92.84,624.63 L92.86,624.33 L93.20,620.71 L93.22,620.41 L93.55,616.71 L93.58,616.40 L93.91,612.64 L93.94,612.33 L94.27,608.55 L94.30,608.23 L94.63,604.44 L94.66,604.13 L94.99,600.36 L95.02,600.04 L95.35,596.31 L95.38,596.00 L95.71,592.32 L95.73,592.01 L96.07,588.41 L96.09,588.11 L96.42,584.60 L96.45,584.31 L96.78,580.91 L96.81,580.63 L97.14,577.34 L97.17,577.07 L97.50,573.91 L97.53,573.65 L97.86,570.62 L97.97,569.64 L98.22,577.40 L98.25,578.16 L98.58,586.06 L98.60,586.62 L98.94,592.38 L98.96,592.79 L99.29,596.89 L99.32,597.17 L99.65,599.96 L99.68,600.14 L100.01,601.87 L100.04,601.97 L100.37,602.83 L100.40,602.87 L100.65,603.03 L100.76,603.90 L101.09,613.20 L101.12,613.87 L101.45,620.96 L101.48,621.47 L101.81,626.85 L101.83,627.24 L102.17,631.28 L102.19,631.57 L102.52,634.53 L102.55,634.73 L102.88,636.80 L102.91,636.94 L103.24,638.27 L103.27,638.35 L103.60,640.72 L103.63,641.16 L103.96,645.86 L103.99,646.21 L104.32,649.89 L104.35,650.15 L104.68,653.00 L104.70,653.21 L105.04,655.36 L105.06,655.52 L105.39,657.10 L105.42,657.21 L105.75,658.30 L105.78,658.37 L106.11,659.03 L106.14,659.07 L106.47,659.34 L106.58,659.36 L106.83,659.29 L106.86,659.27 L107.19,658.89 L107.22,658.85 L107.55,658.17 L107.57,658.11 L107.91,657.16 L107.93,657.07 L108.26,655.87 L108.29,655.75 L108.62,654.30 L108.65,654.17 L108.98,652.48 L109.01,652.33 L109.34,650.40 L109.37,650.23 L109.70,648.09 L109.73,647.90 L110.06,645.55 L110.09,645.35 L110.42,642.80 L110.45,642.58 L110.78,639.84 L110.80,639.60 L111.14,636.69 L111.16,636.44 L111.49,633.37 L111.52,633.11 L111.85,629.89 L111.88,629.62 L112.21,626.28 L112.24,626.00 L112.57,622.56 L112.60,622.27 L112.93,618.74 L112.96,618.45 L113.29,614.86 L113.32,614.56 L113.65,610.93 L113.67,610.62 L114.01,606.97 L114.03,606.67 L114.36,603.02 L114.39,602.72 L114.72,599.09 L114.75,598.79 L115.08,595.21 L115.11,594.91 L115.44,591.38 L115.47,591.09 L115.80,587.64 L115.83,587.36 L116.16,584.00 L116.19,583.72 L116.52,580.46 L116.54,580.19 L116.88,577.04 L116.90,576.79 L117.23,573.76 L117.29,573.27 L117.59,581.96 L117.62,582.64 L117.95,589.72 L117.98,590.22 L118.31,595.37 L118.34,595.73 L118.67,599.37 L118.70,599.62 L119.03,602.06 L119.06,602.22 L119.39,603.68 L119.42,603.77 L119.75,604.43 L119.77,604.46 L120.11,606.16 L120.13,606.96 L120.46,615.44 L120.49,616.05 L120.82,622.51 L120.85,622.98 L121.18,627.88 L121.21,628.23 L121.54,631.89 L121.57,632.15 L121.90,634.82 L121.93,635.00 L122.26,636.84 L122.29,636.96 L122.62,638.10 L122.64,638.17 L122.98,641.09 L123.00,641.49 L123.33,645.78 L123.36,646.09 L123.69,649.42 L123.72,649.67 L124.05,652.22 L124.08,652.41 L124.41,654.32 L124.44,654.46 L124.77,655.83 L124.80,655.93 L125.13,656.84 L125.16,656.90 L125.49,657.40 L125.51,657.43 L125.85,657.58 L125.87,657.57 L126.20,657.40 L126.23,657.37 L126.56,656.90 L126.59,656.85 L126.92,656.11 L126.95,656.04 L127.28,655.04 L127.31,654.94 L127.64,653.70 L127.67,653.59 L128.00,652.12 L128.03,651.99 L128.36,650.30 L128.39,650.15 L128.72,648.26 L128.74,648.09 L129.08,646.00 L129.10,645.81 L129.43,643.53 L129.46,643.33 L129.79,640.87 L129.82,640.66 L130.15,638.03 L130.18,637.81 L130.51,635.02 L130.54,634.79 L130.87,631.87 L130.90,631.62 L131.23,628.58 L131.26,628.32 L131.59,625.17 L131.61,624.90 L131.95,621.66 L131.97,621.39 L132.30,618.07 L132.33,617.79 L132.66,614.43 L132.69,614.15 L133.02,610.75 L133.05,610.46 L133.38,607.05 L133.41,606.76 L133.74,603.35 L133.77,603.06 L134.10,599.67 L134.13,599.39 L134.46,596.03 L134.48,595.75 L134.82,592.44 L134.84,592.17 L135.17,588.93 L135.20,588.66 L135.53,585.50 L135.56,585.24 L135.89,582.16 L135.92,581.91 L136.25,578.93 L136.28,578.69 L136.61,575.81 L136.64,576.64 L136.97,585.15 L137.00,585.76 L137.33,592.05 L137.36,592.49 L137.69,597.05 L137.71,597.37 L138.05,600.58 L138.07,600.80 L138.40,602.92 L138.43,603.06 L138.76,604.30 L138.79,604.37 L139.12,604.88 L139.37,604.89 L139.48,607.95 L139.51,608.68 L139.84,616.31 L139.87,616.86 L140.20,622.67 L140.23,623.09 L140.56,627.48 L140.58,627.80 L140.92,631.06 L140.94,631.29 L141.27,633.64 L141.30,633.80 L141.63,635.38 L141.66,635.48 L141.99,636.43 L142.02,636.48 L142.35,639.80 L142.38,640.16 L142.71,643.96 L142.74,644.24 L143.07,647.16 L143.10,647.37 L143.43,649.57 L143.45,649.73 L143.79,651.33 L143.81,651.45 L144.14,652.55 L144.17,652.62 L144.50,653.30 L144.53,653.34 L144.86,653.64 L145.03,653.67 L145.22,653.61 L145.25,653.60 L145.58,653.27 L145.61,653.23 L145.94,652.63 L145.97,652.57 L146.30,651.73 L146.33,651.65 L146.66,650.58 L146.68,650.48 L147.02,649.19 L147.04,649.08 L147.37,647.60 L147.40,647.46 L147.73,645.79 L147.76,645.65 L148.09,643.80 L148.12,643.64 L148.45,641.63 L148.48,641.45 L148.81,639.28 L148.84,639.10 L149.17,636.79 L149.20,636.59 L149.53,634.15 L149.55,633.94 L149.89,631.38 L149.91,631.16 L150.24,628.49 L150.27,628.27 L150.60,625.51 L150.63,625.27 L150.96,622.43 L150.99,622.19 L151.32,619.29 L151.35,619.05 L151.68,616.09 L151.71,615.85 L152.04,612.86 L152.07,612.61 L152.40,609.60 L152.42,609.35 L152.76,606.34 L152.78,606.08 L153.11,603.08 L153.14,602.83 L153.47,599.84 L153.50,599.60 L153.83,596.65 L153.86,596.40 L154.19,593.50 L154.22,593.26 L154.55,590.40 L154.58,590.17 L154.91,587.38 L154.94,587.15 L155.27,584.43 L155.30,584.21 L155.63,581.57 L155.65,581.36 L155.93,579.22 L156.01,581.31 L156.34,588.39 L156.37,588.90 L156.70,594.13 L156.73,594.50 L157.06,598.29 L157.09,598.55 L157.42,601.20 L157.45,601.38 L157.78,603.11 L157.81,603.22 L158.14,604.19 L158.17,604.24 L158.50,604.59 L158.69,604.57 L158.86,608.52 L158.88,609.13 L159.21,615.55 L159.24,616.01 L159.57,620.87 L159.60,621.22 L159.93,624.85 L159.96,625.11 L160.29,627.77 L160.32,627.96 L160.65,629.82 L160.68,629.95 L161.01,631.15 L161.04,631.22 L161.37,631.87 L161.39,631.90 L161.73,635.19 L161.75,635.47 L162.08,638.47 L162.11,638.69 L162.44,640.92 L162.47,641.07 L162.80,642.67 L162.83,642.78 L163.16,643.85 L163.19,643.92 L163.52,644.55 L163.55,644.58 L163.88,644.83 L163.99,644.85 L164.24,644.76 L164.27,644.74 L164.60,644.38 L164.62,644.34 L164.96,643.72 L164.98,643.66 L165.31,642.82 L165.34,642.75 L165.67,641.71 L165.70,641.61 L166.03,640.39 L166.06,640.29 L166.39,638.90 L166.42,638.78 L166.75,637.25 L166.78,637.12 L167.11,635.45 L167.14,635.31 L167.47,633.52 L167.49,633.36 L167.83,631.47 L167.85,631.31 L168.18,629.31 L168.21,629.14 L168.54,627.06 L168.57,626.88 L168.90,624.73 L168.93,624.54 L169.26,622.33 L169.29,622.14 L169.62,619.87 L169.65,619.68 L169.98,617.36 L170.01,617.17 L170.34,614.83 L170.36,614.63 L170.70,612.27 L170.72,612.07 L171.05,609.70 L171.08,609.50 L171.41,607.13 L171.44,606.93 L171.77,604.57 L171.80,604.38 L172.13,602.03 L172.16,601.84 L172.49,599.53 L172.52,599.33 L172.85,597.05 L172.88,596.87 L173.21,594.63 L173.24,594.44 L173.57,592.25 L173.59,592.07 L173.93,589.94 L173.95,589.76 L174.28,587.68 L174.31,587.51 L174.64,585.49 L174.67,585.33 L175.00,583.37 L175.25,581.94 L175.36,583.88 L175.39,584.34 L175.72,589.08 L175.75,589.42 L176.08,592.90 L176.11,593.14 L176.44,595.63 L176.46,595.81 L176.80,597.50 L176.82,597.61 L177.15,598.67 L177.18,598.73 L177.51,599.26 L177.54,599.29 L177.79,599.39 L178.01,599.33 L178.23,602.87 L178.26,603.27 L178.59,607.42 L178.62,607.72 L178.95,610.76 L178.98,610.97 L179.31,613.12 L179.33,613.27 L179.67,614.71 L179.69,614.81 L180.02,615.67 L180.05,615.72 L180.38,616.11 L180.58,616.17 L180.74,616.12 L180.77,616.11 L181.10,618.16 L181.13,618.30 L181.46,619.65 L181.49,619.73 L181.82,620.52 L181.85,620.56 L182.18,620.88 L182.29,620.90 L182.54,620.82 L182.56,620.80 L182.90,620.41 L182.92,620.36 L183.25,619.70 L183.28,619.64 L183.61,618.75 L183.64,618.67 L183.97,617.60 L184.00,617.50 L184.33,616.27 L184.36,616.16 L184.69,614.79 L184.72,614.67 L185.05,613.18 L185.08,613.06 L185.41,611.48 L185.43,611.34 L185.77,609.69 L185.79,609.54 L186.12,607.82 L186.15,607.68 L186.48,605.91 L186.51,605.76 L186.84,603.95 L186.87,603.80 L187.20,601.96 L187.23,601.81 L187.56,599.95 L187.59,599.80 L187.92,597.93 L187.95,597.78 L188.28,595.91 L188.30,595.76 L188.64,593.90 L188.66,593.75 L188.99,591.90 L189.02,591.75 L189.35,589.93 L189.38,589.78 L189.71,587.98 L189.74,587.83 L190.07,586.07 L190.10,585.92 L190.43,584.19 L190.46,584.05 L190.79,582.36 L190.82,582.22 L191.15,580.58 L191.18,580.44 L191.51,578.85 L191.53,578.72 L191.87,577.17 L191.89,577.04 L192.22,575.55 L192.25,575.42 L192.58,573.98 L192.61,573.86 L192.94,572.47 L192.97,572.36 L193.30,571.03 L193.33,570.92 L193.66,569.64 L193.69,569.54 L194.02,568.32 L194.05,568.22 L194.29,567.34 L194.40,567.80 L194.74,568.84 L194.76,568.91 L195.09,569.48 L195.12,569.51 L195.45,569.73 L195.54,569.73 L195.81,569.65 L195.84,569.64 L196.17,569.33 L196.20,569.30 L196.53,568.82 L196.56,568.77 L196.89,568.15 L197.05,567.80 L197.25,568.30 L197.27,568.36 L197.61,568.82 L197.63,568.84 L197.85,568.92 L197.99,568.90 L198.32,568.65 L198.35,568.62 L198.68,568.13 L198.71,568.08 L199.04,567.39 L199.07,567.33 L199.40,566.50 L199.43,566.43 L199.76,565.48 L199.79,565.40 L200.12,564.87 L200.15,564.83 L200.48,564.14 L200.50,564.08 L200.84,563.24 L200.86,563.16 L201.19,562.20 L201.22,562.11 L201.55,561.06 L201.58,560.97 L201.91,559.86 L201.94,559.76 L202.27,558.61 L202.30,558.51 L202.63,557.32 L202.85,556.52" fill="none" stroke="#a8203f" stroke-width="1.20" stroke-linejoin="round"/>
<path d="M401.05,514.85 L401.05,696.50 L677.20,696.50" fill="none" stroke="#4a4a4a" stroke-width="1.00"/>
<line x1="401.05" y1="696.50" x2="401.05" y2="693.90" stroke="#4a4a4a" stroke-width="1.00"/>
<line x1="456.28" y1="696.50" x2="456.28" y2="693.90" stroke="#4a4a4a" stroke-width="1.00"/>
<line x1="511.51" y1="696.50" x2="511.51" y2="693.90" stroke="#4a4a4a" stroke-width="1.00"/>
<line x1="566.74" y1="696.50" x2="566.74" y2="693.90" stroke="#4a4a4a" stroke-width="1.00"/>
<line x1="621.97" y1="696.50" x2="621.97" y2="693.90" stroke="#4a4a4a" stroke-width="1.00"/>
<line x1="677.20" y1="696.50" x2="677.20" y2="693.90" stroke="#4a4a4a" stroke-width="1.00"/>
<line x1="401.05" y1="696.50" x2="403.65" y2="696.50" stroke="#4a4a4a" stroke-width="1.00"/>
<line x1="401.05" y1="673.79" x2="403.65" y2="673.79" stroke="#4a4a4a" stroke-width="1.00"/>
<line x1="401.05" y1="651.09" x2="403.65" y2="651.09" stroke="#4a4a4a" stroke-width="1.00"/>
<line x1="401.05" y1="628.38" x2="403.65" y2="628.38" stroke="#4a4a4a" stroke-width="1.00"/>
<line x1="401.05" y1="605.67" x2="403.65" y2="605.67" stroke="#4a4a4a" stroke-width="1.00"/>
<line x1="401.05" y1="582.97" x2="403.65" y2="582.97" stroke="#4a4a4a" stroke-width="1.00"/>
<line x1="401.05" y1="560.26" x2="403.65" y2="560.26" stroke="#4a4a4a" stroke-width="1.00"/>
<line x1="401.05" y1="537.56" x2="403.65" y2="537.56" stroke="#4a4a4a" stroke-width="1.00"/>
<line x1="401.05" y1="514.85" x2="403.65" y2="514.85" stroke="#4a4a4a" stroke-width="1.00"/>
<rect x="401.05" y="514.85" width="10.77" height="182.25" fill="#d2d4d4" fill-opacity="0.50"/>
<rect x="422.45" y="514.85" width="8.42" height="182.25" fill="#d2d4d4" fill-opacity="0.50"/>
<rect x="441.92" y="514.85" width="8.70" height="182.25" fill="#d2d4d4" fill-opacity="0.50"/>
<rect x="461.94" y="514.85" width="8.01" height="182.25" fill="#d2d4d4" fill-opacity="0.50"/>
<rect x="481.13" y="514.85" width="7.87" height="182.25" fill="#d2d4d4" fill-opacity="0.50"/>
<rect x="500.46" y="514.85" width="8.01" height="182.25" fill="#d2d4d4" fill-opacity="0.50"/>
<rect x="520.07" y="514.85" width="7.73" height="182.25" fill="#d2d4d4" fill-opacity="0.50"/>
<rect x="539.12" y="514.85" width="8.01" height="182.25" fill="#d2d4d4" fill-opacity="0.50"/>
<rect x="558.04" y="514.85" width="5.94" height="182.25" fill="#d2d4d4" fill-opacity="0.50"/>
<text stroke="#333333" stroke-width="0.10" x="401.05" y="709.35" text-anchor="middle" font-size="8.60" fill="#333333">0</text>
<text stroke="#333333" stroke-width="0.10" x="456.28" y="709.35" text-anchor="middle" font-size="8.60" fill="#333333">20</text>
<text stroke="#333333" stroke-width="0.10" x="511.51" y="709.35" text-anchor="middle" font-size="8.60" fill="#333333">40</text>
<text stroke="#333333" stroke-width="0.10" x="566.74" y="709.35" text-anchor="middle" font-size="8.60" fill="#333333">60</text>
<text stroke="#333333" stroke-width="0.10" x="621.97" y="709.35" text-anchor="middle" font-size="8.60" fill="#333333">80</text>
<text stroke="#333333" stroke-width="0.10" x="677.20" y="709.35" text-anchor="middle" font-size="8.60" fill="#333333">100</text>
<text stroke="#333333" stroke-width="0.10" x="397.75" y="699.95" text-anchor="end" font-size="8.60" fill="#333333">0</text>
<text stroke="#333333" stroke-width="0.10" x="397.75" y="677.24" text-anchor="end" font-size="8.60" fill="#333333">0.5</text>
<text stroke="#333333" stroke-width="0.10" x="397.75" y="654.54" text-anchor="end" font-size="8.60" fill="#333333">1</text>
<text stroke="#333333" stroke-width="0.10" x="397.75" y="631.83" text-anchor="end" font-size="8.60" fill="#333333">1.5</text>
<text stroke="#333333" stroke-width="0.10" x="397.75" y="609.12" text-anchor="end" font-size="8.60" fill="#333333">2</text>
<text stroke="#333333" stroke-width="0.10" x="397.75" y="586.42" text-anchor="end" font-size="8.60" fill="#333333">2.5</text>
<text stroke="#333333" stroke-width="0.10" x="397.75" y="563.71" text-anchor="end" font-size="8.60" fill="#333333">3</text>
<text stroke="#333333" stroke-width="0.10" x="397.75" y="541.01" text-anchor="end" font-size="8.60" fill="#333333">3.5</text>
<text stroke="#333333" stroke-width="0.10" x="397.75" y="518.30" text-anchor="end" font-size="8.60" fill="#333333">4</text>
<text stroke="#333333" stroke-width="0.10" x="539.12" y="720.40" text-anchor="middle" font-size="8.7" fill="#333333">Time (days)</text>
<text stroke="#333333" stroke-width="0.10" transform="translate(381.60,605.67) rotate(-90)" text-anchor="middle" font-size="8.8" fill="#333333">Drug Concentration and Toxicity</text>
<text stroke="#111" stroke-width="0.10" x="539.12" y="510.55" text-anchor="middle" font-size="9.62" font-weight="bold" fill="#111">Daily + Toxic Feedback</text>
<line x1="401.05" y1="605.97" x2="646.90" y2="605.97" stroke="#555555" stroke-width="1.45" stroke-dasharray="3.5 3.02"/>
<text stroke="#222" stroke-width="0.10" x="674.90" y="608.97" text-anchor="end" font-size="8.70" fill="#222">Tox Off</text>
<line x1="401.05" y1="651.39" x2="646.74" y2="651.39" stroke="#555555" stroke-width="1.45" stroke-dasharray="3.5 3.02"/>
<text stroke="#222" stroke-width="0.10" x="674.90" y="654.39" text-anchor="end" font-size="8.70" fill="#222">Tox On</text>
<path d="M401.05,656.54 L401.08,656.79 L401.38,659.47 L401.41,659.70 L401.74,662.40 L401.77,662.62 L402.10,665.10 L402.13,665.30 L402.46,667.59 L402.49,667.78 L402.82,669.88 L402.84,670.05 L403.18,671.99 L403.20,672.15 L403.54,673.93 L403.78,675.19 L403.81,635.36 L403.92,636.89 L404.25,641.27 L404.28,641.62 L404.61,645.64 L404.64,645.96 L404.97,649.67 L405.00,649.97 L405.33,653.38 L405.36,653.66 L405.69,656.80 L405.72,657.05 L406.05,659.94 L406.08,660.18 L406.41,662.84 L406.55,663.89 L406.57,624.14 L406.79,627.72 L407.13,632.77 L407.15,633.17 L407.48,637.82 L407.51,638.19 L407.84,642.47 L407.87,642.81 L408.20,646.75 L408.23,647.06 L408.56,650.69 L408.59,650.98 L408.92,654.32 L408.95,654.59 L409.28,657.66 L409.31,657.91 L409.33,618.19 L409.67,623.93 L410.00,629.26 L410.02,629.68 L410.36,634.59 L410.38,634.98 L410.72,639.49 L410.74,639.85 L411.07,644.01 L411.10,644.34 L411.43,648.17 L411.46,648.47 L411.79,652.00 L411.82,652.28 L412.15,655.52 L412.18,655.78 L412.51,658.77 L412.54,659.01 L412.87,661.76 L412.90,661.98 L413.23,664.51 L413.26,664.72 L413.59,667.05 L413.61,667.23 L413.95,669.38 L413.97,669.55 L414.31,671.53 L414.33,671.69 L414.66,673.51 L414.69,673.65 L415.02,675.33 L415.05,675.46 L415.38,677.01 L415.41,677.13 L415.74,678.55 L415.77,678.67 L416.10,679.97 L416.13,680.08 L416.46,681.28 L416.49,681.38 L416.82,682.49 L416.85,682.58 L417.18,683.60 L417.20,683.68 L417.54,684.62 L417.56,684.70 L417.90,685.56 L417.92,685.63 L418.25,686.43 L418.28,686.49 L418.61,687.23 L418.64,687.29 L418.97,687.96 L419.00,688.02 L419.33,688.64 L419.36,688.69 L419.69,689.26 L419.72,689.31 L420.05,689.83 L420.08,689.88 L420.41,690.36 L420.44,690.40 L420.77,690.85 L420.79,690.89 L421.13,691.30 L421.15,691.33 L421.49,691.71 L421.51,691.74 L421.84,692.09 L421.87,692.12 L422.20,692.44 L422.23,692.46 L422.56,692.76 L422.70,692.88 L422.73,652.94 L422.95,655.09 L423.28,658.13 L423.31,658.38 L423.64,661.17 L423.67,661.40 L424.00,663.97 L424.03,664.18 L424.36,666.55 L424.38,666.74 L424.72,668.92 L424.74,669.10 L425.08,671.11 L425.10,671.27 L425.43,673.12 L425.46,673.27 L425.49,633.45 L425.82,638.08 L426.15,642.36 L426.18,642.71 L426.51,646.65 L426.54,646.97 L426.87,650.60 L426.90,650.89 L427.23,654.24 L427.26,654.51 L427.59,657.59 L427.62,657.83 L427.95,660.67 L428.22,662.88 L428.25,623.13 L428.33,624.51 L428.67,629.79 L428.69,630.21 L429.02,635.08 L429.05,635.47 L429.38,639.94 L429.41,640.30 L429.74,644.43 L429.77,644.75 L430.10,648.55 L430.13,648.85 L430.46,652.35 L430.49,652.63 L430.82,655.85 L430.85,656.11 L431.18,659.07 L431.21,659.31 L431.54,662.04 L431.56,662.25 L431.90,664.77 L431.92,664.97 L432.25,667.28 L432.28,667.47 L432.61,669.60 L432.64,669.77 L432.97,671.73 L433.00,671.88 L433.33,673.69 L433.36,673.83 L433.69,675.50 L433.72,675.63 L434.05,677.16 L434.08,677.28 L434.41,678.69 L434.44,678.81 L434.77,680.10 L434.80,680.21 L435.13,681.40 L435.15,681.50 L435.49,682.60 L435.51,682.69 L435.84,683.70 L435.87,683.78 L436.20,684.72 L436.23,684.79 L436.56,685.65 L436.59,685.72 L436.92,686.51 L436.95,686.57 L437.28,687.30 L437.31,687.36 L437.64,688.03 L437.67,688.08 L438.00,688.70 L438.03,688.75 L438.36,689.32 L438.39,689.36 L438.72,689.89 L438.74,689.93 L439.08,690.41 L439.10,690.45 L439.43,690.89 L439.46,690.93 L439.79,691.34 L439.82,691.37 L440.15,691.75 L440.18,691.78 L440.51,692.12 L440.54,692.15 L440.87,692.47 L440.90,692.50 L441.23,692.79 L441.26,692.81 L441.59,693.08 L441.62,693.11 L441.95,693.35 L442.17,693.51 L442.20,653.57 L442.33,654.91 L442.67,657.96 L442.69,658.20 L443.02,661.01 L443.05,661.24 L443.38,663.83 L443.41,664.03 L443.74,666.41 L443.77,666.60 L444.10,668.80 L444.13,668.97 L444.46,670.99 L444.49,671.15 L444.82,673.01 L444.93,673.60 L444.96,633.78 L445.21,637.27 L445.54,641.61 L445.57,641.96 L445.90,645.96 L445.92,646.28 L446.26,649.97 L446.28,650.26 L446.61,653.65 L446.64,653.93 L446.97,657.05 L447.00,657.30 L447.33,660.18 L447.36,660.41 L447.69,663.05 L447.72,623.30 L448.05,628.67 L448.08,629.10 L448.41,634.05 L448.44,634.44 L448.77,639.00 L448.80,639.36 L449.13,643.55 L449.16,643.89 L449.49,647.75 L449.51,648.06 L449.85,651.61 L449.87,651.89 L450.20,655.17 L450.23,655.43 L450.56,658.44 L450.59,658.68 L450.92,661.46 L450.95,661.68 L451.28,664.23 L451.31,664.44 L451.64,666.79 L451.67,666.98 L452.00,669.14 L452.03,669.32 L452.36,671.31 L452.39,671.47 L452.72,673.31 L452.75,673.45 L453.08,675.15 L453.10,675.28 L453.44,676.84 L453.46,676.96 L453.79,678.40 L453.82,678.51 L454.15,679.83 L454.18,679.94 L454.51,681.15 L454.54,681.25 L454.87,682.37 L454.90,682.46 L455.23,683.49 L455.26,683.57 L455.59,684.52 L455.62,684.59 L455.95,685.47 L455.98,685.54 L456.31,686.34 L456.34,686.41 L456.67,687.15 L456.69,687.21 L457.03,687.89 L457.05,687.94 L457.38,688.57 L457.41,688.62 L457.74,689.20 L457.77,689.24 L458.10,689.78 L458.13,689.82 L458.46,690.31 L458.49,690.35 L458.82,690.80 L458.85,690.84 L459.18,691.25 L459.21,691.28 L459.54,691.67 L459.57,691.70 L459.90,692.05 L459.93,692.08 L460.26,692.40 L460.28,692.43 L460.62,692.73 L460.64,692.75 L460.97,693.03 L461.00,693.05 L461.33,693.30 L461.36,693.32 L461.69,693.56 L461.78,693.61 L461.80,653.67 L462.08,656.30 L462.41,659.25 L462.44,659.49 L462.77,662.20 L462.80,662.42 L463.13,664.92 L463.16,665.12 L463.49,667.42 L463.52,667.61 L463.85,669.73 L463.87,669.90 L464.21,671.85 L464.54,673.66 L464.56,633.84 L464.59,634.23 L464.92,638.80 L464.95,639.17 L465.28,643.37 L465.31,643.71 L465.64,647.58 L465.67,647.89 L466.00,651.46 L466.03,651.74 L466.36,655.03 L466.39,655.29 L466.72,658.31 L466.75,658.56 L467.08,661.34 L467.30,663.08 L467.33,623.33 L467.46,625.62 L467.80,630.82 L467.82,631.23 L468.15,636.02 L468.18,636.40 L468.51,640.81 L468.54,641.17 L468.87,645.23 L468.90,645.55 L469.23,649.29 L469.26,649.59 L469.59,653.03 L469.62,653.30 L469.95,656.47 L469.98,656.73 L470.31,659.65 L470.34,659.88 L470.67,662.57 L470.70,662.78 L471.03,665.25 L471.05,665.45 L471.39,667.73 L471.41,667.91 L471.74,670.01 L471.77,670.18 L472.10,672.11 L472.13,672.26 L472.46,674.04 L472.49,674.18 L472.82,675.82 L472.85,675.95 L473.18,677.46 L473.21,677.58 L473.54,678.97 L473.57,679.08 L473.90,680.36 L473.93,680.46 L474.26,681.64 L474.28,681.73 L474.62,682.81 L474.64,682.90 L474.98,683.90 L475.00,683.98 L475.33,684.90 L475.36,684.97 L475.69,685.82 L475.72,685.88 L476.05,686.66 L476.08,686.72 L476.41,687.44 L476.44,687.50 L476.77,688.16 L476.80,688.21 L477.13,688.82 L477.16,688.87 L477.49,689.43 L477.52,689.47 L477.85,689.99 L477.87,690.03 L478.21,690.51 L478.23,690.54 L478.57,690.98 L478.59,691.02 L478.92,691.42 L478.95,691.45 L479.28,691.82 L479.31,691.85 L479.64,692.19 L479.67,692.22 L480.00,692.53 L480.03,692.56 L480.36,692.85 L480.39,692.87 L480.72,693.14 L480.75,693.16 L481.08,693.40 L481.11,693.42 L481.13,653.48 L481.46,656.64 L481.80,659.56 L481.82,659.79 L482.16,662.49 L482.18,662.70 L482.51,665.18 L482.54,665.38 L482.87,667.66 L482.90,667.85 L483.23,669.95 L483.26,670.12 L483.59,672.05 L483.87,673.56 L483.90,633.74 L483.98,634.92 L484.31,639.44 L484.34,639.80 L484.67,643.96 L484.70,644.29 L485.03,648.12 L485.05,648.43 L485.39,651.96 L485.41,652.24 L485.75,655.49 L485.77,655.75 L486.10,658.74 L486.13,658.98 L486.46,661.73 L486.63,663.03 L486.66,623.28 L486.85,626.46 L487.18,631.60 L487.21,632.01 L487.54,636.74 L487.57,637.12 L487.90,641.48 L487.93,641.83 L488.26,645.84 L488.29,646.16 L488.62,649.85 L488.64,650.15 L488.98,653.55 L489.00,653.82 L489.34,656.95 L489.36,657.20 L489.69,660.08 L489.72,660.31 L490.05,662.97 L490.08,663.18 L490.41,665.63 L490.44,665.82 L490.77,668.07 L490.80,668.25 L491.13,670.33 L491.16,670.49 L491.49,672.40 L491.52,672.55 L491.85,674.31 L491.88,674.45 L492.21,676.07 L492.23,676.20 L492.57,677.69 L492.59,677.81 L492.93,679.18 L492.95,679.29 L493.28,680.55 L493.31,680.65 L493.64,681.81 L493.67,681.91 L494.00,682.98 L494.03,683.06 L494.36,684.05 L494.39,684.13 L494.72,685.03 L494.75,685.11 L495.08,685.94 L495.11,686.01 L495.44,686.78 L495.47,686.84 L495.80,687.55 L495.82,687.61 L496.16,688.26 L496.18,688.31 L496.52,688.91 L496.54,688.96 L496.87,689.51 L496.90,689.56 L497.23,690.07 L497.26,690.11 L497.59,690.58 L497.62,690.61 L497.95,691.05 L497.98,691.08 L498.31,691.48 L498.34,691.51 L498.67,691.88 L498.70,691.91 L499.03,692.24 L499.06,692.27 L499.39,692.58 L499.41,692.60 L499.75,692.89 L499.77,692.91 L500.11,693.18 L500.44,693.42 L500.46,653.48 L500.49,653.75 L500.82,656.89 L500.85,657.14 L501.18,660.02 L501.21,660.26 L501.54,662.91 L501.57,663.13 L501.90,665.58 L501.93,665.77 L502.26,668.03 L502.29,668.21 L502.62,670.28 L502.65,670.45 L502.98,672.36 L503.20,673.56 L503.23,633.74 L503.36,635.70 L503.69,640.16 L503.72,640.52 L504.05,644.62 L504.08,644.95 L504.41,648.73 L504.44,649.04 L504.77,652.52 L504.80,652.80 L505.13,656.00 L505.16,656.26 L505.49,659.21 L505.52,659.45 L505.85,662.17 L505.96,663.03 L505.99,623.28 L506.24,627.34 L506.57,632.42 L506.59,632.82 L506.93,637.50 L506.95,637.87 L507.28,642.17 L507.31,642.51 L507.64,646.48 L507.67,646.79 L508.00,650.44 L508.03,650.73 L508.36,654.09 L508.39,654.36 L508.72,657.45 L508.75,657.70 L509.08,660.54 L509.11,660.77 L509.44,663.39 L509.47,663.60 L509.80,666.02 L509.83,666.21 L510.16,668.43 L510.18,668.61 L510.52,670.66 L510.54,670.82 L510.87,672.70 L510.90,672.85 L511.23,674.59 L511.26,674.73 L511.59,676.32 L511.62,676.45 L511.95,677.92 L511.98,678.04 L512.31,679.40 L512.34,679.50 L512.67,680.75 L512.70,680.85 L513.03,682.00 L513.06,682.09 L513.39,683.15 L513.42,683.23 L513.75,684.21 L513.77,684.28 L514.11,685.18 L514.13,685.25 L514.46,686.08 L514.49,686.14 L514.82,686.90 L514.85,686.96 L515.18,687.66 L515.21,687.72 L515.54,688.36 L515.57,688.41 L515.90,689.01 L515.93,689.06 L516.26,689.60 L516.29,689.65 L516.62,690.15 L516.65,690.19 L516.98,690.65 L517.01,690.69 L517.34,691.11 L517.36,691.15 L517.70,691.54 L517.72,691.57 L518.05,691.93 L518.08,691.96 L518.41,692.30 L518.44,692.32 L518.77,692.63 L518.80,692.65 L519.13,692.94 L519.16,692.96 L519.49,693.22 L519.77,693.42 L519.79,653.48 L519.88,654.29 L520.21,657.39 L520.24,657.63 L520.57,660.48 L520.60,660.71 L520.93,663.34 L520.95,663.55 L521.29,665.97 L521.31,666.16 L521.64,668.39 L521.67,668.56 L522.00,670.61 L522.03,670.78 L522.36,672.66 L522.53,673.56 L522.56,633.74 L522.75,636.47 L523.08,640.87 L523.11,641.22 L523.44,645.28 L523.47,645.60 L523.80,649.34 L523.83,649.64 L524.16,653.07 L524.19,653.35 L524.52,656.51 L524.54,656.77 L524.88,659.68 L524.90,659.92 L525.23,662.60 L525.29,663.03 L525.32,623.28 L525.62,628.22 L525.95,633.23 L525.98,633.63 L526.31,638.24 L526.34,638.61 L526.67,642.86 L526.70,643.20 L527.03,647.11 L527.06,647.42 L527.39,651.02 L527.42,651.31 L527.75,654.62 L527.78,654.89 L528.11,657.94 L528.13,658.19 L528.47,661.00 L528.49,661.22 L528.82,663.81 L528.85,664.02 L529.18,666.40 L529.21,666.59 L529.54,668.79 L529.57,668.96 L529.90,670.98 L529.93,671.14 L530.26,673.00 L530.29,673.15 L530.62,674.87 L530.65,675.00 L530.98,676.58 L531.01,676.71 L531.34,678.16 L531.37,678.27 L531.70,679.61 L531.72,679.72 L532.06,680.95 L532.08,681.05 L532.41,682.18 L532.44,682.27 L532.77,683.32 L532.80,683.40 L533.13,684.36 L533.16,684.44 L533.49,685.32 L533.52,685.39 L533.85,686.21 L533.88,686.27 L534.21,687.02 L534.24,687.08 L534.57,687.77 L534.60,687.83 L534.93,688.47 L534.96,688.52 L535.29,689.10 L535.31,689.15 L535.65,689.69 L535.67,689.73 L536.00,690.23 L536.03,690.27 L536.36,690.73 L536.39,690.76 L536.72,691.18 L536.75,691.22 L537.08,691.60 L537.11,691.64 L537.44,691.99 L537.47,692.02 L537.80,692.35 L537.83,692.38 L538.16,692.68 L538.19,692.70 L538.52,692.98 L538.55,693.00 L538.88,693.26 L539.10,693.42 L539.12,653.48 L539.26,654.82 L539.59,657.88 L539.62,658.12 L539.95,660.94 L539.98,661.16 L540.31,663.76 L540.34,663.96 L540.67,666.35 L540.70,666.54 L541.03,668.74 L541.06,668.92 L541.39,670.94 L541.42,671.10 L541.75,672.96 L541.86,673.56 L541.89,633.74 L542.14,637.22 L542.47,641.57 L542.49,641.92 L542.83,645.92 L542.85,646.25 L543.18,649.93 L543.21,650.23 L543.54,653.62 L543.57,653.89 L543.90,657.02 L543.93,657.27 L544.26,660.15 L544.29,660.38 L544.62,663.03 L544.65,623.28 L544.98,628.65 L545.01,629.08 L545.34,634.03 L545.37,634.42 L545.70,638.98 L545.72,639.34 L546.06,643.53 L546.08,643.87 L546.42,647.73 L546.44,648.04 L546.77,651.59 L546.80,651.88 L547.13,655.15 L547.16,655.41 L547.49,658.43 L547.52,658.67 L547.85,661.45 L547.88,661.67 L548.21,664.22 L548.24,664.43 L548.57,666.78 L548.60,666.97 L548.93,669.14 L548.96,669.31 L549.29,671.30 L549.31,671.46 L549.65,673.30 L549.67,673.45 L550.01,675.14 L550.03,675.27 L550.36,676.83 L550.39,676.96 L550.72,678.39 L550.75,678.50 L551.08,679.82 L551.11,679.93 L551.44,681.15 L551.47,681.24 L551.80,682.36 L551.83,682.45 L552.16,683.48 L552.19,683.56 L552.52,684.51 L552.55,684.59 L552.88,685.46 L552.90,685.53 L553.24,686.34 L553.26,686.40 L553.60,687.14 L553.62,687.20 L553.95,687.88 L553.98,687.94 L554.31,688.57 L554.34,688.62 L554.67,689.20 L554.70,689.24 L555.03,689.77 L555.06,689.82 L555.39,690.31 L555.42,690.35 L555.75,690.80 L555.78,690.83 L556.11,691.25 L556.14,691.28 L556.47,691.67 L556.49,691.70 L556.83,692.05 L556.85,692.08 L557.19,692.40 L557.21,692.43 L557.54,692.73 L557.57,692.75 L557.90,693.03 L558.15,693.22 L558.18,653.28 L558.29,654.36 L558.62,657.45 L558.65,657.70 L558.98,660.55 L559.01,660.77 L559.34,663.39 L559.37,663.60 L559.70,666.02 L559.73,666.21 L560.06,668.43 L560.08,668.61 L560.42,670.66 L560.44,670.82 L560.78,672.70 L560.91,673.45 L560.94,633.63 L561.16,636.75 L561.49,641.13 L561.52,641.48 L561.85,645.52 L561.88,645.84 L562.21,649.56 L562.24,649.85 L562.57,653.28 L562.60,653.55 L562.93,656.70 L562.96,656.95 L563.29,659.85 L563.32,660.09 L563.65,662.76 L563.67,662.97 L563.70,623.22 L564.03,628.60 L564.37,633.58 L564.39,633.98 L564.72,638.56 L564.75,638.93 L565.08,643.15 L565.11,643.49 L565.44,647.38 L565.47,647.69 L565.80,651.27 L565.83,651.56 L566.16,654.86 L566.19,655.12 L566.52,658.16 L566.74,660.06" fill="none" stroke="#7e3496" stroke-width="1.20" stroke-linejoin="round"/>
<path d="M401.05,696.50 L401.08,696.06 L401.38,691.49 L401.41,691.10 L401.74,686.76 L401.77,686.43 L402.10,682.69 L402.13,682.40 L402.46,679.19 L402.49,678.95 L402.82,676.22 L402.84,676.01 L403.18,673.72 L403.20,673.55 L403.54,671.64 L403.56,671.50 L403.89,668.63 L403.92,668.08 L404.25,662.03 L404.28,661.57 L404.61,656.43 L404.64,656.04 L404.97,651.73 L405.00,651.40 L405.33,647.83 L405.36,647.56 L405.69,644.63 L405.72,644.41 L406.05,642.07 L406.08,641.90 L406.41,640.07 L406.43,639.94 L406.77,635.58 L406.79,635.07 L407.13,629.52 L407.15,629.10 L407.48,624.53 L407.51,624.19 L407.84,620.49 L407.87,620.22 L408.20,617.30 L408.23,617.09 L408.56,614.86 L408.59,614.70 L408.92,613.08 L408.95,612.97 L409.28,611.89 L409.31,611.82 L409.64,606.60 L409.67,606.17 L410.00,601.59 L410.02,601.25 L410.36,597.64 L410.38,597.37 L410.72,594.61 L410.74,594.42 L411.07,592.42 L411.10,592.28 L411.43,590.95 L411.46,590.86 L411.79,590.12 L411.82,590.08 L412.15,589.85 L412.18,589.86 L412.51,590.08 L412.54,590.12 L412.87,590.73 L412.90,590.80 L413.23,591.75 L413.26,591.84 L413.59,593.09 L413.61,593.20 L413.95,594.69 L413.97,594.83 L414.31,596.53 L414.33,596.68 L414.66,598.55 L414.69,598.71 L415.02,600.74 L415.05,600.91 L415.38,603.05 L415.41,603.23 L415.74,605.46 L415.77,605.65 L416.10,607.95 L416.13,608.15 L416.46,610.50 L416.49,610.70 L416.82,613.09 L416.85,613.29 L417.18,615.70 L417.20,615.90 L417.54,618.32 L417.56,618.52 L417.90,620.94 L417.92,621.14 L418.25,623.54 L418.28,623.74 L418.61,626.12 L418.64,626.32 L418.97,628.67 L419.00,628.86 L419.33,631.18 L419.36,631.37 L419.69,633.64 L419.72,633.83 L420.05,636.06 L420.08,636.24 L420.41,638.42 L420.44,638.60 L420.77,640.73 L420.79,640.90 L421.13,642.97 L421.15,643.14 L421.49,645.16 L421.51,645.33 L421.84,647.29 L421.87,647.45 L422.20,649.35 L422.23,649.50 L422.56,651.34 L422.73,652.24 L422.92,650.28 L422.95,650.01 L423.28,647.15 L423.31,646.93 L423.64,644.63 L423.67,644.46 L424.00,642.66 L424.03,642.53 L424.36,641.18 L424.38,641.08 L424.72,640.12 L424.74,640.05 L425.08,639.44 L425.10,639.40 L425.43,639.09 L425.46,639.08 L425.79,634.42 L425.82,634.03 L426.15,629.83 L426.18,629.52 L426.51,626.12 L426.54,625.87 L426.87,623.19 L426.90,622.99 L427.23,620.95 L427.26,620.81 L427.59,619.32 L427.62,619.22 L427.95,618.24 L427.97,618.17 L428.31,616.74 L428.33,616.28 L428.67,611.27 L428.69,610.89 L429.02,606.86 L429.05,606.56 L429.38,603.41 L429.41,603.18 L429.74,600.80 L429.77,600.63 L430.10,598.93 L430.13,598.82 L430.46,597.73 L430.49,597.66 L430.82,597.10 L430.85,597.07 L431.10,596.96 L431.21,596.98 L431.54,597.29 L431.56,597.33 L431.90,598.00 L431.92,598.06 L432.25,599.03 L432.28,599.12 L432.61,600.35 L432.64,600.46 L432.97,601.90 L433.00,602.03 L433.33,603.67 L433.36,603.81 L433.69,605.60 L433.72,605.75 L434.05,607.67 L434.08,607.83 L434.41,609.85 L434.44,610.03 L434.77,612.13 L434.80,612.31 L435.13,614.47 L435.15,614.65 L435.49,616.86 L435.51,617.04 L435.84,619.28 L435.87,619.47 L436.20,621.72 L436.23,621.91 L436.56,624.17 L436.59,624.36 L436.92,626.61 L436.95,626.79 L437.28,629.03 L437.31,629.22 L437.64,631.43 L437.67,631.62 L438.00,633.80 L438.03,633.98 L438.36,636.13 L438.39,636.31 L438.72,638.42 L438.74,638.60 L439.08,640.66 L439.10,640.84 L439.43,642.86 L439.46,643.02 L439.79,645.00 L439.82,645.16 L440.15,647.08 L440.18,647.24 L440.51,649.11 L440.54,649.26 L440.87,651.07 L440.90,651.22 L441.23,652.98 L441.26,653.13 L441.59,654.83 L441.62,654.97 L441.95,656.62 L442.20,657.82 L442.31,656.61 L442.33,656.31 L442.67,653.11 L442.69,652.87 L443.02,650.25 L443.05,650.05 L443.38,647.95 L443.41,647.80 L443.74,646.16 L443.77,646.04 L444.10,644.82 L444.13,644.73 L444.46,643.87 L444.49,643.81 L444.82,643.26 L444.85,643.23 L445.18,639.56 L445.21,639.14 L445.54,634.58 L445.57,634.24 L445.90,630.51 L445.92,630.24 L446.26,627.25 L446.28,627.03 L446.61,624.71 L446.64,624.54 L446.97,622.80 L447.00,622.68 L447.33,621.45 L447.36,621.37 L447.69,620.60 L447.72,620.55 L448.05,615.17 L448.08,614.77 L448.41,610.41 L448.44,610.08 L448.77,606.62 L448.80,606.37 L449.13,603.71 L449.16,603.52 L449.49,601.57 L449.51,601.43 L449.85,600.11 L449.87,600.02 L450.20,599.25 L450.23,599.21 L450.56,598.92 L450.65,598.91 L450.92,599.05 L450.95,599.08 L451.28,599.58 L451.31,599.64 L451.64,600.46 L451.67,600.54 L452.00,601.63 L452.03,601.73 L452.36,603.06 L452.39,603.18 L452.72,604.70 L452.75,604.84 L453.08,606.53 L453.10,606.67 L453.44,608.50 L453.46,608.66 L453.79,610.60 L453.82,610.76 L454.15,612.79 L454.18,612.96 L454.51,615.06 L454.54,615.23 L454.87,617.38 L454.90,617.56 L455.23,619.74 L455.26,619.93 L455.59,622.13 L455.62,622.32 L455.95,624.53 L455.98,624.71 L456.31,626.92 L456.34,627.11 L456.67,629.31 L456.69,629.49 L457.03,631.67 L457.05,631.85 L457.38,634.01 L457.41,634.19 L457.74,636.31 L457.77,636.49 L458.10,638.58 L458.13,638.75 L458.46,640.80 L458.49,640.96 L458.82,642.97 L458.85,643.13 L459.18,645.09 L459.21,645.25 L459.54,647.15 L459.57,647.31 L459.90,649.17 L459.93,649.32 L460.26,651.12 L460.28,651.27 L460.62,653.02 L460.64,653.16 L460.97,654.85 L461.00,654.99 L461.33,656.63 L461.36,656.77 L461.69,658.35 L461.80,658.87 L462.05,656.20 L462.08,655.92 L462.41,652.91 L462.44,652.69 L462.77,650.24 L462.80,650.05 L463.13,648.10 L463.16,647.96 L463.49,646.45 L463.52,646.34 L463.85,645.23 L463.87,645.15 L464.21,644.38 L464.23,644.33 L464.56,643.87 L464.59,643.40 L464.92,638.25 L464.95,637.86 L465.28,633.60 L465.31,633.28 L465.64,629.82 L465.67,629.57 L466.00,626.82 L466.03,626.62 L466.36,624.50 L466.39,624.35 L466.72,622.79 L466.75,622.68 L467.08,621.61 L467.11,621.54 L467.44,619.16 L467.46,618.70 L467.80,613.71 L467.82,613.33 L468.15,609.31 L468.18,609.01 L468.51,605.85 L468.54,605.62 L468.87,603.23 L468.90,603.06 L469.23,601.34 L469.26,601.22 L469.59,600.10 L469.62,600.03 L469.95,599.44 L469.98,599.41 L470.25,599.27 L470.34,599.28 L470.67,599.54 L470.70,599.58 L471.03,600.20 L471.05,600.26 L471.39,601.18 L471.41,601.26 L471.74,602.44 L471.77,602.55 L472.10,603.94 L472.13,604.06 L472.46,605.64 L472.49,605.78 L472.82,607.52 L472.85,607.67 L473.18,609.53 L473.21,609.69 L473.54,611.65 L473.57,611.82 L473.90,613.86 L473.93,614.04 L474.26,616.15 L474.28,616.32 L474.62,618.48 L474.64,618.66 L474.98,620.84 L475.00,621.02 L475.33,623.22 L475.36,623.41 L475.69,625.61 L475.72,625.80 L476.05,628.00 L476.08,628.18 L476.41,630.37 L476.44,630.55 L476.77,632.71 L476.80,632.89 L477.13,635.03 L477.16,635.21 L477.49,637.31 L477.52,637.49 L477.85,639.55 L477.87,639.72 L478.21,641.75 L478.23,641.92 L478.57,643.90 L478.59,644.06 L478.92,645.99 L478.95,646.15 L479.28,648.03 L479.31,648.19 L479.64,650.02 L479.67,650.17 L480.00,651.94 L480.03,652.09 L480.36,653.81 L480.39,653.95 L480.72,655.62 L480.75,655.76 L481.08,657.38 L481.13,657.64 L481.44,654.46 L481.46,654.19 L481.80,651.31 L481.82,651.09 L482.16,648.76 L482.18,648.59 L482.51,646.75 L482.54,646.61 L482.87,645.20 L482.90,645.10 L483.23,644.08 L483.26,644.01 L483.59,643.32 L483.62,643.28 L483.95,642.01 L483.98,641.56 L484.31,636.59 L484.34,636.21 L484.67,632.12 L484.70,631.81 L485.03,628.50 L485.05,628.25 L485.39,625.64 L485.41,625.45 L485.75,623.45 L485.77,623.31 L486.10,621.86 L486.13,621.76 L486.46,620.79 L486.49,620.73 L486.82,617.60 L486.85,617.15 L487.18,612.34 L487.21,611.98 L487.54,608.12 L487.57,607.83 L487.90,604.82 L487.93,604.60 L488.26,602.34 L488.29,602.18 L488.62,600.58 L488.64,600.48 L488.98,599.46 L489.00,599.40 L489.34,598.90 L489.36,598.88 L489.56,598.81 L489.72,598.84 L490.05,599.19 L490.08,599.23 L490.41,599.91 L490.44,599.98 L490.77,600.96 L490.80,601.05 L491.13,602.28 L491.16,602.39 L491.49,603.83 L491.52,603.96 L491.85,605.58 L491.88,605.72 L492.21,607.49 L492.23,607.65 L492.57,609.54 L492.59,609.70 L492.93,611.69 L492.95,611.86 L493.28,613.93 L493.31,614.11 L493.64,616.24 L493.67,616.42 L494.00,618.59 L494.03,618.77 L494.36,620.97 L494.39,621.15 L494.72,623.36 L494.75,623.55 L495.08,625.76 L495.11,625.95 L495.44,628.16 L495.47,628.34 L495.80,630.53 L495.82,630.72 L496.16,632.89 L496.18,633.07 L496.52,635.21 L496.54,635.38 L496.87,637.49 L496.90,637.67 L497.23,639.73 L497.26,639.90 L497.59,641.93 L497.62,642.10 L497.95,644.08 L497.98,644.24 L498.31,646.17 L498.34,646.33 L498.67,648.21 L498.70,648.36 L499.03,650.19 L499.06,650.34 L499.39,652.12 L499.41,652.26 L499.75,653.98 L499.77,654.12 L500.11,655.79 L500.13,655.93 L500.46,657.54 L500.49,657.23 L500.82,653.83 L500.85,653.58 L501.18,650.79 L501.21,650.58 L501.54,648.33 L501.57,648.17 L501.90,646.40 L501.93,646.27 L502.26,644.93 L502.29,644.83 L502.62,643.87 L502.65,643.80 L502.98,643.17 L503.00,643.13 L503.34,641.05 L503.36,640.61 L503.69,635.78 L503.72,635.41 L504.05,631.45 L504.08,631.15 L504.41,627.96 L504.44,627.72 L504.77,625.21 L504.80,625.02 L505.13,623.12 L505.16,622.98 L505.49,621.61 L505.52,621.52 L505.85,620.62 L505.88,620.56 L506.21,616.67 L506.24,616.24 L506.57,611.58 L506.59,611.24 L506.93,607.52 L506.95,607.24 L507.28,604.35 L507.31,604.14 L507.64,601.99 L507.67,601.84 L508.00,600.34 L508.03,600.24 L508.36,599.31 L508.39,599.26 L508.72,598.83 L508.89,598.78 L509.08,598.83 L509.11,598.85 L509.44,599.25 L509.47,599.30 L509.80,600.03 L509.83,600.10 L510.16,601.12 L510.18,601.22 L510.52,602.48 L510.54,602.60 L510.87,604.07 L510.90,604.20 L511.23,605.84 L511.26,605.99 L511.59,607.78 L511.62,607.93 L511.95,609.85 L511.98,610.01 L512.31,612.01 L512.34,612.19 L512.67,614.27 L512.70,614.44 L513.03,616.58 L513.06,616.76 L513.39,618.94 L513.42,619.12 L513.75,621.32 L513.77,621.50 L514.11,623.72 L514.13,623.90 L514.46,626.12 L514.49,626.30 L514.82,628.51 L514.85,628.69 L515.18,630.89 L515.21,631.07 L515.54,633.24 L515.57,633.41 L515.90,635.55 L515.93,635.73 L516.26,637.83 L516.29,638.00 L516.62,640.07 L516.65,640.24 L516.98,642.26 L517.01,642.42 L517.34,644.39 L517.36,644.56 L517.70,646.48 L517.72,646.64 L518.05,648.51 L518.08,648.66 L518.41,650.48 L518.44,650.63 L518.77,652.40 L518.80,652.55 L519.13,654.26 L519.16,654.40 L519.49,656.06 L519.52,656.19 L519.79,657.53 L519.88,656.62 L520.21,653.32 L520.24,653.07 L520.57,650.37 L520.60,650.17 L520.93,648.00 L520.95,647.84 L521.29,646.14 L521.31,646.01 L521.64,644.73 L521.67,644.64 L522.00,643.73 L522.03,643.67 L522.36,643.09 L522.39,643.05 L522.72,640.17 L522.75,639.74 L523.08,635.05 L523.11,634.70 L523.44,630.86 L523.47,630.57 L523.80,627.48 L523.83,627.26 L524.16,624.84 L524.19,624.67 L524.52,622.85 L524.54,622.72 L524.88,621.43 L524.90,621.34 L525.23,620.51 L525.26,620.46 L525.59,615.82 L525.62,615.40 L525.95,610.89 L525.98,610.56 L526.31,606.97 L526.34,606.71 L526.67,603.94 L526.70,603.74 L527.03,601.69 L527.06,601.55 L527.39,600.14 L527.42,600.05 L527.75,599.20 L527.78,599.15 L528.11,598.80 L528.22,598.78 L528.47,598.87 L528.49,598.89 L528.82,599.35 L528.85,599.40 L529.18,600.18 L529.21,600.25 L529.54,601.31 L529.57,601.41 L529.90,602.71 L529.93,602.83 L530.26,604.33 L530.29,604.46 L530.62,606.13 L530.65,606.28 L530.98,608.09 L531.01,608.24 L531.34,610.17 L531.37,610.34 L531.70,612.36 L531.72,612.53 L532.06,614.62 L532.08,614.79 L532.41,616.94 L532.44,617.12 L532.77,619.30 L532.80,619.48 L533.13,621.69 L533.16,621.87 L533.49,624.09 L533.52,624.27 L533.85,626.49 L533.88,626.67 L534.21,628.88 L534.24,629.06 L534.57,631.25 L534.60,631.43 L534.93,633.59 L534.96,633.77 L535.29,635.90 L535.31,636.08 L535.65,638.18 L535.67,638.35 L536.00,640.41 L536.03,640.58 L536.36,642.59 L536.39,642.75 L536.72,644.72 L536.75,644.88 L537.08,646.80 L537.11,646.95 L537.44,648.82 L537.47,648.97 L537.80,650.78 L537.83,650.93 L538.16,652.69 L538.19,652.84 L538.52,654.54 L538.55,654.68 L538.88,656.33 L539.12,657.53 L539.24,656.32 L539.26,656.03 L539.59,652.83 L539.62,652.58 L539.95,649.97 L539.98,649.77 L540.31,647.68 L540.34,647.52 L540.67,645.89 L540.70,645.78 L541.03,644.56 L541.06,644.47 L541.39,643.61 L541.42,643.55 L541.75,643.02 L541.78,642.98 L542.11,639.32 L542.14,638.90 L542.47,634.35 L542.49,634.00 L542.83,630.29 L542.85,630.01 L543.18,627.03 L543.21,626.81 L543.54,624.50 L543.57,624.33 L543.90,622.59 L543.93,622.47 L544.26,621.25 L544.29,621.17 L544.62,620.41 L544.65,620.36 L544.98,614.99 L545.01,614.58 L545.34,610.23 L545.37,609.90 L545.70,606.45 L545.72,606.20 L546.06,603.54 L546.08,603.35 L546.42,601.41 L546.44,601.28 L546.77,599.96 L546.80,599.87 L547.13,599.11 L547.16,599.06 L547.49,598.78 L547.55,598.77 L547.85,598.92 L547.88,598.95 L548.21,599.45 L548.24,599.51 L548.57,600.33 L548.60,600.41 L548.93,601.51 L548.96,601.61 L549.29,602.95 L549.31,603.07 L549.65,604.59 L549.67,604.73 L550.01,606.42 L550.03,606.57 L550.36,608.40 L550.39,608.56 L550.72,610.50 L550.75,610.67 L551.08,612.70 L551.11,612.87 L551.44,614.97 L551.47,615.15 L551.80,617.30 L551.83,617.48 L552.16,619.67 L552.19,619.85 L552.52,622.06 L552.55,622.24 L552.88,624.46 L552.90,624.64 L553.24,626.86 L553.26,627.04 L553.60,629.24 L553.62,629.43 L553.95,631.61 L553.98,631.79 L554.31,633.95 L554.34,634.13 L554.67,636.26 L554.70,636.43 L555.03,638.52 L555.06,638.70 L555.39,640.74 L555.42,640.91 L555.75,642.92 L555.78,643.08 L556.11,645.04 L556.14,645.20 L556.47,647.11 L556.49,647.27 L556.83,649.12 L556.85,649.28 L557.19,651.08 L557.21,651.23 L557.54,652.98 L557.57,653.12 L557.90,654.82 L557.93,654.96 L558.18,656.19 L558.29,654.99 L558.62,651.79 L558.65,651.54 L558.98,648.93 L559.01,648.73 L559.34,646.64 L559.37,646.49 L559.70,644.86 L559.73,644.75 L560.06,643.53 L560.08,643.45 L560.42,642.60 L560.44,642.55 L560.78,642.02 L560.80,641.99 L561.13,638.75 L561.16,638.33 L561.49,633.75 L561.52,633.41 L561.85,629.66 L561.88,629.38 L562.21,626.39 L562.24,626.17 L562.57,623.83 L562.60,623.67 L562.93,621.92 L562.96,621.80 L563.29,620.57 L563.32,620.49 L563.65,619.72 L563.67,619.68 L564.01,614.70 L564.03,614.29 L564.37,609.89 L564.39,609.56 L564.72,606.07 L564.75,605.81 L565.08,603.13 L565.11,602.94 L565.44,600.97 L565.47,600.83 L565.80,599.49 L565.83,599.40 L566.16,598.62 L566.19,598.58 L566.52,598.28 L566.74,598.31" fill="none" stroke="#ff1a14" stroke-width="1.20" stroke-linejoin="round"/>
<path d="M37.25,772.50 L37.25,954.05 L313.25,954.05" fill="none" stroke="#4a4a4a" stroke-width="1.00"/>
<line x1="37.25" y1="954.05" x2="37.25" y2="951.45" stroke="#4a4a4a" stroke-width="1.00"/>
<line x1="92.45" y1="954.05" x2="92.45" y2="951.45" stroke="#4a4a4a" stroke-width="1.00"/>
<line x1="147.65" y1="954.05" x2="147.65" y2="951.45" stroke="#4a4a4a" stroke-width="1.00"/>
<line x1="202.85" y1="954.05" x2="202.85" y2="951.45" stroke="#4a4a4a" stroke-width="1.00"/>
<line x1="258.05" y1="954.05" x2="258.05" y2="951.45" stroke="#4a4a4a" stroke-width="1.00"/>
<line x1="313.25" y1="954.05" x2="313.25" y2="951.45" stroke="#4a4a4a" stroke-width="1.00"/>
<line x1="37.25" y1="954.05" x2="39.85" y2="954.05" stroke="#4a4a4a" stroke-width="1.00"/>
<line x1="37.25" y1="917.74" x2="39.85" y2="917.74" stroke="#4a4a4a" stroke-width="1.00"/>
<line x1="37.25" y1="881.43" x2="39.85" y2="881.43" stroke="#4a4a4a" stroke-width="1.00"/>
<line x1="37.25" y1="845.12" x2="39.85" y2="845.12" stroke="#4a4a4a" stroke-width="1.00"/>
<line x1="37.25" y1="808.81" x2="39.85" y2="808.81" stroke="#4a4a4a" stroke-width="1.00"/>
<line x1="37.25" y1="772.50" x2="39.85" y2="772.50" stroke="#4a4a4a" stroke-width="1.00"/>
<rect x="37.25" y="772.50" width="7.73" height="182.15" fill="#d2d4d4" fill-opacity="0.50"/>
<rect x="56.29" y="772.50" width="8.00" height="182.15" fill="#d2d4d4" fill-opacity="0.50"/>
<rect x="75.89" y="772.50" width="8.00" height="182.15" fill="#d2d4d4" fill-opacity="0.50"/>
<rect x="94.93" y="772.50" width="8.28" height="182.15" fill="#d2d4d4" fill-opacity="0.50"/>
<rect x="114.25" y="772.50" width="8.00" height="182.15" fill="#d2d4d4" fill-opacity="0.50"/>
<rect x="133.85" y="772.50" width="8.00" height="182.15" fill="#d2d4d4" fill-opacity="0.50"/>
<rect x="153.31" y="772.50" width="7.73" height="182.15" fill="#d2d4d4" fill-opacity="0.50"/>
<rect x="172.49" y="772.50" width="8.14" height="182.15" fill="#d2d4d4" fill-opacity="0.50"/>
<rect x="191.81" y="772.50" width="8.42" height="182.15" fill="#d2d4d4" fill-opacity="0.50"/>
<rect x="211.27" y="772.50" width="8.14" height="182.15" fill="#d2d4d4" fill-opacity="0.50"/>
<rect x="230.73" y="772.50" width="7.87" height="182.15" fill="#d2d4d4" fill-opacity="0.50"/>
<rect x="250.05" y="772.50" width="5.11" height="182.15" fill="#d2d4d4" fill-opacity="0.50"/>
<text stroke="#333333" stroke-width="0.10" x="37.25" y="966.90" text-anchor="middle" font-size="8.60" fill="#333333">0</text>
<text stroke="#333333" stroke-width="0.10" x="92.45" y="966.90" text-anchor="middle" font-size="8.60" fill="#333333">20</text>
<text stroke="#333333" stroke-width="0.10" x="147.65" y="966.90" text-anchor="middle" font-size="8.60" fill="#333333">40</text>
<text stroke="#333333" stroke-width="0.10" x="202.85" y="966.90" text-anchor="middle" font-size="8.60" fill="#333333">60</text>
<text stroke="#333333" stroke-width="0.10" x="258.05" y="966.90" text-anchor="middle" font-size="8.60" fill="#333333">80</text>
<text stroke="#333333" stroke-width="0.10" x="313.25" y="966.90" text-anchor="middle" font-size="8.60" fill="#333333">100</text>
<text stroke="#333333" stroke-width="0.10" x="33.95" y="957.50" text-anchor="end" font-size="8.60" fill="#333333">0</text>
<text stroke="#333333" stroke-width="0.10" x="33.95" y="921.19" text-anchor="end" font-size="8.60" fill="#333333">20</text>
<text stroke="#333333" stroke-width="0.10" x="33.95" y="884.88" text-anchor="end" font-size="8.60" fill="#333333">40</text>
<text stroke="#333333" stroke-width="0.10" x="33.95" y="848.57" text-anchor="end" font-size="8.60" fill="#333333">60</text>
<text stroke="#333333" stroke-width="0.10" x="33.95" y="812.26" text-anchor="end" font-size="8.60" fill="#333333">80</text>
<text stroke="#333333" stroke-width="0.10" x="33.95" y="775.95" text-anchor="end" font-size="8.60" fill="#333333">100</text>
<text stroke="#333333" stroke-width="0.10" x="175.25" y="977.95" text-anchor="middle" font-size="8.7" fill="#333333">Time (days)</text>
<text stroke="#333333" stroke-width="0.10" transform="translate(16.10,863.27) rotate(-90)" text-anchor="middle" font-size="8.8" fill="#333333">Tumor Size</text>
<text stroke="#111" stroke-width="0.10" x="175.25" y="767.80" text-anchor="middle" font-size="9.62" font-weight="bold" fill="#111">Adaptive + Toxc Feedback</text>
<line x1="37.25" y1="818.19" x2="270.71" y2="818.19" stroke="#555555" stroke-width="1.45" stroke-dasharray="3.5 3.02"/>
<text stroke="#222" stroke-width="0.10" x="310.95" y="821.19" text-anchor="end" font-size="8.70" fill="#222">Rx Failure</text>
<line x1="37.25" y1="863.57" x2="285.70" y2="863.57" stroke="#555555" stroke-width="1.45" stroke-dasharray="3.5 3.02"/>
<text stroke="#222" stroke-width="0.10" x="310.95" y="866.57" text-anchor="end" font-size="8.70" fill="#222">Rx On</text>
<line x1="37.25" y1="918.04" x2="285.86" y2="918.04" stroke="#555555" stroke-width="1.45" stroke-dasharray="3.5 3.02"/>
<text stroke="#222" stroke-width="0.10" x="310.95" y="921.04" text-anchor="end" font-size="8.70" fill="#222">Rx Off</text>
<path d="M37.25,867.13 L37.28,867.55 L37.58,871.55 L37.61,871.85 L37.94,874.95 L37.97,875.16 L38.30,877.18 L38.33,877.31 L38.66,878.43 L38.69,878.49 L39.02,878.87 L39.04,878.87 L39.38,878.60 L39.40,878.56 L39.73,877.74 L40.01,876.72 L40.09,878.75 L40.12,879.40 L40.45,886.25 L40.48,886.75 L40.81,891.99 L40.84,892.37 L41.17,896.34 L41.20,896.63 L41.53,899.57 L41.56,899.78 L41.89,901.86 L41.91,902.00 L42.25,903.37 L42.27,903.46 L42.60,904.20 L42.63,904.24 L42.96,907.27 L42.99,907.65 L43.32,911.77 L43.35,912.07 L43.68,915.31 L43.71,915.55 L44.04,918.07 L44.07,918.25 L44.40,920.18 L44.43,920.31 L44.76,921.72 L44.78,921.82 L45.12,922.79 L45.14,922.85 L45.47,923.42 L45.50,923.45 L45.83,923.66 L45.89,923.67 L46.19,923.55 L46.22,923.53 L46.55,923.10 L46.58,923.05 L46.91,922.33 L46.94,922.26 L47.27,921.26 L47.30,921.17 L47.63,919.89 L47.66,919.77 L47.99,918.23 L48.01,918.09 L48.35,916.29 L48.37,916.13 L48.70,914.07 L48.73,913.89 L49.06,911.58 L49.09,911.37 L49.42,908.82 L49.45,908.60 L49.78,905.81 L49.81,905.57 L50.14,902.56 L50.17,902.30 L50.50,899.09 L50.53,898.81 L50.86,895.40 L50.88,895.11 L51.22,891.53 L51.24,891.22 L51.57,887.49 L51.60,887.17 L51.93,883.31 L51.96,882.98 L52.29,879.02 L52.32,878.68 L52.65,874.64 L52.68,874.30 L53.01,870.21 L53.04,869.86 L53.37,865.75 L53.40,865.40 L53.73,861.29 L53.75,860.95 L54.09,856.87 L54.11,856.53 L54.44,852.51 L54.47,852.18 L54.80,848.23 L54.83,847.90 L55.16,844.05 L55.19,843.74 L55.52,840.00 L55.55,839.70 L55.88,836.10 L55.91,835.80 L56.24,832.34 L56.27,832.06 L56.57,829.03 L56.63,830.93 L56.96,840.67 L56.98,841.36 L57.32,848.50 L57.34,849.00 L57.67,854.15 L57.70,854.51 L58.03,858.10 L58.06,858.34 L58.39,860.69 L58.42,860.84 L58.75,862.18 L58.78,862.25 L59.11,862.76 L59.33,862.73 L59.47,867.10 L59.50,867.93 L59.83,876.55 L59.85,877.17 L60.19,883.75 L60.21,884.23 L60.54,889.22 L60.57,889.57 L60.90,893.30 L60.93,893.57 L61.26,896.27 L61.29,896.45 L61.62,898.30 L61.65,898.42 L61.98,899.55 L62.01,899.62 L62.34,903.97 L62.37,904.39 L62.70,908.91 L62.72,909.24 L63.06,912.79 L63.08,913.06 L63.41,915.82 L63.44,916.02 L63.77,918.14 L63.80,918.29 L64.13,919.85 L64.16,919.96 L64.49,921.03 L64.52,921.10 L64.85,921.76 L64.88,921.80 L65.21,922.07 L65.32,922.09 L65.57,922.01 L65.60,921.99 L65.93,921.59 L65.95,921.54 L66.29,920.84 L66.31,920.77 L66.64,919.77 L66.67,919.68 L67.00,918.40 L67.03,918.28 L67.36,916.73 L67.39,916.59 L67.72,914.78 L67.75,914.61 L68.08,912.54 L68.11,912.35 L68.44,910.02 L68.47,909.82 L68.80,907.25 L68.82,907.02 L69.16,904.22 L69.18,903.98 L69.51,900.96 L69.54,900.69 L69.87,897.47 L69.90,897.19 L70.23,893.78 L70.26,893.48 L70.59,889.90 L70.62,889.60 L70.95,885.87 L70.98,885.56 L71.31,881.71 L71.34,881.38 L71.67,877.44 L71.69,877.11 L72.03,873.10 L72.05,872.76 L72.38,868.71 L72.41,868.37 L72.74,864.30 L72.77,863.96 L73.10,859.90 L73.13,859.57 L73.46,855.54 L73.49,855.21 L73.82,851.25 L73.85,850.92 L74.18,847.04 L74.21,846.72 L74.54,842.95 L74.57,842.64 L74.90,838.98 L74.92,838.68 L75.26,835.15 L75.28,834.86 L75.61,831.48 L75.89,828.76 L75.97,831.61 L76.00,832.52 L76.33,841.88 L76.36,842.55 L76.69,849.40 L76.72,849.88 L77.05,854.81 L77.08,855.15 L77.41,858.57 L77.44,858.80 L77.77,861.01 L77.79,861.15 L78.13,862.38 L78.15,862.45 L78.48,862.86 L78.65,862.83 L78.84,868.83 L78.87,869.62 L79.20,877.90 L79.23,878.50 L79.56,884.81 L79.59,885.27 L79.92,890.05 L79.95,890.39 L80.28,893.96 L80.31,894.21 L80.64,896.78 L80.66,896.95 L81.00,898.69 L81.02,898.80 L81.35,899.84 L81.38,899.90 L81.71,904.96 L81.74,905.36 L82.07,909.72 L82.10,910.04 L82.43,913.46 L82.46,913.71 L82.79,916.37 L82.82,916.56 L83.15,918.58 L83.18,918.73 L83.51,920.21 L83.54,920.32 L83.87,921.33 L83.89,921.40 L84.23,922.00 L84.25,922.03 L84.58,922.26 L84.67,922.26 L84.94,922.15 L84.97,922.12 L85.30,921.69 L85.33,921.64 L85.66,920.91 L85.69,920.84 L86.02,919.81 L86.05,919.72 L86.38,918.41 L86.41,918.30 L86.74,916.72 L86.76,916.58 L87.10,914.75 L87.12,914.58 L87.45,912.49 L87.48,912.31 L87.81,909.97 L87.84,909.77 L88.17,907.19 L88.20,906.97 L88.53,904.16 L88.56,903.92 L88.89,900.90 L88.92,900.64 L89.25,897.42 L89.28,897.14 L89.61,893.74 L89.63,893.45 L89.97,889.88 L89.99,889.58 L90.32,885.87 L90.35,885.56 L90.68,881.73 L90.71,881.41 L91.04,877.49 L91.07,877.16 L91.40,873.18 L91.43,872.85 L91.76,868.82 L91.79,868.49 L92.12,864.45 L92.15,864.11 L92.48,860.09 L92.51,859.75 L92.84,855.76 L92.86,855.43 L93.20,851.51 L93.22,851.18 L93.55,847.33 L93.58,847.02 L93.91,843.27 L93.94,842.96 L94.27,839.33 L94.30,839.03 L94.63,835.53 L94.66,835.24 L94.99,831.88 L95.21,829.72 L95.35,834.32 L95.38,835.17 L95.71,844.01 L95.73,844.64 L96.07,851.10 L96.09,851.56 L96.42,856.18 L96.45,856.50 L96.78,859.69 L96.81,859.90 L97.14,861.93 L97.17,862.05 L97.50,863.13 L97.53,863.19 L97.86,863.48 L97.97,863.44 L98.22,870.95 L98.25,871.70 L98.58,879.59 L98.60,880.16 L98.94,886.17 L98.96,886.61 L99.29,891.16 L99.32,891.49 L99.65,894.86 L99.68,895.10 L100.01,897.52 L100.04,897.69 L100.37,899.30 L100.40,899.41 L100.73,900.34 L100.76,900.83 L101.09,906.12 L101.12,906.51 L101.45,910.68 L101.48,910.99 L101.81,914.27 L101.83,914.51 L102.17,917.05 L102.19,917.23 L102.52,919.16 L102.55,919.30 L102.88,920.70 L102.91,920.80 L103.24,921.75 L103.27,921.81 L103.60,922.36 L103.63,922.39 L103.96,922.57 L103.99,922.57 L104.32,922.42 L104.35,922.39 L104.68,921.93 L104.70,921.87 L105.04,921.11 L105.06,921.04 L105.39,920.00 L105.42,919.90 L105.75,918.58 L105.78,918.46 L106.11,916.88 L106.14,916.73 L106.47,914.89 L106.50,914.73 L106.83,912.64 L106.86,912.46 L107.19,910.12 L107.22,909.92 L107.55,907.35 L107.57,907.13 L107.91,904.33 L107.93,904.09 L108.26,901.09 L108.29,900.83 L108.62,897.64 L108.65,897.36 L108.98,893.99 L109.01,893.70 L109.34,890.16 L109.37,889.86 L109.70,886.19 L109.73,885.88 L110.06,882.09 L110.09,881.77 L110.42,877.89 L110.45,877.57 L110.78,873.62 L110.80,873.29 L111.14,869.31 L111.16,868.98 L111.49,864.98 L111.52,864.65 L111.85,860.67 L111.88,860.34 L112.21,856.39 L112.24,856.06 L112.57,852.17 L112.60,851.85 L112.93,848.04 L112.96,847.73 L113.29,844.01 L113.32,843.71 L113.65,840.11 L113.67,839.81 L114.01,836.34 L114.03,836.05 L114.36,832.71 L114.53,831.09 L114.72,837.29 L114.75,838.10 L115.08,846.41 L115.11,847.00 L115.44,853.06 L115.47,853.48 L115.80,857.81 L115.83,858.10 L116.16,861.05 L116.19,861.25 L116.52,863.08 L116.54,863.20 L116.88,864.13 L116.90,864.17 L117.15,864.36 L117.29,864.32 L117.59,873.22 L117.62,873.93 L117.95,881.42 L117.98,881.97 L118.31,887.68 L118.34,888.09 L118.67,892.41 L118.70,892.72 L119.03,895.91 L119.06,896.14 L119.39,898.41 L119.42,898.56 L119.75,900.06 L119.77,900.16 L120.11,901.86 L120.13,902.34 L120.46,907.39 L120.49,907.76 L120.82,911.75 L120.85,912.05 L121.18,915.18 L121.21,915.41 L121.54,917.83 L121.57,918.01 L121.90,919.84 L121.93,919.97 L122.26,921.30 L122.29,921.39 L122.62,922.28 L122.64,922.34 L122.98,922.83 L123.00,922.86 L123.31,923.00 L123.36,923.00 L123.69,922.81 L123.72,922.78 L124.05,922.29 L124.08,922.24 L124.41,921.46 L124.44,921.39 L124.77,920.33 L124.80,920.23 L125.13,918.91 L125.16,918.79 L125.49,917.21 L125.51,917.07 L125.85,915.24 L125.87,915.08 L126.20,913.00 L126.23,912.82 L126.56,910.51 L126.59,910.30 L126.92,907.76 L126.95,907.54 L127.28,904.79 L127.31,904.55 L127.64,901.58 L127.67,901.33 L128.00,898.18 L128.03,897.91 L128.36,894.58 L128.39,894.30 L128.72,890.81 L128.74,890.52 L129.08,886.90 L129.10,886.60 L129.43,882.87 L129.46,882.55 L129.79,878.74 L129.82,878.42 L130.15,874.54 L130.18,874.21 L130.51,870.29 L130.54,869.96 L130.87,866.03 L130.90,865.70 L131.23,861.78 L131.26,861.45 L131.59,857.56 L131.61,857.24 L131.95,853.40 L131.97,853.08 L132.30,849.32 L132.33,849.01 L132.66,845.33 L132.69,845.03 L133.02,841.47 L133.05,841.17 L133.38,837.73 L133.41,837.44 L133.74,834.13 L133.85,833.05 L134.10,840.68 L134.13,841.43 L134.46,849.19 L134.48,849.75 L134.82,855.40 L134.84,855.79 L135.17,859.80 L135.20,860.08 L135.53,862.78 L135.56,862.96 L135.89,864.61 L135.92,864.70 L136.25,865.49 L136.28,865.52 L136.47,865.63 L136.64,866.46 L136.97,875.74 L137.00,876.41 L137.33,883.50 L137.36,884.02 L137.69,889.42 L137.71,889.81 L138.05,893.89 L138.07,894.18 L138.40,897.18 L138.43,897.40 L138.76,899.52 L138.79,899.66 L139.12,901.04 L139.15,901.13 L139.48,903.57 L139.51,904.02 L139.84,908.84 L139.87,909.19 L140.20,912.99 L140.23,913.28 L140.56,916.26 L140.58,916.48 L140.92,918.78 L140.94,918.95 L141.27,920.69 L141.30,920.82 L141.63,922.07 L141.66,922.15 L141.99,922.98 L142.02,923.03 L142.35,923.48 L142.38,923.51 L142.65,923.62 L142.74,923.61 L143.07,923.40 L143.10,923.37 L143.43,922.87 L143.45,922.82 L143.79,922.04 L143.81,921.96 L144.14,920.92 L144.17,920.82 L144.50,919.51 L144.53,919.39 L144.86,917.84 L144.89,917.70 L145.22,915.90 L145.25,915.74 L145.58,913.70 L145.61,913.53 L145.94,911.26 L145.97,911.06 L146.30,908.58 L146.33,908.36 L146.66,905.67 L146.68,905.44 L147.02,902.55 L147.04,902.30 L147.37,899.23 L147.40,898.96 L147.73,895.72 L147.76,895.44 L148.09,892.05 L148.12,891.76 L148.45,888.24 L148.48,887.94 L148.81,884.31 L148.84,884.00 L149.17,880.28 L149.20,879.97 L149.53,876.19 L149.55,875.87 L149.89,872.05 L149.91,871.73 L150.24,867.88 L150.27,867.56 L150.60,863.72 L150.63,863.40 L150.96,859.59 L150.99,859.28 L151.32,855.51 L151.35,855.20 L151.68,851.50 L151.71,851.19 L152.04,847.57 L152.07,847.28 L152.40,843.75 L152.42,843.47 L152.76,840.05 L152.78,839.77 L153.11,836.48 L153.17,835.95 L153.47,844.78 L153.50,845.48 L153.83,852.66 L153.86,853.17 L154.19,858.38 L154.22,858.75 L154.55,862.42 L154.58,862.67 L154.91,865.12 L154.94,865.28 L155.27,866.74 L155.30,866.82 L155.63,867.45 L155.93,867.47 L155.99,869.18 L156.01,870.01 L156.34,878.71 L156.37,879.34 L156.70,886.00 L156.73,886.48 L157.06,891.56 L157.09,891.93 L157.42,895.76 L157.45,896.03 L157.78,898.84 L157.81,899.04 L158.14,901.02 L158.17,901.15 L158.50,902.42 L158.52,902.50 L158.86,905.61 L158.88,906.04 L159.21,910.60 L159.24,910.94 L159.57,914.54 L159.60,914.80 L159.93,917.63 L159.96,917.84 L160.29,920.02 L160.32,920.18 L160.65,921.83 L160.68,921.94 L161.01,923.12 L161.04,923.20 L161.37,923.98 L161.39,924.03 L161.73,924.44 L161.75,924.46 L162.03,924.56 L162.11,924.55 L162.44,924.33 L162.47,924.30 L162.80,923.81 L162.83,923.76 L163.16,923.00 L163.19,922.92 L163.52,921.91 L163.55,921.82 L163.88,920.55 L163.91,920.44 L164.24,918.94 L164.27,918.81 L164.60,917.08 L164.62,916.93 L164.96,914.97 L164.98,914.80 L165.31,912.63 L165.34,912.44 L165.67,910.06 L165.70,909.86 L166.03,907.28 L166.06,907.06 L166.39,904.30 L166.42,904.06 L166.75,901.12 L166.78,900.87 L167.11,897.77 L167.14,897.51 L167.47,894.26 L167.49,893.99 L167.83,890.62 L167.85,890.34 L168.18,886.86 L168.21,886.57 L168.54,883.00 L168.57,882.70 L168.90,879.07 L168.93,878.77 L169.26,875.09 L169.29,874.79 L169.62,871.09 L169.65,870.78 L169.98,867.07 L170.01,866.77 L170.34,863.08 L170.36,862.77 L170.70,859.12 L170.72,858.82 L171.05,855.22 L171.08,854.92 L171.41,851.38 L171.44,851.09 L171.77,847.64 L171.80,847.36 L172.13,844.00 L172.16,843.73 L172.49,840.47 L172.52,841.33 L172.85,850.20 L172.88,850.83 L173.21,857.35 L173.24,857.82 L173.57,862.54 L173.59,862.87 L173.93,866.18 L173.95,866.41 L174.28,868.58 L174.31,868.72 L174.64,869.97 L174.67,870.04 L175.00,870.52 L175.25,870.49 L175.36,873.71 L175.39,874.48 L175.72,882.53 L175.75,883.12 L176.08,889.30 L176.11,889.75 L176.44,894.46 L176.46,894.81 L176.80,898.36 L176.82,898.61 L177.15,901.22 L177.18,901.40 L177.51,903.23 L177.54,903.35 L177.87,904.51 L177.90,904.58 L178.23,908.29 L178.26,908.68 L178.59,912.95 L178.62,913.27 L178.95,916.64 L178.98,916.89 L179.31,919.55 L179.33,919.74 L179.67,921.79 L179.69,921.94 L180.02,923.49 L180.05,923.60 L180.38,924.71 L180.41,924.79 L180.74,925.52 L180.77,925.57 L181.10,925.96 L181.13,925.98 L181.40,926.07 L181.49,926.06 L181.82,925.87 L181.85,925.85 L182.18,925.39 L182.21,925.34 L182.54,924.64 L182.56,924.58 L182.90,923.64 L182.92,923.55 L183.25,922.39 L183.28,922.28 L183.61,920.90 L183.64,920.78 L183.97,919.19 L184.00,919.05 L184.33,917.25 L184.36,917.09 L184.69,915.10 L184.72,914.92 L185.05,912.74 L185.08,912.55 L185.41,910.18 L185.43,909.98 L185.77,907.44 L185.79,907.22 L186.12,904.52 L186.15,904.29 L186.48,901.44 L186.51,901.20 L186.84,898.22 L186.87,897.97 L187.20,894.86 L187.23,894.60 L187.56,891.39 L187.59,891.12 L187.92,887.83 L187.95,887.55 L188.28,884.19 L188.30,883.91 L188.64,880.49 L188.66,880.20 L188.99,876.75 L189.02,876.47 L189.35,873.00 L189.38,872.71 L189.71,869.24 L189.74,868.95 L190.07,865.50 L190.10,865.21 L190.43,861.79 L190.46,861.51 L190.79,858.13 L190.82,857.85 L191.15,854.53 L191.18,854.26 L191.51,851.01 L191.53,850.74 L191.81,848.10 L191.89,850.40 L192.22,858.18 L192.25,858.74 L192.58,864.47 L192.61,864.87 L192.94,869.02 L192.97,869.30 L193.30,872.19 L193.33,872.38 L193.66,874.25 L193.69,874.37 L194.02,875.40 L194.05,875.45 L194.38,875.79 L194.57,875.72 L194.74,880.16 L194.76,880.85 L195.09,888.11 L195.12,888.64 L195.45,894.23 L195.48,894.64 L195.81,898.92 L195.84,899.23 L196.17,902.45 L196.20,902.69 L196.53,905.06 L196.56,905.22 L196.89,906.89 L196.92,907.00 L197.25,908.06 L197.27,908.12 L197.61,912.25 L197.63,912.61 L197.96,916.51 L197.99,916.80 L198.32,919.89 L198.35,920.12 L198.68,922.56 L198.71,922.74 L199.04,924.64 L199.07,924.78 L199.40,926.22 L199.43,926.32 L199.76,927.36 L199.79,927.44 L200.12,928.14 L200.15,928.18 L200.48,928.58 L200.50,928.61 L200.84,928.73 L200.86,928.73 L201.19,928.61 L201.22,928.59 L201.55,928.24 L201.58,928.20 L201.91,927.64 L201.94,927.58 L202.27,926.81 L202.30,926.74 L202.63,925.77 L202.66,925.69 L202.99,924.54 L203.02,924.43 L203.35,923.10 L203.37,922.98 L203.71,921.48 L203.73,921.35 L204.06,919.68 L204.09,919.53 L204.42,917.71 L204.45,917.55 L204.78,915.57 L204.81,915.39 L205.14,913.27 L205.17,913.09 L205.50,910.83 L205.53,910.63 L205.86,908.24 L205.89,908.04 L206.22,905.54 L206.24,905.32 L206.58,902.71 L206.60,902.49 L206.93,899.79 L206.96,899.56 L207.29,896.77 L207.32,896.53 L207.65,893.67 L207.68,893.43 L208.01,890.51 L208.04,890.27 L208.37,887.30 L208.40,887.06 L208.73,884.06 L208.76,883.81 L209.09,880.79 L209.12,880.53 L209.45,877.50 L209.47,877.25 L209.81,874.22 L209.83,873.97 L210.16,870.95 L210.19,870.70 L210.52,867.70 L210.55,867.45 L210.88,864.49 L211.13,862.28 L211.24,864.85 L211.27,865.46 L211.60,871.77 L211.63,872.22 L211.96,876.89 L211.99,877.22 L212.32,880.60 L212.34,880.83 L212.68,883.18 L212.70,883.34 L213.03,884.84 L213.06,884.94 L213.39,885.74 L213.42,885.79 L213.75,886.01 L213.89,885.96 L214.11,891.03 L214.14,891.61 L214.47,897.73 L214.50,898.18 L214.83,902.93 L214.86,903.28 L215.19,906.94 L215.21,907.20 L215.55,909.99 L215.57,910.19 L215.90,912.27 L215.93,912.41 L216.26,913.89 L216.29,913.99 L216.62,914.97 L216.65,915.03 L216.98,919.20 L217.01,919.51 L217.34,922.84 L217.37,923.09 L217.70,925.76 L217.73,925.96 L218.06,928.08 L218.09,928.24 L218.42,929.91 L218.44,930.03 L218.78,931.32 L218.80,931.42 L219.13,932.38 L219.16,932.45 L219.49,933.14 L219.52,933.19 L219.85,933.63 L219.88,933.66 L220.21,933.89 L220.24,933.90 L220.49,933.94 L220.60,933.93 L220.93,933.79 L220.96,933.77 L221.29,933.47 L221.31,933.44 L221.65,932.99 L221.67,932.95 L222.00,932.36 L222.03,932.31 L222.36,931.59 L222.39,931.53 L222.72,930.69 L222.75,930.62 L223.08,929.66 L223.11,929.58 L223.44,928.51 L223.47,928.42 L223.80,927.25 L223.83,927.15 L224.16,925.89 L224.18,925.78 L224.52,924.42 L224.54,924.30 L224.87,922.86 L224.90,922.74 L225.23,921.21 L225.26,921.08 L225.59,919.48 L225.62,919.34 L225.95,917.67 L225.98,917.53 L226.31,915.80 L226.34,915.65 L226.67,913.86 L226.70,913.71 L227.03,911.86 L227.06,911.71 L227.39,909.81 L227.41,909.65 L227.75,907.72 L227.77,907.56 L228.10,905.59 L228.13,905.42 L228.46,903.42 L228.49,903.25 L228.82,901.22 L228.85,901.05 L229.18,899.00 L229.21,898.82 L229.54,896.75 L229.57,896.58 L229.90,894.50 L229.93,894.32 L230.26,892.23 L230.45,891.00 L230.62,893.56 L230.64,893.95 L230.97,898.10 L231.00,898.40 L231.33,901.52 L231.36,901.75 L231.69,904.06 L231.72,904.22 L232.05,905.87 L232.08,905.98 L232.41,907.09 L232.44,907.17 L232.77,907.82 L232.80,907.86 L233.13,908.14 L233.15,908.15 L233.49,912.51 L233.51,912.90 L233.84,917.09 L233.87,917.40 L234.20,920.70 L234.23,920.95 L234.56,923.55 L234.59,923.74 L234.92,925.77 L234.95,925.92 L235.28,927.49 L235.31,927.60 L235.64,928.79 L235.67,928.87 L236.00,929.94 L236.03,930.20 L236.36,932.99 L236.38,933.20 L236.72,935.45 L236.74,935.62 L237.07,937.45 L237.10,937.59 L237.43,939.06 L237.46,939.17 L237.79,940.36 L237.82,940.45 L238.15,941.39 L238.18,941.46 L238.51,942.21 L238.54,942.27 L238.87,942.85 L238.90,942.90 L239.23,943.34 L239.25,943.37 L239.59,943.70 L239.61,943.72 L239.94,943.94 L239.97,943.96 L240.30,944.09 L240.33,944.10 L240.66,944.16 L240.83,944.16 L241.02,944.15 L241.05,944.15 L241.38,944.09 L241.41,944.08 L241.74,943.97 L241.77,943.96 L242.10,943.80 L242.12,943.78 L242.46,943.59 L242.48,943.57 L242.81,943.34 L242.84,943.32 L243.17,943.06 L243.20,943.04 L243.53,942.76 L243.56,942.73 L243.89,942.42 L243.92,942.40 L244.25,942.07 L244.28,942.04 L244.61,941.70 L244.64,941.67 L244.97,941.32 L245.00,941.28 L245.33,940.92 L245.35,940.88 L245.69,940.50 L245.71,940.47 L246.04,940.08 L246.07,940.05 L246.40,939.66 L246.43,939.62 L246.76,939.22 L246.79,939.19 L247.12,938.78 L247.15,938.75 L247.48,938.34 L247.51,938.30 L247.84,937.89 L247.87,937.86 L248.20,937.45 L248.22,937.41 L248.56,937.00 L248.58,936.96 L248.91,936.55 L248.94,936.51 L249.27,936.10 L249.30,936.06 L249.63,935.65 L249.77,935.48 L249.99,936.60 L250.02,936.73 L250.35,938.12 L250.38,938.22 L250.71,939.32 L250.74,939.41 L251.07,940.28 L251.09,940.34 L251.43,941.03 L251.45,941.08 L251.78,941.61 L251.81,941.65 L252.14,942.07 L252.17,942.10 L252.50,942.41 L252.53,942.43 L252.86,943.97 L252.89,944.08 L253.22,945.31 L253.25,945.40 L253.58,946.38 L253.61,946.46 L253.94,947.25 L253.97,947.30 L254.30,947.94 L254.32,947.99 L254.66,948.50 L254.68,948.54 L255.01,948.95 L255.04,948.98 L255.37,949.42 L255.40,949.48 L255.73,950.15 L255.76,950.20 L256.09,950.74 L256.12,950.78 L256.45,951.21 L256.48,951.24 L256.81,951.58 L256.84,951.61 L257.17,951.89 L257.19,951.91 L257.53,952.13 L257.55,952.15 L257.88,952.33 L258.05,952.40" fill="none" stroke="#2a7cc4" stroke-width="1.20" stroke-linejoin="round"/>
<path d="M37.25,953.19 L37.28,953.19 L37.58,953.20 L37.61,953.20 L37.94,953.20 L37.97,953.20 L38.30,953.20 L38.33,953.20 L38.66,953.20 L38.69,953.20 L39.02,953.20 L39.04,953.20 L39.38,953.20 L39.54,953.20 L39.73,953.20 L39.76,953.20 L40.09,953.20 L40.12,953.20 L40.45,953.20 L40.48,953.20 L40.81,953.19 L40.84,953.19 L41.17,953.18 L41.20,953.18 L41.53,953.17 L41.56,953.17 L41.89,953.16 L41.91,953.16 L42.25,953.14 L42.27,953.14 L42.60,953.12 L42.63,953.12 L42.96,953.11 L42.99,953.11 L43.32,953.09 L43.35,953.08 L43.68,953.06 L43.71,953.06 L44.04,953.04 L44.07,953.03 L44.40,953.01 L44.43,953.00 L44.76,952.97 L44.78,952.97 L45.12,952.94 L45.14,952.94 L45.47,952.90 L45.50,952.90 L45.83,952.87 L45.86,952.86 L46.19,952.83 L46.22,952.83 L46.55,952.79 L46.58,952.79 L46.91,952.75 L46.94,952.75 L47.27,952.71 L47.30,952.70 L47.63,952.67 L47.66,952.66 L47.99,952.63 L48.01,952.62 L48.35,952.59 L48.37,952.58 L48.70,952.55 L48.73,952.54 L49.06,952.51 L49.09,952.51 L49.42,952.48 L49.45,952.47 L49.78,952.44 L49.81,952.44 L50.14,952.41 L50.17,952.41 L50.50,952.39 L50.53,952.38 L50.86,952.36 L50.88,952.36 L51.22,952.35 L51.24,952.34 L51.57,952.33 L51.60,952.33 L51.93,952.32 L51.96,952.32 L52.29,952.32 L52.35,952.32 L52.65,952.32 L52.68,952.32 L53.01,952.33 L53.04,952.33 L53.37,952.34 L53.40,952.34 L53.73,952.36 L53.75,952.36 L54.09,952.38 L54.11,952.38 L54.44,952.41 L54.47,952.41 L54.80,952.44 L54.83,952.44 L55.16,952.48 L55.19,952.48 L55.52,952.52 L55.55,952.52 L55.88,952.56 L55.91,952.57 L56.24,952.61 L56.27,952.61 L56.60,952.66 L56.63,952.66 L56.96,952.70 L56.98,952.70 L57.32,952.73 L57.34,952.73 L57.67,952.76 L57.70,952.76 L58.03,952.78 L58.06,952.78 L58.39,952.79 L58.42,952.80 L58.75,952.81 L58.78,952.81 L59.11,952.82 L59.14,952.83 L59.47,952.84 L59.50,952.84 L59.83,952.84 L59.94,952.84 L60.19,952.84 L60.21,952.84 L60.54,952.84 L60.57,952.84 L60.90,952.83 L60.93,952.82 L61.26,952.81 L61.29,952.81 L61.62,952.79 L61.65,952.79 L61.98,952.78 L62.01,952.77 L62.34,952.76 L62.37,952.75 L62.70,952.73 L62.72,952.73 L63.06,952.70 L63.08,952.70 L63.41,952.67 L63.44,952.66 L63.77,952.63 L63.80,952.62 L64.13,952.59 L64.16,952.58 L64.49,952.54 L64.52,952.54 L64.85,952.50 L64.88,952.49 L65.21,952.45 L65.24,952.44 L65.57,952.40 L65.60,952.39 L65.93,952.35 L65.95,952.34 L66.29,952.29 L66.31,952.29 L66.64,952.24 L66.67,952.24 L67.00,952.19 L67.03,952.18 L67.36,952.14 L67.39,952.13 L67.72,952.08 L67.75,952.08 L68.08,952.04 L68.11,952.03 L68.44,951.99 L68.47,951.98 L68.80,951.94 L68.82,951.94 L69.16,951.90 L69.18,951.90 L69.51,951.86 L69.54,951.86 L69.87,951.83 L69.90,951.83 L70.23,951.81 L70.26,951.80 L70.59,951.78 L70.62,951.78 L70.95,951.77 L70.98,951.77 L71.31,951.76 L71.34,951.76 L71.58,951.76 L71.69,951.76 L72.03,951.76 L72.05,951.76 L72.38,951.78 L72.41,951.78 L72.74,951.80 L72.77,951.80 L73.10,951.82 L73.13,951.82 L73.46,951.85 L73.49,951.86 L73.82,951.89 L73.85,951.90 L74.18,951.94 L74.21,951.94 L74.54,951.99 L74.57,951.99 L74.90,952.04 L74.92,952.05 L75.26,952.10 L75.28,952.11 L75.61,952.16 L75.64,952.17 L75.97,952.23 L76.00,952.23 L76.33,952.28 L76.36,952.28 L76.69,952.32 L76.72,952.33 L77.05,952.36 L77.08,952.36 L77.41,952.38 L77.44,952.38 L77.77,952.40 L77.79,952.41 L78.13,952.42 L78.15,952.43 L78.48,952.44 L78.51,952.44 L78.84,952.46 L78.87,952.46 L79.20,952.47 L79.26,952.47 L79.56,952.46 L79.59,952.46 L79.92,952.45 L79.95,952.45 L80.28,952.44 L80.31,952.44 L80.64,952.42 L80.66,952.42 L81.00,952.40 L81.02,952.40 L81.35,952.37 L81.38,952.37 L81.71,952.35 L81.74,952.34 L82.07,952.31 L82.10,952.31 L82.43,952.27 L82.46,952.27 L82.79,952.23 L82.82,952.22 L83.15,952.17 L83.18,952.17 L83.51,952.12 L83.54,952.12 L83.87,952.06 L83.89,952.06 L84.23,952.00 L84.25,952.00 L84.58,951.94 L84.61,951.93 L84.94,951.87 L84.97,951.87 L85.30,951.80 L85.33,951.80 L85.66,951.73 L85.69,951.73 L86.02,951.67 L86.05,951.66 L86.38,951.60 L86.41,951.59 L86.74,951.53 L86.76,951.52 L87.10,951.46 L87.12,951.46 L87.45,951.40 L87.48,951.39 L87.81,951.33 L87.84,951.33 L88.17,951.28 L88.20,951.27 L88.53,951.22 L88.56,951.22 L88.89,951.17 L88.92,951.17 L89.25,951.13 L89.28,951.13 L89.61,951.10 L89.63,951.09 L89.97,951.07 L89.99,951.07 L90.32,951.05 L90.35,951.05 L90.68,951.04 L90.71,951.04 L90.93,951.04 L91.07,951.04 L91.40,951.05 L91.43,951.05 L91.76,951.06 L91.79,951.06 L92.12,951.09 L92.15,951.09 L92.48,951.12 L92.51,951.13 L92.84,951.17 L92.86,951.17 L93.20,951.22 L93.22,951.22 L93.55,951.28 L93.58,951.28 L93.91,951.34 L93.94,951.35 L94.27,951.41 L94.30,951.42 L94.63,951.49 L94.66,951.50 L94.99,951.57 L95.02,951.58 L95.35,951.65 L95.38,951.66 L95.71,951.72 L95.73,951.73 L96.07,951.77 L96.09,951.78 L96.42,951.81 L96.45,951.82 L96.78,951.85 L96.81,951.85 L97.14,951.88 L97.17,951.88 L97.50,951.90 L97.53,951.90 L97.86,951.92 L97.89,951.93 L98.22,951.94 L98.25,951.95 L98.58,951.95 L98.60,951.95 L98.94,951.95 L98.96,951.94 L99.29,951.93 L99.32,951.93 L99.65,951.91 L99.68,951.91 L100.01,951.88 L100.04,951.88 L100.37,951.85 L100.40,951.85 L100.73,951.82 L100.76,951.82 L101.09,951.78 L101.12,951.78 L101.45,951.74 L101.48,951.73 L101.81,951.68 L101.83,951.68 L102.17,951.62 L102.19,951.61 L102.52,951.55 L102.55,951.55 L102.88,951.48 L102.91,951.47 L103.24,951.40 L103.27,951.39 L103.60,951.32 L103.63,951.31 L103.96,951.23 L103.99,951.23 L104.32,951.15 L104.35,951.14 L104.68,951.06 L104.70,951.05 L105.04,950.96 L105.06,950.96 L105.39,950.87 L105.42,950.86 L105.75,950.78 L105.78,950.77 L106.11,950.69 L106.14,950.68 L106.47,950.60 L106.50,950.59 L106.83,950.51 L106.86,950.51 L107.19,950.43 L107.22,950.43 L107.55,950.36 L107.57,950.35 L107.91,950.28 L107.93,950.28 L108.26,950.22 L108.29,950.22 L108.62,950.17 L108.65,950.16 L108.98,950.12 L109.01,950.12 L109.34,950.08 L109.37,950.08 L109.70,950.06 L109.73,950.06 L110.06,950.05 L110.09,950.04 L110.31,950.04 L110.45,950.04 L110.78,950.05 L110.80,950.05 L111.14,950.08 L111.16,950.08 L111.49,950.11 L111.52,950.11 L111.85,950.16 L111.88,950.16 L112.21,950.21 L112.24,950.22 L112.57,950.28 L112.60,950.29 L112.93,950.36 L112.96,950.36 L113.29,950.44 L113.32,950.45 L113.65,950.54 L113.67,950.55 L114.01,950.64 L114.03,950.65 L114.36,950.75 L114.39,950.75 L114.72,950.85 L114.75,950.86 L115.08,950.94 L115.11,950.94 L115.44,951.00 L115.47,951.01 L115.80,951.06 L115.83,951.06 L116.16,951.10 L116.19,951.10 L116.52,951.13 L116.54,951.14 L116.88,951.17 L116.90,951.17 L117.23,951.20 L117.26,951.20 L117.59,951.22 L117.62,951.22 L117.87,951.22 L117.98,951.22 L118.31,951.21 L118.34,951.21 L118.67,951.19 L118.70,951.19 L119.03,951.16 L119.06,951.16 L119.39,951.13 L119.42,951.12 L119.75,951.08 L119.77,951.08 L120.11,951.04 L120.13,951.04 L120.46,950.99 L120.49,950.98 L120.82,950.92 L120.85,950.92 L121.18,950.84 L121.21,950.84 L121.54,950.76 L121.57,950.75 L121.90,950.67 L121.93,950.66 L122.26,950.57 L122.29,950.56 L122.62,950.46 L122.64,950.45 L122.98,950.35 L123.00,950.34 L123.33,950.23 L123.36,950.23 L123.69,950.12 L123.72,950.11 L124.05,949.99 L124.08,949.98 L124.41,949.87 L124.44,949.86 L124.77,949.75 L124.80,949.74 L125.13,949.62 L125.16,949.61 L125.49,949.50 L125.51,949.49 L125.85,949.38 L125.87,949.37 L126.20,949.26 L126.23,949.26 L126.56,949.15 L126.59,949.15 L126.92,949.05 L126.95,949.04 L127.28,948.96 L127.31,948.95 L127.64,948.87 L127.67,948.86 L128.00,948.80 L128.03,948.79 L128.36,948.73 L128.39,948.73 L128.72,948.68 L128.74,948.68 L129.08,948.65 L129.10,948.65 L129.43,948.63 L129.46,948.63 L129.68,948.63 L129.82,948.63 L130.15,948.64 L130.18,948.64 L130.51,948.67 L130.54,948.67 L130.87,948.71 L130.90,948.72 L131.23,948.77 L131.26,948.78 L131.59,948.85 L131.61,948.86 L131.95,948.94 L131.97,948.95 L132.30,949.04 L132.33,949.05 L132.66,949.15 L132.69,949.16 L133.02,949.28 L133.05,949.29 L133.38,949.41 L133.41,949.42 L133.74,949.56 L133.77,949.57 L134.10,949.70 L134.13,949.71 L134.46,949.80 L134.48,949.81 L134.82,949.89 L134.84,949.89 L135.17,949.95 L135.20,949.96 L135.53,950.01 L135.56,950.01 L135.89,950.05 L135.92,950.06 L136.25,950.09 L136.28,950.10 L136.61,950.13 L136.64,950.14 L136.97,950.16 L137.00,950.16 L137.16,950.16 L137.36,950.16 L137.69,950.14 L137.71,950.14 L138.05,950.11 L138.07,950.11 L138.40,950.07 L138.43,950.06 L138.76,950.01 L138.79,950.01 L139.12,949.96 L139.15,949.95 L139.48,949.89 L139.51,949.89 L139.84,949.81 L139.87,949.81 L140.20,949.72 L140.23,949.71 L140.56,949.61 L140.58,949.60 L140.92,949.49 L140.94,949.48 L141.27,949.36 L141.30,949.35 L141.63,949.23 L141.66,949.21 L141.99,949.08 L142.02,949.07 L142.35,948.92 L142.38,948.91 L142.71,948.76 L142.74,948.75 L143.07,948.60 L143.10,948.59 L143.43,948.43 L143.45,948.42 L143.79,948.26 L143.81,948.25 L144.14,948.09 L144.17,948.07 L144.50,947.92 L144.53,947.90 L144.86,947.75 L144.89,947.73 L145.22,947.58 L145.25,947.57 L145.58,947.42 L145.61,947.41 L145.94,947.27 L145.97,947.26 L146.30,947.13 L146.33,947.12 L146.66,947.00 L146.68,946.99 L147.02,946.88 L147.04,946.87 L147.37,946.77 L147.40,946.77 L147.73,946.69 L147.76,946.68 L148.09,946.62 L148.12,946.61 L148.45,946.57 L148.48,946.56 L148.81,946.54 L148.84,946.54 L149.11,946.53 L149.20,946.53 L149.53,946.54 L149.55,946.54 L149.89,946.58 L149.91,946.58 L150.24,946.64 L150.27,946.64 L150.60,946.71 L150.63,946.72 L150.96,946.81 L150.99,946.82 L151.32,946.93 L151.35,946.94 L151.68,947.07 L151.71,947.08 L152.04,947.22 L152.07,947.23 L152.40,947.39 L152.42,947.40 L152.76,947.57 L152.78,947.58 L153.11,947.76 L153.14,947.78 L153.47,947.94 L153.50,947.95 L153.83,948.08 L153.86,948.09 L154.19,948.19 L154.22,948.19 L154.55,948.27 L154.58,948.28 L154.91,948.34 L154.94,948.34 L155.27,948.40 L155.30,948.40 L155.63,948.45 L155.65,948.46 L155.99,948.50 L156.01,948.51 L156.34,948.53 L156.45,948.53 L156.70,948.52 L156.73,948.52 L157.06,948.49 L157.09,948.49 L157.42,948.44 L157.45,948.44 L157.78,948.37 L157.81,948.37 L158.14,948.30 L158.17,948.29 L158.50,948.21 L158.52,948.20 L158.86,948.11 L158.88,948.11 L159.21,948.00 L159.24,947.99 L159.57,947.86 L159.60,947.85 L159.93,947.71 L159.96,947.69 L160.29,947.53 L160.32,947.52 L160.65,947.35 L160.68,947.33 L161.01,947.15 L161.04,947.13 L161.37,946.93 L161.39,946.92 L161.73,946.71 L161.75,946.70 L162.08,946.48 L162.11,946.47 L162.44,946.25 L162.47,946.23 L162.80,946.01 L162.83,945.99 L163.16,945.76 L163.19,945.74 L163.52,945.52 L163.55,945.50 L163.88,945.27 L163.91,945.25 L164.24,945.03 L164.27,945.01 L164.60,944.79 L164.62,944.78 L164.96,944.57 L164.98,944.55 L165.31,944.35 L165.34,944.33 L165.67,944.14 L165.70,944.13 L166.03,943.95 L166.06,943.94 L166.39,943.78 L166.42,943.77 L166.75,943.63 L166.78,943.62 L167.11,943.50 L167.14,943.49 L167.47,943.39 L167.49,943.39 L167.83,943.31 L167.85,943.31 L168.18,943.26 L168.21,943.26 L168.54,943.24 L168.63,943.24 L168.90,943.25 L168.93,943.25 L169.26,943.29 L169.29,943.30 L169.62,943.36 L169.65,943.37 L169.98,943.46 L170.01,943.47 L170.34,943.59 L170.36,943.60 L170.70,943.74 L170.72,943.76 L171.05,943.92 L171.08,943.94 L171.41,944.13 L171.44,944.14 L171.77,944.35 L171.80,944.37 L172.13,944.60 L172.16,944.62 L172.49,944.86 L172.52,944.88 L172.85,945.10 L172.88,945.11 L173.21,945.28 L173.24,945.29 L173.57,945.41 L173.59,945.42 L173.93,945.52 L173.95,945.53 L174.28,945.61 L174.31,945.61 L174.64,945.68 L174.67,945.69 L175.00,945.75 L175.03,945.75 L175.36,945.81 L175.39,945.81 L175.69,945.83 L175.75,945.83 L176.08,945.81 L176.11,945.81 L176.44,945.75 L176.46,945.75 L176.80,945.67 L176.82,945.66 L177.15,945.56 L177.18,945.55 L177.51,945.43 L177.54,945.42 L177.87,945.30 L177.90,945.29 L178.23,945.15 L178.26,945.14 L178.59,944.97 L178.62,944.95 L178.95,944.76 L178.98,944.74 L179.31,944.52 L179.33,944.50 L179.67,944.25 L179.69,944.23 L180.02,943.97 L180.05,943.95 L180.38,943.67 L180.41,943.64 L180.74,943.35 L180.77,943.33 L181.10,943.02 L181.13,942.99 L181.46,942.67 L181.49,942.65 L181.82,942.32 L181.85,942.29 L182.18,941.96 L182.21,941.93 L182.54,941.59 L182.56,941.57 L182.90,941.23 L182.92,941.20 L183.25,940.86 L183.28,940.83 L183.61,940.50 L183.64,940.47 L183.97,940.14 L184.00,940.11 L184.33,939.80 L184.36,939.77 L184.69,939.46 L184.72,939.44 L185.05,939.15 L185.08,939.13 L185.41,938.86 L185.43,938.84 L185.77,938.59 L185.79,938.57 L186.12,938.35 L186.15,938.33 L186.48,938.14 L186.51,938.12 L186.84,937.96 L186.87,937.95 L187.20,937.83 L187.23,937.82 L187.56,937.73 L187.59,937.72 L187.92,937.67 L187.95,937.67 L188.22,937.65 L188.30,937.65 L188.64,937.68 L188.66,937.68 L188.99,937.75 L189.02,937.76 L189.35,937.86 L189.38,937.87 L189.71,938.01 L189.74,938.03 L190.07,938.21 L190.10,938.22 L190.43,938.44 L190.46,938.46 L190.79,938.71 L190.82,938.73 L191.15,939.01 L191.18,939.03 L191.51,939.34 L191.53,939.37 L191.87,939.70 L191.89,939.72 L192.22,940.01 L192.25,940.03 L192.58,940.23 L192.61,940.25 L192.94,940.40 L192.97,940.41 L193.30,940.53 L193.33,940.54 L193.66,940.63 L193.69,940.64 L194.02,940.72 L194.05,940.72 L194.38,940.79 L194.40,940.80 L194.74,940.86 L194.90,940.87 L195.09,940.86 L195.12,940.86 L195.45,940.79 L195.48,940.79 L195.81,940.68 L195.84,940.66 L196.17,940.52 L196.20,940.50 L196.53,940.33 L196.56,940.31 L196.89,940.11 L196.92,940.09 L197.25,939.88 L197.27,939.86 L197.61,939.62 L197.63,939.60 L197.96,939.31 L197.99,939.29 L198.32,938.96 L198.35,938.93 L198.68,938.56 L198.71,938.53 L199.04,938.13 L199.07,938.10 L199.40,937.67 L199.43,937.63 L199.76,937.18 L199.79,937.14 L200.12,936.67 L200.15,936.62 L200.48,936.13 L200.50,936.09 L200.84,935.57 L200.86,935.53 L201.19,935.01 L201.22,934.96 L201.55,934.42 L201.58,934.38 L201.91,933.84 L201.94,933.79 L202.27,933.24 L202.30,933.20 L202.63,932.65 L202.66,932.61 L202.99,932.06 L203.02,932.02 L203.35,931.49 L203.37,931.44 L203.71,930.92 L203.73,930.88 L204.06,930.37 L204.09,930.33 L204.42,929.85 L204.45,929.81 L204.78,929.35 L204.81,929.32 L205.14,928.89 L205.17,928.86 L205.50,928.47 L205.53,928.44 L205.86,928.08 L205.89,928.06 L206.22,927.75 L206.24,927.72 L206.58,927.46 L206.60,927.44 L206.93,927.23 L206.96,927.21 L207.29,927.05 L207.32,927.04 L207.65,926.94 L207.68,926.93 L208.01,926.88 L208.15,926.88 L208.37,926.89 L208.40,926.89 L208.73,926.96 L208.76,926.97 L209.09,927.09 L209.12,927.10 L209.45,927.28 L209.47,927.30 L209.81,927.53 L209.83,927.55 L210.16,927.84 L210.19,927.86 L210.52,928.20 L210.55,928.23 L210.88,928.61 L210.91,928.64 L211.24,929.06 L211.27,929.10 L211.60,929.43 L211.63,929.45 L211.96,929.68 L211.99,929.69 L212.32,929.85 L212.34,929.86 L212.68,929.96 L212.70,929.97 L213.03,930.03 L213.06,930.04 L213.39,930.08 L213.42,930.09 L213.75,930.12 L213.78,930.13 L214.03,930.15 L214.14,930.14 L214.47,930.05 L214.50,930.03 L214.83,929.85 L214.86,929.83 L215.19,929.57 L215.21,929.54 L215.55,929.22 L215.57,929.19 L215.90,928.83 L215.93,928.79 L216.26,928.39 L216.29,928.36 L216.62,927.93 L216.65,927.89 L216.98,927.42 L217.01,927.37 L217.34,926.82 L217.37,926.77 L217.70,926.15 L217.73,926.10 L218.06,925.42 L218.09,925.36 L218.42,924.63 L218.44,924.57 L218.78,923.79 L218.80,923.73 L219.13,922.91 L219.16,922.84 L219.49,921.98 L219.52,921.91 L219.85,921.03 L219.88,920.95 L220.21,920.04 L220.24,919.96 L220.57,919.03 L220.60,918.95 L220.93,918.00 L220.96,917.92 L221.29,916.96 L221.31,916.88 L221.65,915.91 L221.67,915.83 L222.00,914.85 L222.03,914.77 L222.36,913.80 L222.39,913.72 L222.72,912.76 L222.75,912.68 L223.08,911.74 L223.11,911.66 L223.44,910.73 L223.47,910.65 L223.80,909.75 L223.83,909.68 L224.16,908.81 L224.18,908.73 L224.52,907.90 L224.54,907.83 L224.87,907.04 L224.90,906.97 L225.23,906.22 L225.26,906.16 L225.59,905.47 L225.62,905.41 L225.95,904.77 L225.98,904.72 L226.31,904.14 L226.34,904.10 L226.67,903.58 L226.70,903.54 L227.03,903.10 L227.06,903.06 L227.39,902.69 L227.41,902.66 L227.75,902.35 L227.77,902.33 L228.10,902.10 L228.13,902.09 L228.46,901.93 L228.49,901.92 L228.82,901.85 L228.85,901.84 L229.01,901.84 L229.21,901.85 L229.54,901.92 L229.57,901.93 L229.90,902.08 L229.93,902.10 L230.26,902.32 L230.28,902.35 L230.62,902.62 L230.64,902.64 L230.97,902.79 L231.00,902.79 L231.20,902.81 L231.36,902.79 L231.69,902.70 L231.72,902.69 L232.05,902.52 L232.08,902.51 L232.41,902.29 L232.44,902.27 L232.77,902.02 L232.80,902.00 L233.13,901.73 L233.15,901.71 L233.49,901.40 L233.51,901.37 L233.84,900.88 L233.87,900.84 L234.20,900.21 L234.23,900.16 L234.56,899.42 L234.59,899.35 L234.92,898.52 L234.95,898.45 L235.28,897.55 L235.31,897.47 L235.64,896.51 L235.67,896.43 L236.00,895.43 L236.03,895.34 L236.36,894.26 L236.38,894.17 L236.72,892.98 L236.74,892.88 L237.07,891.59 L237.10,891.48 L237.43,890.11 L237.46,890.00 L237.79,888.56 L237.82,888.44 L238.15,886.95 L238.18,886.82 L238.51,885.28 L238.54,885.15 L238.87,883.57 L238.90,883.43 L239.23,881.82 L239.25,881.68 L239.59,880.04 L239.61,879.90 L239.94,878.24 L239.97,878.11 L240.30,876.43 L240.33,876.29 L240.66,874.61 L240.69,874.47 L241.02,872.79 L241.05,872.65 L241.38,870.98 L241.41,870.84 L241.74,869.17 L241.77,869.03 L242.10,867.38 L242.12,867.24 L242.46,865.61 L242.48,865.47 L242.81,863.87 L242.84,863.73 L243.17,862.15 L243.20,862.02 L243.53,860.47 L243.56,860.35 L243.89,858.83 L243.92,858.71 L244.25,857.24 L244.28,857.11 L244.61,855.68 L244.64,855.57 L244.97,854.18 L245.00,854.06 L245.33,852.72 L245.35,852.61 L245.69,851.32 L245.71,851.22 L246.04,849.98 L246.07,849.88 L246.40,848.69 L246.43,848.59 L246.76,847.46 L246.79,847.36 L247.12,846.28 L247.15,846.19 L247.48,845.17 L247.51,845.08 L247.84,844.11 L247.87,844.03 L248.20,843.12 L248.22,843.04 L248.56,842.18 L248.58,842.11 L248.91,841.31 L248.94,841.24 L249.27,840.49 L249.30,840.43 L249.63,839.73 L249.66,839.68 L249.99,839.02 L250.02,838.97 L250.35,838.23 L250.38,838.16 L250.71,837.33 L250.74,837.26 L251.07,836.38 L251.09,836.30 L251.43,835.37 L251.45,835.29 L251.78,834.33 L251.81,834.25 L252.14,833.27 L252.17,833.19 L252.50,832.20 L252.53,832.12 L252.86,831.13 L252.89,831.05 L253.22,829.96 L253.25,829.87 L253.58,828.71 L253.61,828.61 L253.94,827.40 L253.97,827.30 L254.30,826.06 L254.32,825.96 L254.66,824.70 L254.68,824.59 L255.01,823.32 L255.04,823.21 L255.37,821.95 L255.40,821.85 L255.73,820.58 L255.76,820.48 L256.09,819.20 L256.12,819.09 L256.45,817.80 L256.48,817.69 L256.81,816.40 L256.84,816.29 L257.17,815.00 L257.19,814.89 L257.53,813.62 L257.55,813.51 L257.88,812.26 L258.05,811.64" fill="none" stroke="#dc5f2a" stroke-width="1.20" stroke-linejoin="round"/>
<path d="M37.25,866.27 L37.28,866.69 L37.58,870.69 L37.61,871.00 L37.94,874.10 L37.97,874.31 L38.30,876.33 L38.33,876.46 L38.66,877.58 L38.69,877.64 L39.02,878.02 L39.04,878.02 L39.38,877.75 L39.40,877.71 L39.73,876.89 L40.01,875.87 L40.09,877.90 L40.12,878.55 L40.45,885.40 L40.48,885.90 L40.81,891.13 L40.84,891.51 L41.17,895.48 L41.20,895.76 L41.53,898.69 L41.56,898.89 L41.89,900.97 L41.91,901.11 L42.25,902.46 L42.27,902.55 L42.60,903.27 L42.63,903.31 L42.96,906.33 L42.99,906.71 L43.32,910.80 L43.35,911.10 L43.68,914.32 L43.71,914.56 L44.04,917.06 L44.07,917.24 L44.40,919.13 L44.43,919.27 L44.76,920.65 L44.78,920.74 L45.12,921.68 L45.14,921.74 L45.47,922.27 L45.50,922.30 L45.83,922.48 L45.86,922.48 L46.19,922.33 L46.22,922.30 L46.55,921.84 L46.58,921.79 L46.91,921.03 L46.94,920.96 L47.27,919.92 L47.30,919.82 L47.63,918.51 L47.66,918.39 L47.99,916.81 L48.01,916.67 L48.35,914.83 L48.37,914.66 L48.70,912.57 L48.73,912.38 L49.06,910.04 L49.09,909.83 L49.42,907.25 L49.45,907.02 L49.78,904.20 L49.81,903.96 L50.14,900.93 L50.17,900.66 L50.50,897.42 L50.53,897.14 L50.86,893.72 L50.88,893.42 L51.22,889.82 L51.24,889.52 L51.57,885.77 L51.60,885.45 L51.93,881.58 L51.96,881.26 L52.29,877.29 L52.32,876.95 L52.65,872.91 L52.68,872.57 L53.01,868.48 L53.04,868.14 L53.37,864.04 L53.40,863.70 L53.73,859.60 L53.75,859.26 L54.09,855.20 L54.11,854.87 L54.44,850.87 L54.47,850.54 L54.80,846.62 L54.83,846.30 L55.16,842.48 L55.19,842.17 L55.52,838.47 L55.55,838.17 L55.88,834.61 L55.91,834.32 L56.24,830.90 L56.27,830.62 L56.57,827.63 L56.63,829.54 L56.96,839.32 L56.98,840.02 L57.32,847.18 L57.34,847.69 L57.67,852.85 L57.70,853.22 L58.03,856.82 L58.06,857.07 L58.39,859.43 L58.42,859.59 L58.75,860.94 L58.78,861.01 L59.11,861.53 L59.33,861.51 L59.47,865.89 L59.50,866.71 L59.83,875.34 L59.85,875.97 L60.19,882.54 L60.21,883.02 L60.54,888.00 L60.57,888.36 L60.90,892.08 L60.93,892.34 L61.26,895.03 L61.29,895.21 L61.62,897.05 L61.65,897.17 L61.98,898.28 L62.01,898.34 L62.34,902.67 L62.37,903.09 L62.70,907.59 L62.72,907.92 L63.06,911.44 L63.08,911.70 L63.41,914.44 L63.44,914.64 L63.77,916.71 L63.80,916.86 L64.13,918.38 L64.16,918.49 L64.49,919.53 L64.52,919.59 L64.85,920.21 L64.88,920.24 L65.21,920.47 L65.26,920.48 L65.57,920.35 L65.60,920.33 L65.93,919.89 L65.95,919.84 L66.29,919.09 L66.31,919.01 L66.64,917.97 L66.67,917.87 L67.00,916.54 L67.03,916.42 L67.36,914.82 L67.39,914.68 L67.72,912.81 L67.75,912.64 L68.08,910.52 L68.11,910.33 L68.44,907.96 L68.47,907.75 L68.80,905.14 L68.82,904.91 L69.16,902.07 L69.18,901.83 L69.51,898.77 L69.54,898.51 L69.87,895.25 L69.90,894.97 L70.23,891.53 L70.26,891.24 L70.59,887.64 L70.62,887.33 L70.95,883.59 L70.98,883.28 L71.31,879.42 L71.34,879.09 L71.67,875.15 L71.69,874.82 L72.03,870.81 L72.05,870.48 L72.38,866.43 L72.41,866.10 L72.74,862.04 L72.77,861.71 L73.10,857.67 L73.13,857.34 L73.46,853.35 L73.49,853.02 L73.82,849.09 L73.85,848.77 L74.18,844.93 L74.21,844.62 L74.54,840.88 L74.57,840.58 L74.90,836.97 L74.92,836.67 L75.26,833.20 L75.28,832.92 L75.61,829.59 L75.89,826.92 L75.97,829.79 L76.00,830.70 L76.33,840.11 L76.36,840.78 L76.69,847.67 L76.72,848.16 L77.05,853.11 L77.08,853.46 L77.41,856.90 L77.44,857.14 L77.77,859.37 L77.79,859.51 L78.13,860.75 L78.15,860.82 L78.48,861.26 L78.65,861.23 L78.84,867.24 L78.87,868.03 L79.20,876.31 L79.23,876.91 L79.56,883.22 L79.59,883.68 L79.92,888.45 L79.95,888.80 L80.28,892.34 L80.31,892.60 L80.64,895.14 L80.66,895.32 L81.00,897.04 L81.02,897.15 L81.35,898.16 L81.38,898.22 L81.71,903.25 L81.74,903.66 L82.07,907.98 L82.10,908.30 L82.43,911.68 L82.46,911.93 L82.79,914.54 L82.82,914.73 L83.15,916.71 L83.18,916.85 L83.51,918.28 L83.54,918.38 L83.87,919.34 L83.89,919.40 L84.23,919.95 L84.25,919.98 L84.58,920.14 L84.61,920.14 L84.94,919.97 L84.97,919.94 L85.30,919.45 L85.33,919.39 L85.66,918.59 L85.69,918.51 L86.02,917.43 L86.05,917.33 L86.38,915.96 L86.41,915.84 L86.74,914.20 L86.76,914.05 L87.10,912.16 L87.12,911.99 L87.45,909.84 L87.48,909.65 L87.81,907.26 L87.84,907.05 L88.17,904.42 L88.20,904.19 L88.53,901.33 L88.56,901.09 L88.89,898.02 L88.92,897.76 L89.25,894.50 L89.28,894.22 L89.61,890.79 L89.63,890.49 L89.97,886.90 L89.99,886.60 L90.32,882.87 L90.35,882.56 L90.68,878.72 L90.71,878.40 L91.04,874.48 L91.07,874.15 L91.40,870.18 L91.43,869.84 L91.76,865.83 L91.79,865.50 L92.12,861.49 L92.15,861.15 L92.48,857.16 L92.51,856.83 L92.84,852.88 L92.86,852.55 L93.20,848.67 L93.22,848.35 L93.55,844.56 L93.58,844.25 L93.91,840.56 L93.94,840.26 L94.27,836.69 L94.30,836.40 L94.63,832.97 L94.66,832.69 L94.99,829.40 L95.21,827.29 L95.35,831.92 L95.38,832.78 L95.71,841.68 L95.73,842.32 L96.07,848.82 L96.09,849.28 L96.42,853.95 L96.45,854.27 L96.78,857.49 L96.81,857.70 L97.14,859.75 L97.17,859.88 L97.50,860.98 L97.53,861.04 L97.86,861.36 L97.97,861.33 L98.22,868.85 L98.25,869.60 L98.58,877.49 L98.60,878.06 L98.94,884.07 L98.96,884.50 L99.29,889.04 L99.32,889.37 L99.65,892.72 L99.68,892.96 L100.01,895.35 L100.04,895.52 L100.37,897.11 L100.40,897.21 L100.73,898.11 L100.76,898.60 L101.09,903.85 L101.12,904.24 L101.45,908.37 L101.48,908.67 L101.81,911.90 L101.83,912.13 L102.17,914.62 L102.19,914.80 L102.52,916.66 L102.55,916.80 L102.88,918.13 L102.91,918.22 L103.24,919.10 L103.27,919.15 L103.60,919.62 L103.63,919.65 L103.90,919.76 L103.99,919.75 L104.32,919.51 L104.35,919.48 L104.68,918.93 L104.70,918.87 L105.04,918.03 L105.06,917.95 L105.39,916.82 L105.42,916.71 L105.75,915.31 L105.78,915.18 L106.11,913.52 L106.14,913.37 L106.47,911.45 L106.50,911.27 L106.83,909.10 L106.86,908.91 L107.19,906.50 L107.22,906.29 L107.55,903.66 L107.57,903.43 L107.91,900.57 L107.93,900.32 L108.26,897.26 L108.29,897.00 L108.62,893.75 L108.65,893.47 L108.98,890.06 L109.01,889.76 L109.34,886.20 L109.37,885.89 L109.70,882.20 L109.73,881.88 L110.06,878.08 L110.09,877.76 L110.42,873.89 L110.45,873.56 L110.78,869.63 L110.80,869.30 L111.14,865.34 L111.16,865.01 L111.49,861.04 L111.52,860.71 L111.85,856.77 L111.88,856.45 L112.21,852.55 L112.24,852.23 L112.57,848.40 L112.60,848.09 L112.93,844.35 L112.96,844.04 L113.29,840.41 L113.32,840.11 L113.65,836.59 L113.67,836.31 L114.01,832.92 L114.03,832.65 L114.36,829.41 L114.53,827.84 L114.72,834.09 L114.75,834.91 L115.08,843.29 L115.11,843.89 L115.44,850.01 L115.47,850.44 L115.80,854.81 L115.83,855.11 L116.16,858.10 L116.19,858.30 L116.52,860.17 L116.54,860.28 L116.88,861.24 L116.90,861.29 L117.18,861.50 L117.29,861.47 L117.59,870.39 L117.62,871.10 L117.95,878.60 L117.98,879.14 L118.31,884.85 L118.34,885.26 L118.67,889.55 L118.70,889.86 L119.03,893.02 L119.06,893.25 L119.39,895.48 L119.42,895.64 L119.75,897.09 L119.77,897.19 L120.11,898.85 L120.13,899.32 L120.46,904.32 L120.49,904.69 L120.82,908.62 L120.85,908.91 L121.18,911.97 L121.21,912.20 L121.54,914.54 L121.57,914.71 L121.90,916.46 L121.93,916.58 L122.26,917.82 L122.29,917.90 L122.62,918.69 L122.64,918.74 L122.98,919.13 L123.00,919.15 L123.20,919.21 L123.36,919.17 L123.69,918.88 L123.72,918.84 L124.05,918.24 L124.08,918.17 L124.41,917.28 L124.44,917.20 L124.77,916.03 L124.80,915.92 L125.13,914.49 L125.16,914.36 L125.49,912.66 L125.51,912.51 L125.85,910.57 L125.87,910.40 L126.20,908.22 L126.23,908.02 L126.56,905.61 L126.59,905.40 L126.92,902.76 L126.95,902.54 L127.28,899.69 L127.31,899.44 L127.64,896.40 L127.67,896.14 L128.00,892.92 L128.03,892.65 L128.36,889.26 L128.39,888.97 L128.72,885.45 L128.74,885.15 L129.08,881.50 L129.10,881.19 L129.43,877.45 L129.46,877.13 L129.79,873.31 L129.82,872.99 L130.15,869.13 L130.18,868.80 L130.51,864.91 L130.54,864.59 L130.87,860.69 L130.90,860.37 L131.23,856.50 L131.26,856.18 L131.59,852.36 L131.61,852.04 L131.95,848.29 L131.97,847.98 L132.30,844.31 L132.33,844.01 L132.66,840.44 L132.69,840.15 L133.02,836.70 L133.05,836.41 L133.38,833.09 L133.41,832.82 L133.74,829.63 L133.85,828.60 L134.10,836.32 L134.13,837.09 L134.46,844.95 L134.48,845.51 L134.82,851.23 L134.84,851.64 L135.17,855.70 L135.20,855.98 L135.53,858.74 L135.56,858.92 L135.89,860.61 L135.92,860.71 L136.25,861.53 L136.28,861.57 L136.50,861.70 L136.64,862.55 L136.97,871.85 L137.00,872.52 L137.33,879.61 L137.36,880.13 L137.69,885.51 L137.71,885.90 L138.05,889.95 L138.07,890.24 L138.40,893.20 L138.43,893.41 L138.76,895.48 L138.79,895.62 L139.12,896.95 L139.15,897.03 L139.48,899.41 L139.51,899.86 L139.84,904.60 L139.87,904.95 L140.20,908.67 L140.23,908.94 L140.56,911.82 L140.58,912.03 L140.92,914.23 L140.94,914.39 L141.27,916.01 L141.30,916.12 L141.63,917.24 L141.66,917.32 L141.99,918.01 L142.02,918.05 L142.35,918.36 L142.49,918.39 L142.71,918.33 L142.74,918.31 L143.07,917.95 L143.10,917.91 L143.43,917.25 L143.45,917.19 L143.79,916.25 L143.81,916.16 L144.14,914.95 L144.17,914.84 L144.50,913.38 L144.53,913.25 L144.86,911.54 L144.89,911.38 L145.22,909.43 L145.25,909.26 L145.58,907.08 L145.61,906.89 L145.94,904.48 L145.97,904.27 L146.30,901.66 L146.33,901.43 L146.66,898.62 L146.68,898.37 L147.02,895.37 L147.04,895.12 L147.37,891.95 L147.40,891.68 L147.73,888.36 L147.76,888.07 L148.09,884.62 L148.12,884.33 L148.45,880.76 L148.48,880.46 L148.81,876.80 L148.84,876.49 L149.17,872.76 L149.20,872.45 L149.53,868.68 L149.55,868.37 L149.89,864.57 L149.91,864.26 L150.24,860.47 L150.27,860.15 L150.60,856.39 L150.63,856.07 L150.96,852.35 L150.99,852.05 L151.32,848.39 L151.35,848.09 L151.68,844.51 L151.71,844.22 L152.04,840.74 L152.07,840.46 L152.40,837.09 L152.42,836.82 L152.76,833.57 L152.78,833.31 L153.11,830.19 L153.17,829.69 L153.47,838.68 L153.50,839.38 L153.83,846.69 L153.86,847.21 L154.19,852.52 L154.22,852.89 L154.55,856.64 L154.58,856.90 L154.91,859.41 L154.94,859.58 L155.27,861.08 L155.30,861.17 L155.63,861.85 L155.65,861.88 L155.99,863.63 L156.01,864.46 L156.34,873.19 L156.37,873.82 L156.70,880.47 L156.73,880.96 L157.06,886.00 L157.09,886.37 L157.42,890.15 L157.45,890.42 L157.78,893.17 L157.81,893.36 L158.14,895.26 L158.17,895.39 L158.50,896.57 L158.52,896.65 L158.86,899.68 L158.88,900.10 L159.21,904.55 L159.24,904.87 L159.57,908.35 L159.60,908.60 L159.93,911.29 L159.96,911.48 L160.29,913.51 L160.32,913.65 L160.65,915.12 L160.68,915.22 L161.01,916.22 L161.04,916.28 L161.37,916.86 L161.39,916.90 L161.73,917.11 L161.78,917.11 L162.08,916.99 L162.11,916.96 L162.44,916.53 L162.47,916.48 L162.80,915.77 L162.83,915.70 L163.16,914.71 L163.19,914.62 L163.52,913.38 L163.55,913.26 L163.88,911.78 L163.91,911.64 L164.24,909.92 L164.27,909.77 L164.60,907.82 L164.62,907.65 L164.96,905.49 L164.98,905.30 L165.31,902.93 L165.34,902.72 L165.67,900.16 L165.70,899.93 L166.03,897.18 L166.06,896.95 L166.39,894.03 L166.42,893.77 L166.75,890.70 L166.78,890.43 L167.11,887.22 L167.14,886.95 L167.47,883.61 L167.49,883.32 L167.83,879.89 L167.85,879.59 L168.18,876.07 L168.21,875.78 L168.54,872.20 L168.57,871.90 L168.90,868.28 L168.93,867.97 L169.26,864.34 L169.29,864.03 L169.62,860.40 L169.65,860.10 L169.98,856.48 L170.01,856.19 L170.34,852.62 L170.36,852.32 L170.70,848.81 L170.72,848.52 L171.05,845.09 L171.08,844.81 L171.41,841.46 L171.44,841.19 L171.77,837.95 L171.80,837.68 L172.13,834.55 L172.16,834.29 L172.49,831.28 L172.52,832.16 L172.85,841.25 L172.88,841.89 L173.21,848.58 L173.24,849.06 L173.57,853.91 L173.59,854.24 L173.93,857.65 L173.95,857.88 L174.28,860.14 L174.31,860.29 L174.64,861.60 L174.67,861.68 L175.00,862.22 L175.25,862.23 L175.36,865.47 L175.39,866.24 L175.72,874.32 L175.75,874.90 L176.08,881.06 L176.11,881.51 L176.44,886.17 L176.46,886.50 L176.80,889.97 L176.82,890.22 L177.15,892.73 L177.18,892.90 L177.51,894.61 L177.54,894.72 L177.87,895.75 L177.90,895.81 L178.23,899.38 L178.26,899.77 L178.59,903.87 L178.62,904.17 L178.95,907.35 L178.98,907.58 L179.31,910.01 L179.33,910.19 L179.67,912.00 L179.69,912.13 L180.02,913.41 L180.05,913.50 L180.38,914.33 L180.41,914.38 L180.74,914.82 L180.77,914.84 L181.02,914.93 L181.13,914.92 L181.46,914.69 L181.49,914.66 L181.82,914.14 L181.85,914.09 L182.18,913.30 L182.21,913.23 L182.54,912.19 L182.56,912.09 L182.90,910.82 L182.92,910.70 L183.25,909.20 L183.28,909.07 L183.61,907.35 L183.64,907.20 L183.97,905.28 L184.00,905.11 L184.33,903.00 L184.36,902.81 L184.69,900.51 L184.72,900.31 L185.05,897.84 L185.08,897.63 L185.41,894.99 L185.43,894.76 L185.77,891.98 L185.79,891.74 L186.12,888.82 L186.15,888.57 L186.48,885.53 L186.51,885.28 L186.84,882.13 L186.87,881.87 L187.20,878.64 L187.23,878.37 L187.56,875.07 L187.59,874.79 L187.92,871.45 L187.95,871.17 L188.28,867.79 L188.30,867.51 L188.64,864.12 L188.66,863.84 L188.99,860.45 L189.02,860.17 L189.35,856.81 L189.38,856.53 L189.71,853.20 L189.74,852.93 L190.07,849.66 L190.10,849.39 L190.43,846.18 L190.46,845.92 L190.79,842.79 L190.82,842.53 L191.15,839.49 L191.18,839.24 L191.51,836.30 L191.53,836.06 L191.81,833.69 L191.89,836.08 L192.22,844.14 L192.25,844.71 L192.58,850.65 L192.61,851.07 L192.94,855.37 L192.97,855.67 L193.30,858.67 L193.33,858.87 L193.66,860.83 L193.69,860.96 L194.02,862.06 L194.05,862.12 L194.38,862.53 L194.57,862.51 L194.74,866.97 L194.76,867.66 L195.09,874.93 L195.12,875.45 L195.45,880.98 L195.48,881.38 L195.81,885.54 L195.84,885.84 L196.17,888.92 L196.20,889.14 L196.53,891.33 L196.56,891.48 L196.89,892.95 L196.92,893.04 L197.25,893.88 L197.27,893.93 L197.61,897.82 L197.63,898.16 L197.96,901.77 L197.99,902.04 L198.32,904.80 L198.35,905.00 L198.68,907.08 L198.71,907.22 L199.04,908.72 L199.07,908.83 L199.40,909.84 L199.43,909.90 L199.76,910.49 L199.79,910.53 L200.12,910.75 L200.20,910.76 L200.48,910.66 L200.50,910.64 L200.84,910.26 L200.86,910.22 L201.19,909.57 L201.22,909.50 L201.55,908.62 L201.58,908.53 L201.91,907.42 L201.94,907.32 L202.27,906.01 L202.30,905.89 L202.63,904.38 L202.66,904.24 L202.99,902.55 L203.02,902.40 L203.35,900.54 L203.37,900.38 L203.71,898.35 L203.73,898.18 L204.06,896.00 L204.09,895.82 L204.42,893.50 L204.45,893.31 L204.78,890.87 L204.81,890.66 L205.14,888.11 L205.17,887.89 L205.50,885.24 L205.53,885.02 L205.86,882.28 L205.89,882.05 L206.22,879.23 L206.24,879.00 L206.58,876.12 L206.60,875.88 L206.93,872.97 L206.96,872.72 L207.29,869.77 L207.32,869.53 L207.65,866.56 L207.68,866.31 L208.01,863.35 L208.04,863.10 L208.37,860.14 L208.40,859.90 L208.73,856.97 L208.76,856.72 L209.09,853.83 L209.12,853.59 L209.45,850.73 L209.47,850.50 L209.81,847.70 L209.83,847.47 L210.16,844.74 L210.19,844.51 L210.52,841.85 L210.55,841.63 L210.88,839.05 L211.13,837.16 L211.24,839.87 L211.27,840.51 L211.60,847.15 L211.63,847.62 L211.96,852.52 L211.99,852.86 L212.32,856.40 L212.34,856.64 L212.68,859.09 L212.70,859.25 L213.03,860.83 L213.06,860.93 L213.39,861.78 L213.42,861.82 L213.75,862.08 L213.89,862.05 L214.11,867.12 L214.14,867.69 L214.47,873.73 L214.50,874.17 L214.83,878.73 L214.86,879.06 L215.19,882.46 L215.21,882.70 L215.55,885.17 L215.57,885.34 L215.90,887.04 L215.93,887.16 L216.26,888.23 L216.29,888.30 L216.62,888.84 L216.65,888.87 L216.98,892.56 L217.01,892.83 L217.34,895.62 L217.37,895.82 L217.70,897.87 L217.73,898.01 L218.06,899.45 L218.09,899.55 L218.42,900.49 L218.44,900.55 L218.78,901.06 L218.80,901.09 L219.13,901.24 L219.16,901.24 L219.49,901.07 L219.52,901.05 L219.85,900.61 L219.88,900.56 L220.21,899.88 L220.24,899.81 L220.57,898.91 L220.60,898.83 L220.93,897.74 L220.96,897.64 L221.29,896.38 L221.31,896.27 L221.65,894.85 L221.67,894.73 L222.00,893.17 L222.03,893.03 L222.36,891.35 L222.39,891.20 L222.72,889.40 L222.75,889.25 L223.08,887.35 L223.11,887.19 L223.44,885.19 L223.47,885.03 L223.80,882.96 L223.83,882.78 L224.16,880.64 L224.18,880.46 L224.52,878.27 L224.54,878.08 L224.87,875.85 L224.90,875.66 L225.23,873.39 L225.26,873.20 L225.59,870.90 L225.62,870.71 L225.95,868.40 L225.98,868.21 L226.31,865.89 L226.34,865.70 L226.67,863.39 L226.70,863.20 L227.03,860.91 L227.06,860.72 L227.39,858.45 L227.41,858.26 L227.75,856.02 L227.77,855.84 L228.10,853.64 L228.13,853.46 L228.46,851.30 L228.49,851.12 L228.82,849.02 L228.85,848.84 L229.18,846.79 L229.21,846.62 L229.54,844.63 L229.57,844.46 L229.90,842.53 L229.93,842.37 L230.26,840.50 L230.45,839.44 L230.62,842.13 L230.64,842.54 L230.97,846.83 L231.00,847.14 L231.33,850.27 L231.36,850.49 L231.69,852.71 L231.72,852.86 L232.05,854.34 L232.08,854.44 L232.41,855.33 L232.44,855.38 L232.77,855.79 L232.80,855.81 L232.96,855.86 L233.21,855.77 L233.49,859.86 L233.51,860.22 L233.84,863.92 L233.87,864.19 L234.20,866.87 L234.23,867.05 L234.56,868.91 L234.59,869.04 L234.92,870.24 L234.95,870.32 L235.28,870.99 L235.31,871.02 L235.64,871.25 L235.97,871.13 L236.00,871.31 L236.03,871.49 L236.36,873.20 L236.38,873.32 L236.72,874.38 L236.74,874.45 L237.07,874.99 L237.10,875.02 L237.38,875.13 L237.46,875.12 L237.79,874.87 L237.82,874.84 L238.15,874.29 L238.18,874.24 L238.51,873.44 L238.54,873.37 L238.87,872.37 L238.90,872.28 L239.23,871.11 L239.25,871.00 L239.59,869.69 L239.61,869.57 L239.94,868.13 L239.97,868.01 L240.30,866.47 L240.33,866.34 L240.66,864.72 L240.69,864.58 L241.02,862.90 L241.05,862.75 L241.38,861.01 L241.41,860.87 L241.74,859.09 L241.77,858.94 L242.10,857.13 L242.12,856.98 L242.46,855.15 L242.48,855.00 L242.81,853.16 L242.84,853.00 L243.17,851.17 L243.20,851.01 L243.53,849.18 L243.56,849.03 L243.89,847.21 L243.92,847.06 L244.25,845.26 L244.28,845.11 L244.61,843.33 L244.64,843.19 L244.97,841.44 L245.00,841.30 L245.33,839.59 L245.35,839.45 L245.69,837.78 L245.71,837.64 L246.04,836.01 L246.07,835.88 L246.40,834.29 L246.43,834.16 L246.76,832.63 L246.79,832.50 L247.12,831.01 L247.15,830.89 L247.48,829.46 L247.51,829.34 L247.84,827.96 L247.87,827.84 L248.20,826.51 L248.22,826.41 L248.56,825.13 L248.58,825.03 L248.91,823.81 L248.94,823.71 L249.27,822.54 L249.30,822.45 L249.63,821.33 L249.77,820.89 L249.99,821.58 L250.02,821.65 L250.35,822.30 L250.38,822.33 L250.71,822.61 L250.87,822.64 L251.07,822.60 L251.09,822.59 L251.43,822.35 L251.45,822.32 L251.78,821.89 L251.81,821.85 L252.14,821.29 L252.17,821.23 L252.50,820.56 L252.53,820.50 L252.86,821.05 L252.89,821.07 L253.19,821.22 L253.25,821.21 L253.58,821.04 L253.61,821.02 L253.94,820.60 L253.97,820.56 L254.30,819.95 L254.32,819.89 L254.66,819.14 L254.68,819.08 L255.01,818.21 L255.04,818.14 L255.37,817.32 L255.40,817.28 L255.73,816.69 L255.76,816.63 L256.09,815.88 L256.12,815.82 L256.45,814.95 L256.48,814.88 L256.81,813.93 L256.84,813.85 L257.17,812.84 L257.19,812.75 L257.53,811.70 L257.55,811.61 L257.88,810.53 L258.05,809.99" fill="none" stroke="#a8203f" stroke-width="1.20" stroke-linejoin="round"/>
<path d="M401.05,772.50 L401.05,954.05 L677.20,954.05" fill="none" stroke="#4a4a4a" stroke-width="1.00"/>
<line x1="401.05" y1="954.05" x2="401.05" y2="951.45" stroke="#4a4a4a" stroke-width="1.00"/>
<line x1="456.28" y1="954.05" x2="456.28" y2="951.45" stroke="#4a4a4a" stroke-width="1.00"/>
<line x1="511.51" y1="954.05" x2="511.51" y2="951.45" stroke="#4a4a4a" stroke-width="1.00"/>
<line x1="566.74" y1="954.05" x2="566.74" y2="951.45" stroke="#4a4a4a" stroke-width="1.00"/>
<line x1="621.97" y1="954.05" x2="621.97" y2="951.45" stroke="#4a4a4a" stroke-width="1.00"/>
<line x1="677.20" y1="954.05" x2="677.20" y2="951.45" stroke="#4a4a4a" stroke-width="1.00"/>
<line x1="401.05" y1="954.05" x2="403.65" y2="954.05" stroke="#4a4a4a" stroke-width="1.00"/>
<line x1="401.05" y1="931.36" x2="403.65" y2="931.36" stroke="#4a4a4a" stroke-width="1.00"/>
<line x1="401.05" y1="908.66" x2="403.65" y2="908.66" stroke="#4a4a4a" stroke-width="1.00"/>
<line x1="401.05" y1="885.97" x2="403.65" y2="885.97" stroke="#4a4a4a" stroke-width="1.00"/>
<line x1="401.05" y1="863.27" x2="403.65" y2="863.27" stroke="#4a4a4a" stroke-width="1.00"/>
<line x1="401.05" y1="840.58" x2="403.65" y2="840.58" stroke="#4a4a4a" stroke-width="1.00"/>
<line x1="401.05" y1="817.89" x2="403.65" y2="817.89" stroke="#4a4a4a" stroke-width="1.00"/>
<line x1="401.05" y1="795.19" x2="403.65" y2="795.19" stroke="#4a4a4a" stroke-width="1.00"/>
<line x1="401.05" y1="772.50" x2="403.65" y2="772.50" stroke="#4a4a4a" stroke-width="1.00"/>
<rect x="401.05" y="772.50" width="7.73" height="182.15" fill="#d2d4d4" fill-opacity="0.50"/>
<rect x="420.10" y="772.50" width="8.01" height="182.15" fill="#d2d4d4" fill-opacity="0.50"/>
<rect x="439.71" y="772.50" width="8.01" height="182.15" fill="#d2d4d4" fill-opacity="0.50"/>
<rect x="458.77" y="772.50" width="8.28" height="182.15" fill="#d2d4d4" fill-opacity="0.50"/>
<rect x="478.10" y="772.50" width="8.01" height="182.15" fill="#d2d4d4" fill-opacity="0.50"/>
<rect x="497.70" y="772.50" width="8.01" height="182.15" fill="#d2d4d4" fill-opacity="0.50"/>
<rect x="517.17" y="772.50" width="7.73" height="182.15" fill="#d2d4d4" fill-opacity="0.50"/>
<rect x="536.36" y="772.50" width="8.15" height="182.15" fill="#d2d4d4" fill-opacity="0.50"/>
<rect x="555.69" y="772.50" width="8.42" height="182.15" fill="#d2d4d4" fill-opacity="0.50"/>
<rect x="575.16" y="772.50" width="8.15" height="182.15" fill="#d2d4d4" fill-opacity="0.50"/>
<rect x="594.63" y="772.50" width="7.87" height="182.15" fill="#d2d4d4" fill-opacity="0.50"/>
<rect x="613.96" y="772.50" width="5.11" height="182.15" fill="#d2d4d4" fill-opacity="0.50"/>
<text stroke="#333333" stroke-width="0.10" x="401.05" y="966.90" text-anchor="middle" font-size="8.60" fill="#333333">0</text>
<text stroke="#333333" stroke-width="0.10" x="456.28" y="966.90" text-anchor="middle" font-size="8.60" fill="#333333">20</text>
<text stroke="#333333" stroke-width="0.10" x="511.51" y="966.90" text-anchor="middle" font-size="8.60" fill="#333333">40</text>
<text stroke="#333333" stroke-width="0.10" x="566.74" y="966.90" text-anchor="middle" font-size="8.60" fill="#333333">60</text>
<text stroke="#333333" stroke-width="0.10" x="621.97" y="966.90" text-anchor="middle" font-size="8.60" fill="#333333">80</text>
<text stroke="#333333" stroke-width="0.10" x="677.20" y="966.90" text-anchor="middle" font-size="8.60" fill="#333333">100</text>
<text stroke="#333333" stroke-width="0.10" x="397.75" y="957.50" text-anchor="end" font-size="8.60" fill="#333333">0</text>
<text stroke="#333333" stroke-width="0.10" x="397.75" y="934.81" text-anchor="end" font-size="8.60" fill="#333333">0.5</text>
<text stroke="#333333" stroke-width="0.10" x="397.75" y="912.11" text-anchor="end" font-size="8.60" fill="#333333">1</text>
<text stroke="#333333" stroke-width="0.10" x="397.75" y="889.42" text-anchor="end" font-size="8.60" fill="#333333">1.5</text>
<text stroke="#333333" stroke-width="0.10" x="397.75" y="866.73" text-anchor="end" font-size="8.60" fill="#333333">2</text>
<text stroke="#333333" stroke-width="0.10" x="397.75" y="844.03" text-anchor="end" font-size="8.60" fill="#333333">2.5</text>
<text stroke="#333333" stroke-width="0.10" x="397.75" y="821.34" text-anchor="end" font-size="8.60" fill="#333333">3</text>
<text stroke="#333333" stroke-width="0.10" x="397.75" y="798.64" text-anchor="end" font-size="8.60" fill="#333333">3.5</text>
<text stroke="#333333" stroke-width="0.10" x="397.75" y="775.95" text-anchor="end" font-size="8.60" fill="#333333">4</text>
<text stroke="#333333" stroke-width="0.10" x="539.12" y="977.95" text-anchor="middle" font-size="8.7" fill="#333333">Time (days)</text>
<text stroke="#333333" stroke-width="0.10" transform="translate(381.60,863.27) rotate(-90)" text-anchor="middle" font-size="8.8" fill="#333333">Drug Concentration and Toxicity</text>
<text stroke="#111" stroke-width="0.10" x="539.12" y="767.80" text-anchor="middle" font-size="9.62" font-weight="bold" fill="#111">Adaptive + Toxic Feedback</text>
<line x1="401.05" y1="863.57" x2="646.90" y2="863.57" stroke="#555555" stroke-width="1.45" stroke-dasharray="3.5 3.02"/>
<text stroke="#222" stroke-width="0.10" x="674.90" y="866.57" text-anchor="end" font-size="8.70" fill="#222">Tox Off</text>
<line x1="401.05" y1="908.96" x2="646.74" y2="908.96" stroke="#555555" stroke-width="1.45" stroke-dasharray="3.5 3.02"/>
<text stroke="#222" stroke-width="0.10" x="674.90" y="911.96" text-anchor="end" font-size="8.70" fill="#222">Tox On</text>
<path d="M401.05,914.11 L401.08,914.36 L401.38,917.04 L401.41,917.27 L401.74,919.97 L401.77,920.19 L402.10,922.67 L402.13,922.87 L402.46,925.16 L402.49,925.34 L402.82,927.45 L402.84,927.62 L403.18,929.56 L403.20,929.71 L403.54,931.50 L403.78,932.75 L403.81,892.94 L403.92,894.48 L404.25,898.85 L404.28,899.20 L404.61,903.22 L404.64,903.54 L404.97,907.25 L405.00,907.54 L405.33,910.96 L405.36,911.23 L405.69,914.37 L405.72,914.62 L406.05,917.51 L406.08,917.75 L406.41,920.41 L406.55,921.46 L406.57,881.73 L406.79,885.31 L407.13,890.35 L407.15,890.76 L407.48,895.40 L407.51,895.77 L407.84,900.05 L407.87,900.39 L408.20,904.33 L408.23,904.64 L408.56,908.27 L408.59,908.55 L408.92,911.89 L408.95,912.16 L409.28,915.23 L409.31,915.48 L409.64,918.31 L409.67,918.54 L410.00,921.14 L410.02,921.35 L410.36,923.75 L410.38,923.94 L410.72,926.15 L410.74,926.33 L411.07,928.36 L411.10,928.52 L411.43,930.40 L411.46,930.55 L411.79,932.27 L411.82,932.41 L412.15,934.00 L412.18,934.12 L412.51,935.58 L412.54,935.70 L412.87,937.05 L412.90,937.16 L413.23,938.39 L413.26,938.49 L413.59,939.64 L413.61,939.73 L413.95,940.78 L413.97,940.86 L414.31,941.83 L414.33,941.91 L414.66,942.80 L414.69,942.87 L415.02,943.69 L415.05,943.75 L415.38,944.51 L415.41,944.57 L415.74,945.27 L415.77,945.32 L416.10,945.96 L416.13,946.01 L416.46,946.60 L416.49,946.65 L416.82,947.19 L416.85,947.24 L417.18,947.74 L417.20,947.78 L417.54,948.24 L417.56,948.27 L417.90,948.70 L417.92,948.73 L418.25,949.12 L418.28,949.15 L418.61,949.51 L418.64,949.54 L418.97,949.87 L419.00,949.90 L419.33,950.20 L419.36,950.23 L419.69,950.51 L419.72,950.53 L420.05,950.79 L420.35,951.01 L420.38,911.09 L420.44,911.63 L420.77,914.74 L420.79,914.99 L421.13,917.86 L421.15,918.08 L421.49,920.72 L421.51,920.93 L421.84,923.36 L421.87,923.56 L422.20,925.80 L422.23,925.97 L422.56,928.03 L422.59,928.20 L422.92,930.10 L423.11,931.14 L423.14,891.34 L423.31,893.69 L423.64,898.11 L423.67,898.47 L424.00,902.55 L424.03,902.87 L424.36,906.63 L424.38,906.93 L424.72,910.38 L424.74,910.66 L425.08,913.84 L425.10,914.10 L425.43,917.03 L425.46,917.26 L425.79,919.96 L425.88,920.61 L425.90,880.88 L426.18,885.38 L426.51,890.42 L426.54,890.82 L426.87,895.46 L426.90,895.83 L427.23,900.10 L427.26,900.44 L427.59,904.38 L427.62,904.69 L427.95,908.31 L427.97,908.60 L428.31,911.94 L428.33,912.20 L428.67,915.27 L428.69,915.52 L429.02,918.35 L429.05,918.57 L429.38,921.17 L429.41,921.38 L429.74,923.78 L429.77,923.97 L430.10,926.18 L430.13,926.35 L430.46,928.39 L430.49,928.55 L430.82,930.42 L430.85,930.57 L431.18,932.29 L431.21,932.43 L431.54,934.02 L431.56,934.14 L431.90,935.60 L431.92,935.72 L432.25,937.07 L432.28,937.17 L432.61,938.41 L432.64,938.51 L432.97,939.65 L433.00,939.74 L433.33,940.79 L433.36,940.87 L433.69,941.84 L433.72,941.92 L434.05,942.81 L434.08,942.88 L434.41,943.70 L434.44,943.77 L434.77,944.52 L434.80,944.58 L435.13,945.27 L435.15,945.33 L435.49,945.97 L435.51,946.02 L435.84,946.61 L435.87,946.66 L436.20,947.20 L436.23,947.24 L436.56,947.74 L436.59,947.78 L436.92,948.24 L436.95,948.28 L437.28,948.70 L437.31,948.74 L437.64,949.13 L437.67,949.16 L438.00,949.52 L438.03,949.55 L438.36,949.88 L438.39,949.90 L438.72,950.21 L438.74,950.23 L439.08,950.51 L439.10,950.53 L439.43,950.79 L439.68,950.97 L439.71,911.05 L439.82,912.13 L440.15,915.20 L440.18,915.45 L440.51,918.28 L440.54,918.51 L440.87,921.12 L440.90,921.33 L441.23,923.73 L441.26,923.92 L441.59,926.13 L441.62,926.31 L441.95,928.34 L441.98,928.50 L442.31,930.38 L442.44,931.12 L442.47,891.32 L442.69,894.43 L443.02,898.80 L443.05,899.15 L443.38,903.18 L443.41,903.50 L443.74,907.21 L443.77,907.51 L444.10,910.92 L444.13,911.20 L444.46,914.34 L444.49,914.59 L444.82,917.49 L444.85,917.72 L445.18,920.38 L445.21,920.60 L445.23,880.87 L445.57,886.24 L445.90,891.21 L445.92,891.61 L446.26,896.19 L446.28,896.56 L446.61,900.78 L446.64,901.11 L446.97,905.00 L447.00,905.31 L447.33,908.88 L447.36,909.17 L447.69,912.46 L447.72,912.73 L448.05,915.76 L448.08,916.00 L448.41,918.79 L448.44,919.01 L448.77,921.59 L448.80,921.79 L449.13,924.16 L449.16,924.35 L449.49,926.53 L449.51,926.70 L449.85,928.71 L449.87,928.87 L450.20,930.71 L450.23,930.86 L450.56,932.56 L450.59,932.70 L450.92,934.27 L450.95,934.39 L451.28,935.83 L451.31,935.95 L451.64,937.28 L451.67,937.38 L452.00,938.61 L452.03,938.70 L452.36,939.83 L452.39,939.92 L452.72,940.96 L452.75,941.04 L453.08,941.99 L453.10,942.07 L453.44,942.95 L453.46,943.02 L453.79,943.83 L453.82,943.89 L454.15,944.64 L454.18,944.70 L454.51,945.38 L454.54,945.44 L454.87,946.07 L454.90,946.12 L455.23,946.70 L455.26,946.75 L455.59,947.29 L455.62,947.33 L455.95,947.82 L455.98,947.86 L456.31,948.31 L456.34,948.35 L456.67,948.77 L456.69,948.80 L457.03,949.19 L457.05,949.22 L457.38,949.57 L457.41,949.60 L457.74,949.93 L457.77,949.95 L458.10,950.25 L458.13,950.28 L458.46,950.56 L458.49,950.58 L458.82,950.83 L459.01,950.97 L459.04,911.05 L459.21,912.66 L459.54,915.69 L459.57,915.94 L459.90,918.73 L459.93,918.96 L460.26,921.53 L460.28,921.74 L460.62,924.11 L460.64,924.30 L460.97,926.48 L461.00,926.66 L461.33,928.67 L461.36,928.83 L461.69,930.68 L461.78,931.12 L461.80,891.32 L462.08,895.18 L462.41,899.50 L462.44,899.85 L462.77,903.82 L462.80,904.14 L463.13,907.80 L463.16,908.10 L463.49,911.47 L463.52,911.74 L463.85,914.84 L463.87,915.09 L464.21,917.95 L464.54,920.60 L464.56,880.87 L464.59,881.33 L464.92,886.67 L464.95,887.09 L465.28,892.00 L465.31,892.40 L465.64,896.92 L465.67,897.28 L466.00,901.45 L466.03,901.78 L466.36,905.62 L466.39,905.92 L466.72,909.45 L466.75,909.74 L467.08,912.99 L467.11,913.25 L467.44,916.24 L467.46,916.48 L467.80,919.24 L467.82,919.46 L468.15,921.99 L468.18,922.20 L468.51,924.53 L468.54,924.72 L468.87,926.87 L468.90,927.05 L469.23,929.03 L469.26,929.19 L469.59,931.01 L469.62,931.16 L469.95,932.83 L469.98,932.97 L470.31,934.52 L470.34,934.64 L470.67,936.06 L470.70,936.18 L471.03,937.49 L471.05,937.59 L471.39,938.80 L471.41,938.90 L471.74,940.01 L471.77,940.10 L472.10,941.12 L472.13,941.20 L472.46,942.15 L472.49,942.22 L472.82,943.09 L472.85,943.16 L473.18,943.96 L473.21,944.02 L473.54,944.76 L473.57,944.82 L473.90,945.49 L473.93,945.55 L474.26,946.17 L474.28,946.22 L474.62,946.80 L474.64,946.84 L474.98,947.37 L475.00,947.41 L475.33,947.90 L475.36,947.94 L475.69,948.39 L475.72,948.42 L476.05,948.84 L476.08,948.87 L476.41,949.25 L476.44,949.28 L476.77,949.63 L476.80,949.66 L477.13,949.98 L477.16,950.01 L477.49,950.30 L477.52,950.33 L477.85,950.60 L477.87,950.62 L478.21,950.87 L478.34,950.97 L478.37,911.05 L478.59,913.18 L478.92,916.18 L478.95,916.42 L479.28,919.18 L479.31,919.40 L479.64,921.94 L479.67,922.15 L480.00,924.49 L480.03,924.67 L480.36,926.83 L480.39,927.00 L480.72,928.99 L480.75,929.14 L481.08,930.97 L481.11,931.12 L481.13,891.32 L481.46,895.92 L481.80,900.19 L481.82,900.53 L482.16,904.46 L482.18,904.77 L482.51,908.39 L482.54,908.68 L482.87,912.00 L482.90,912.27 L483.23,915.34 L483.26,915.58 L483.59,918.40 L483.87,920.60 L483.90,880.87 L483.98,882.25 L484.31,887.52 L484.34,887.94 L484.67,892.79 L484.70,893.18 L485.03,897.64 L485.05,898.00 L485.39,902.11 L485.41,902.44 L485.75,906.23 L485.77,906.53 L486.10,910.02 L486.13,910.29 L486.46,913.51 L486.49,913.76 L486.82,916.72 L486.85,916.95 L487.18,919.68 L487.21,919.89 L487.54,922.40 L487.57,922.60 L487.90,924.91 L487.93,925.09 L488.26,927.22 L488.29,927.39 L488.62,929.34 L488.64,929.50 L488.98,931.30 L489.00,931.44 L489.34,933.10 L489.36,933.24 L489.69,934.76 L489.72,934.88 L490.05,936.29 L490.08,936.40 L490.41,937.70 L490.44,937.80 L490.77,938.99 L490.80,939.09 L491.13,940.19 L491.16,940.27 L491.49,941.28 L491.52,941.37 L491.85,942.30 L491.88,942.37 L492.21,943.23 L492.23,943.30 L492.57,944.09 L492.59,944.15 L492.93,944.87 L492.95,944.93 L493.28,945.60 L493.31,945.66 L493.64,946.27 L493.67,946.32 L494.00,946.89 L494.03,946.93 L494.36,947.46 L494.39,947.50 L494.72,947.98 L494.75,948.02 L495.08,948.46 L495.11,948.49 L495.44,948.90 L495.47,948.93 L495.80,949.31 L495.82,949.34 L496.16,949.69 L496.18,949.71 L496.52,950.03 L496.54,950.06 L496.87,950.35 L496.90,950.37 L497.23,950.64 L497.26,950.66 L497.59,950.91 L497.67,950.97 L497.70,911.05 L497.98,913.70 L498.31,916.66 L498.34,916.89 L498.67,919.62 L498.70,919.84 L499.03,922.35 L499.06,922.55 L499.39,924.86 L499.41,925.04 L499.75,927.17 L499.77,927.34 L500.11,929.30 L500.44,931.12 L500.46,891.32 L500.49,891.72 L500.82,896.29 L500.85,896.66 L501.18,900.87 L501.21,901.21 L501.54,905.08 L501.57,905.39 L501.90,908.96 L501.93,909.25 L502.26,912.53 L502.29,912.80 L502.62,915.82 L502.65,916.07 L502.98,918.85 L503.20,920.60 L503.23,880.87 L503.36,883.15 L503.69,888.36 L503.72,888.77 L504.05,893.56 L504.08,893.94 L504.41,898.35 L504.44,898.71 L504.77,902.77 L504.80,903.09 L505.13,906.83 L505.16,907.13 L505.49,910.57 L505.52,910.85 L505.85,914.02 L505.88,914.27 L506.21,917.19 L506.24,917.42 L506.57,920.11 L506.59,920.32 L506.93,922.80 L506.95,923.00 L507.28,925.27 L507.31,925.46 L507.64,927.55 L507.67,927.72 L508.00,929.65 L508.03,929.81 L508.36,931.59 L508.39,931.73 L508.72,933.37 L508.75,933.50 L509.08,935.01 L509.11,935.13 L509.44,936.51 L509.47,936.63 L509.80,937.90 L509.83,938.01 L510.16,939.18 L510.18,939.28 L510.52,940.36 L510.54,940.45 L510.87,941.45 L510.90,941.53 L511.23,942.44 L511.26,942.52 L511.59,943.36 L511.62,943.43 L511.95,944.21 L511.98,944.27 L512.31,944.99 L512.34,945.05 L512.67,945.71 L512.70,945.76 L513.03,946.37 L513.06,946.42 L513.39,946.98 L513.42,947.02 L513.75,947.54 L513.77,947.58 L514.11,948.05 L514.13,948.09 L514.46,948.53 L514.49,948.56 L514.82,948.97 L514.85,949.00 L515.18,949.37 L515.21,949.40 L515.54,949.74 L515.57,949.77 L515.90,950.08 L515.93,950.11 L516.26,950.40 L516.29,950.42 L516.62,950.69 L516.65,950.71 L516.98,950.95 L517.01,950.97 L517.03,911.05 L517.36,914.21 L517.70,917.13 L517.72,917.36 L518.05,920.05 L518.08,920.27 L518.41,922.75 L518.44,922.95 L518.77,925.23 L518.80,925.41 L519.13,927.51 L519.16,927.68 L519.49,929.61 L519.77,931.12 L519.79,891.32 L519.88,892.51 L520.21,897.02 L520.24,897.38 L520.57,901.54 L520.60,901.87 L520.93,905.70 L520.95,906.01 L521.29,909.53 L521.31,909.81 L521.64,913.06 L521.67,913.32 L522.00,916.31 L522.03,916.55 L522.36,919.30 L522.53,920.60 L522.56,880.87 L522.75,884.05 L523.08,889.18 L523.11,889.60 L523.44,894.32 L523.47,894.70 L523.80,899.06 L523.83,899.40 L524.16,903.41 L524.19,903.73 L524.52,907.43 L524.54,907.72 L524.88,911.12 L524.90,911.39 L525.23,914.52 L525.26,914.77 L525.59,917.65 L525.62,917.88 L525.95,920.54 L525.98,920.75 L526.31,923.19 L526.34,923.39 L526.67,925.64 L526.70,925.82 L527.03,927.89 L527.06,928.05 L527.39,929.96 L527.42,930.11 L527.75,931.87 L527.78,932.01 L528.11,933.63 L528.13,933.76 L528.47,935.25 L528.49,935.37 L528.82,936.74 L528.85,936.85 L529.18,938.11 L529.21,938.21 L529.54,939.37 L529.57,939.46 L529.90,940.53 L529.93,940.62 L530.26,941.61 L530.29,941.68 L530.62,942.59 L530.65,942.66 L530.98,943.50 L531.01,943.57 L531.34,944.34 L531.37,944.40 L531.70,945.10 L531.72,945.16 L532.06,945.81 L532.08,945.87 L532.41,946.47 L532.44,946.51 L532.77,947.07 L532.80,947.11 L533.13,947.62 L533.16,947.66 L533.49,948.13 L533.52,948.17 L533.85,948.60 L533.88,948.63 L534.21,949.03 L534.24,949.06 L534.57,949.43 L534.60,949.46 L534.93,949.79 L534.96,949.82 L535.29,950.13 L535.31,950.16 L535.65,950.44 L535.67,950.47 L536.00,950.73 L536.34,950.97 L536.36,911.05 L536.39,911.32 L536.72,914.46 L536.75,914.71 L537.08,917.59 L537.11,917.83 L537.44,920.48 L537.47,920.70 L537.80,923.14 L537.83,923.34 L538.16,925.59 L538.19,925.77 L538.52,927.85 L538.55,928.01 L538.88,929.92 L539.10,931.12 L539.12,891.32 L539.26,893.28 L539.59,897.74 L539.62,898.10 L539.95,902.20 L539.98,902.53 L540.31,906.31 L540.34,906.61 L540.67,910.09 L540.70,910.37 L541.03,913.58 L541.06,913.83 L541.39,916.78 L541.42,917.02 L541.75,919.74 L541.86,920.60 L541.89,880.87 L542.14,884.93 L542.47,890.00 L542.49,890.41 L542.83,895.08 L542.85,895.45 L543.18,899.75 L543.21,900.09 L543.54,904.05 L543.57,904.37 L543.90,908.01 L543.93,908.31 L544.26,911.66 L544.29,911.93 L544.62,915.02 L544.65,915.27 L544.98,918.11 L545.01,918.34 L545.34,920.96 L545.37,921.17 L545.70,923.58 L545.72,923.78 L546.06,926.00 L546.08,926.17 L546.42,928.22 L546.44,928.38 L546.77,930.27 L546.80,930.42 L547.13,932.15 L547.16,932.29 L547.49,933.89 L547.52,934.01 L547.85,935.48 L547.88,935.60 L548.21,936.95 L548.24,937.06 L548.57,938.31 L548.60,938.41 L548.93,939.56 L548.96,939.65 L549.29,940.70 L549.31,940.79 L549.65,941.76 L549.67,941.84 L550.01,942.74 L550.03,942.81 L550.36,943.63 L550.39,943.70 L550.72,944.46 L550.75,944.52 L551.08,945.22 L551.11,945.27 L551.44,945.92 L551.47,945.97 L551.80,946.56 L551.83,946.61 L552.16,947.16 L552.19,947.20 L552.52,947.70 L552.55,947.74 L552.88,948.20 L552.90,948.24 L553.24,948.67 L553.26,948.70 L553.60,949.09 L553.62,949.13 L553.95,949.49 L553.98,949.52 L554.31,949.85 L554.34,949.88 L554.67,950.18 L554.70,950.21 L555.03,950.49 L555.06,950.51 L555.39,950.77 L555.67,950.97 L555.69,911.05 L555.78,911.86 L556.11,914.96 L556.14,915.20 L556.47,918.05 L556.49,918.28 L556.83,920.91 L556.85,921.12 L557.19,923.53 L557.21,923.73 L557.54,925.95 L557.57,926.13 L557.90,928.18 L557.93,928.34 L558.26,930.23 L558.43,931.12 L558.46,891.32 L558.65,894.05 L558.98,898.45 L559.01,898.80 L559.34,902.86 L559.37,903.18 L559.70,906.91 L559.73,907.21 L560.06,910.65 L560.08,910.92 L560.42,914.09 L560.44,914.34 L560.78,917.25 L560.80,917.49 L561.13,920.17 L561.19,920.60 L561.22,880.87 L561.52,885.80 L561.85,890.81 L561.88,891.21 L562.21,895.82 L562.24,896.19 L562.57,900.44 L562.60,900.78 L562.93,904.68 L562.96,905.00 L563.29,908.60 L563.32,908.88 L563.65,912.20 L563.67,912.46 L564.01,915.51 L564.03,915.76 L564.37,918.57 L564.39,918.79 L564.72,921.38 L564.75,921.59 L565.08,923.97 L565.11,924.16 L565.44,926.35 L565.47,926.53 L565.80,928.55 L565.83,928.71 L566.16,930.57 L566.19,930.71 L566.52,932.43 L566.55,932.56 L566.88,934.14 L566.91,934.27 L567.24,935.72 L567.26,935.83 L567.60,937.17 L567.62,937.28 L567.96,938.51 L567.98,938.61 L568.31,939.74 L568.34,939.83 L568.67,940.87 L568.70,940.96 L569.03,941.92 L569.06,941.99 L569.39,942.88 L569.42,942.95 L569.75,943.76 L569.78,943.83 L570.11,944.58 L570.14,944.64 L570.47,945.33 L570.50,945.38 L570.83,946.02 L570.85,946.07 L571.19,946.66 L571.21,946.70 L571.55,947.24 L571.57,947.29 L571.90,947.78 L571.93,947.82 L572.26,948.28 L572.29,948.31 L572.62,948.74 L572.65,948.77 L572.98,949.16 L573.01,949.19 L573.34,949.54 L573.37,949.57 L573.70,949.90 L573.73,949.93 L574.06,950.23 L574.09,950.25 L574.42,950.53 L574.44,950.56 L574.78,950.81 L575.00,950.97 L575.02,911.05 L575.16,912.39 L575.49,915.45 L575.52,915.69 L575.85,918.51 L575.88,918.73 L576.21,921.32 L576.24,921.53 L576.57,923.92 L576.60,924.11 L576.93,926.31 L576.96,926.48 L577.29,928.50 L577.32,928.67 L577.65,930.53 L577.76,931.12 L577.79,891.32 L578.03,894.81 L578.37,899.15 L578.39,899.50 L578.72,903.50 L578.75,903.82 L579.08,907.51 L579.11,907.80 L579.44,911.20 L579.47,911.47 L579.80,914.59 L579.83,914.84 L580.16,917.72 L580.19,917.95 L580.52,920.60 L580.55,880.87 L580.88,886.24 L580.91,886.67 L581.24,891.61 L581.27,892.00 L581.60,896.56 L581.62,896.92 L581.96,901.11 L581.98,901.45 L582.31,905.31 L582.34,905.62 L582.67,909.17 L582.70,909.45 L583.03,912.73 L583.06,912.99 L583.39,916.00 L583.42,916.24 L583.75,919.01 L583.78,919.24 L584.11,921.79 L584.14,921.99 L584.47,924.35 L584.50,924.53 L584.83,926.70 L584.86,926.87 L585.19,928.87 L585.21,929.03 L585.55,930.86 L585.57,931.01 L585.90,932.70 L585.93,932.83 L586.26,934.39 L586.29,934.52 L586.62,935.95 L586.65,936.06 L586.98,937.38 L587.01,937.49 L587.34,938.70 L587.37,938.80 L587.70,939.92 L587.73,940.01 L588.06,941.04 L588.09,941.12 L588.42,942.07 L588.45,942.15 L588.78,943.02 L588.80,943.09 L589.14,943.89 L589.16,943.96 L589.49,944.70 L589.52,944.76 L589.85,945.44 L589.88,945.49 L590.21,946.12 L590.24,946.17 L590.57,946.75 L590.60,946.80 L590.93,947.33 L590.96,947.37 L591.29,947.86 L591.32,947.90 L591.65,948.35 L591.68,948.39 L592.01,948.80 L592.04,948.84 L592.37,949.22 L592.39,949.25 L592.73,949.60 L592.75,949.63 L593.08,949.95 L593.11,949.98 L593.44,950.28 L593.47,950.30 L593.80,950.58 L593.83,950.60 L594.16,950.85 L594.33,950.97 L594.36,911.05 L594.55,912.92 L594.88,915.94 L594.91,916.18 L595.24,918.96 L595.27,919.18 L595.60,921.74 L595.63,921.94 L595.96,924.30 L595.98,924.49 L596.32,926.66 L596.34,926.83 L596.67,928.83 L596.70,928.99 L597.03,930.82 L597.09,931.12 L597.12,891.32 L597.42,895.55 L597.75,899.85 L597.78,900.19 L598.11,904.14 L598.14,904.46 L598.47,908.10 L598.50,908.39 L598.83,911.74 L598.86,912.00 L599.19,915.09 L599.22,915.34 L599.55,918.18 L599.85,920.60 L599.88,880.87 L599.93,881.79 L600.26,887.09 L600.29,887.52 L600.62,892.40 L600.65,892.79 L600.98,897.28 L601.01,897.64 L601.34,901.78 L601.37,902.11 L601.70,905.92 L601.73,906.23 L602.06,909.74 L602.09,910.02 L602.42,913.25 L602.45,913.51 L602.78,916.48 L602.81,916.72 L603.14,919.46 L603.16,919.68 L603.50,922.20 L603.52,922.40 L603.85,924.72 L603.88,924.91 L604.21,927.05 L604.24,927.22 L604.57,929.19 L604.60,929.34 L604.93,931.16 L604.96,931.30 L605.29,932.97 L605.32,933.10 L605.65,934.64 L605.68,934.76 L606.01,936.18 L606.04,936.29 L606.37,937.59 L606.40,937.70 L606.73,938.90 L606.75,938.99 L607.09,940.10 L607.11,940.19 L607.44,941.20 L607.47,941.28 L607.80,942.22 L607.83,942.30 L608.16,943.16 L608.19,943.23 L608.52,944.02 L608.55,944.09 L608.88,944.82 L608.91,944.87 L609.24,945.55 L609.27,945.60 L609.60,946.22 L609.63,946.27 L609.96,946.84 L609.99,946.89 L610.32,947.41 L610.34,947.46 L610.68,947.94 L610.70,947.98 L611.03,948.42 L611.06,948.46 L611.39,948.87 L611.42,948.90 L611.75,949.28 L611.78,949.31 L612.11,949.66 L612.14,949.69 L612.47,950.01 L612.50,950.03 L612.83,950.33 L612.86,950.35 L613.19,950.62 L613.22,950.64 L613.55,950.89 L613.66,950.97 L613.69,911.05 L613.93,913.44 L614.27,916.42 L614.29,916.66 L614.62,919.40 L614.65,919.62 L614.98,922.15 L615.01,922.35 L615.34,924.67 L615.37,924.86 L615.70,927.00 L615.73,927.17 L616.06,929.14 L616.09,929.30 L616.42,931.12 L616.45,891.32 L616.78,895.92 L616.81,896.29 L617.14,900.53 L617.16,900.87 L617.50,904.77 L617.52,905.08 L617.86,908.68 L617.88,908.96 L618.21,912.27 L618.24,912.53 L618.57,915.58 L618.60,915.82 L618.93,918.63 L619.18,920.60 L619.21,880.87 L619.32,882.70 L619.65,887.94 L619.68,888.36 L620.01,893.18 L620.04,893.56 L620.37,898.00 L620.40,898.35 L620.73,902.44 L620.75,902.77 L621.09,906.53 L621.11,906.83 L621.45,910.29 L621.47,910.57 L621.80,913.76 L621.97,915.27" fill="none" stroke="#7e3496" stroke-width="1.20" stroke-linejoin="round"/>
<path d="M401.05,954.05 L401.08,953.61 L401.38,949.05 L401.41,948.66 L401.74,944.32 L401.77,943.98 L402.10,940.24 L402.13,939.95 L402.46,936.75 L402.49,936.51 L402.82,933.78 L402.84,933.58 L403.18,931.29 L403.20,931.11 L403.54,929.21 L403.56,929.06 L403.89,926.19 L403.92,925.65 L404.25,919.60 L404.28,919.14 L404.61,914.01 L404.64,913.61 L404.97,909.31 L405.00,908.98 L405.33,905.40 L405.36,905.13 L405.69,902.21 L405.72,901.99 L406.05,899.65 L406.08,899.48 L406.41,897.65 L406.43,897.52 L406.77,893.16 L406.79,892.65 L407.13,887.11 L407.15,886.69 L407.48,882.12 L407.51,881.78 L407.84,878.08 L407.87,877.81 L408.20,874.89 L408.23,874.68 L408.56,872.45 L408.59,872.29 L408.92,870.68 L408.95,870.56 L409.28,869.48 L409.31,869.42 L409.64,868.81 L409.67,868.78 L410.00,868.58 L410.02,868.58 L410.36,868.76 L410.38,868.78 L410.72,869.27 L410.74,869.32 L411.07,870.08 L411.10,870.15 L411.43,871.14 L411.46,871.23 L411.79,872.42 L411.82,872.53 L412.15,873.89 L412.18,874.01 L412.51,875.51 L412.54,875.64 L412.87,877.26 L412.90,877.40 L413.23,879.11 L413.26,879.25 L413.59,881.04 L413.61,881.19 L413.95,883.03 L413.97,883.19 L414.31,885.08 L414.33,885.23 L414.66,887.15 L414.69,887.31 L415.02,889.24 L415.05,889.40 L415.38,891.34 L415.41,891.50 L415.74,893.44 L415.77,893.60 L416.10,895.52 L416.13,895.68 L416.46,897.59 L416.49,897.75 L416.82,899.63 L416.85,899.79 L417.18,901.65 L417.20,901.80 L417.54,903.62 L417.56,903.77 L417.90,905.56 L417.92,905.71 L418.25,907.46 L418.28,907.60 L418.61,909.31 L418.64,909.45 L418.97,911.11 L419.00,911.24 L419.33,912.86 L419.36,912.99 L419.69,914.57 L419.72,914.70 L420.05,916.22 L420.08,916.34 L420.38,917.70 L420.44,917.06 L420.77,913.59 L420.79,913.33 L421.13,910.47 L421.15,910.26 L421.49,907.94 L421.51,907.76 L421.84,905.93 L421.87,905.79 L422.20,904.38 L422.23,904.28 L422.56,903.25 L422.59,903.18 L422.92,902.48 L422.95,902.43 L423.28,899.86 L423.31,899.42 L423.64,894.59 L423.67,894.22 L424.00,890.24 L424.03,889.95 L424.36,886.73 L424.38,886.50 L424.72,883.97 L424.74,883.78 L425.08,881.85 L425.10,881.72 L425.43,880.32 L425.46,880.23 L425.79,879.30 L425.82,879.25 L426.15,874.92 L426.18,874.50 L426.51,869.86 L426.54,869.52 L426.87,865.82 L426.90,865.54 L427.23,862.67 L427.26,862.46 L427.59,860.32 L427.62,860.17 L427.95,858.67 L427.97,858.57 L428.31,857.65 L428.33,857.59 L428.67,857.16 L428.86,857.11 L429.02,857.16 L429.05,857.18 L429.38,857.57 L429.41,857.62 L429.74,858.34 L429.77,858.41 L430.10,859.42 L430.13,859.51 L430.46,860.76 L430.49,860.88 L430.82,862.33 L430.85,862.46 L431.18,864.10 L431.21,864.24 L431.54,866.01 L431.56,866.17 L431.90,868.06 L431.92,868.22 L432.25,870.21 L432.28,870.38 L432.61,872.45 L432.64,872.62 L432.97,874.74 L433.00,874.92 L433.33,877.08 L433.36,877.26 L433.69,879.44 L433.72,879.62 L434.05,881.82 L434.08,882.00 L434.41,884.20 L434.44,884.39 L434.77,886.58 L434.80,886.76 L435.13,888.93 L435.15,889.11 L435.49,891.26 L435.51,891.44 L435.84,893.56 L435.87,893.74 L436.20,895.82 L436.23,895.99 L436.56,898.04 L436.59,898.21 L436.92,900.21 L436.95,900.38 L437.28,902.33 L437.31,902.50 L437.64,904.40 L437.67,904.56 L438.00,906.42 L438.03,906.57 L438.36,908.38 L438.39,908.53 L438.72,910.28 L438.74,910.43 L439.08,912.13 L439.10,912.26 L439.43,913.91 L439.46,914.05 L439.71,915.24 L439.82,914.03 L440.15,910.77 L440.18,910.53 L440.51,907.86 L440.54,907.67 L440.87,905.53 L440.90,905.37 L441.23,903.70 L441.26,903.58 L441.59,902.33 L441.62,902.24 L441.95,901.35 L441.98,901.29 L442.31,900.72 L442.33,900.69 L442.67,897.41 L442.69,896.98 L443.02,892.36 L443.05,892.01 L443.38,888.23 L443.41,887.95 L443.74,884.92 L443.77,884.70 L444.10,882.33 L444.13,882.16 L444.46,880.38 L444.49,880.25 L444.82,878.99 L444.85,878.91 L445.18,878.11 L445.21,878.06 L445.54,873.05 L445.57,872.64 L445.90,868.21 L445.92,867.88 L446.26,864.36 L446.28,864.10 L446.61,861.39 L446.64,861.19 L446.97,859.20 L447.00,859.06 L447.33,857.69 L447.36,857.60 L447.69,856.80 L447.72,856.75 L448.05,856.43 L448.13,856.42 L448.41,856.53 L448.44,856.56 L448.77,857.04 L448.80,857.09 L449.13,857.89 L449.16,857.97 L449.49,859.05 L449.51,859.15 L449.85,860.46 L449.87,860.58 L450.20,862.09 L450.23,862.22 L450.56,863.90 L450.59,864.05 L450.92,865.87 L450.95,866.02 L451.28,867.96 L451.31,868.12 L451.64,870.15 L451.67,870.32 L452.00,872.41 L452.03,872.59 L452.36,874.73 L452.39,874.91 L452.72,877.09 L452.75,877.28 L453.08,879.48 L453.10,879.67 L453.44,881.88 L453.46,882.06 L453.79,884.28 L453.82,884.46 L454.15,886.66 L454.18,886.85 L454.51,889.03 L454.54,889.21 L454.87,891.37 L454.90,891.55 L455.23,893.68 L455.26,893.85 L455.59,895.94 L455.62,896.12 L455.95,898.17 L455.98,898.34 L456.31,900.34 L456.34,900.51 L456.67,902.47 L456.69,902.63 L457.03,904.54 L457.05,904.70 L457.38,906.56 L457.41,906.71 L457.74,908.52 L457.77,908.66 L458.10,910.42 L458.13,910.56 L458.46,912.26 L458.49,912.40 L458.82,914.04 L459.04,915.11 L459.18,913.61 L459.21,913.32 L459.54,910.16 L459.57,909.93 L459.90,907.36 L459.93,907.16 L460.26,905.11 L460.28,904.96 L460.62,903.36 L460.64,903.24 L460.97,902.05 L461.00,901.97 L461.33,901.14 L461.36,901.08 L461.69,900.57 L461.72,900.54 L462.05,896.48 L462.08,896.07 L462.41,891.59 L462.44,891.26 L462.77,887.60 L462.80,887.33 L463.13,884.41 L463.16,884.19 L463.49,881.92 L463.52,881.76 L463.85,880.07 L463.87,879.95 L464.21,878.77 L464.23,878.69 L464.56,877.95 L464.59,877.47 L464.92,872.18 L464.95,871.78 L465.28,867.50 L465.31,867.19 L465.64,863.80 L465.67,863.55 L466.00,860.96 L466.03,860.77 L466.36,858.88 L466.39,858.75 L466.72,857.48 L466.75,857.40 L467.08,856.67 L467.11,856.63 L467.44,856.38 L467.46,856.38 L467.80,856.55 L467.82,856.58 L468.15,857.11 L468.18,857.17 L468.51,858.02 L468.54,858.10 L468.87,859.22 L468.90,859.32 L469.23,860.67 L469.26,860.79 L469.59,862.33 L469.62,862.47 L469.95,864.17 L469.98,864.32 L470.31,866.16 L470.34,866.32 L470.67,868.27 L470.70,868.43 L471.03,870.47 L471.05,870.64 L471.39,872.74 L471.41,872.92 L471.74,875.08 L471.77,875.26 L472.10,877.44 L472.13,877.63 L472.46,879.83 L472.49,880.02 L472.82,882.23 L472.85,882.42 L473.18,884.63 L473.21,884.81 L473.54,887.01 L473.57,887.20 L473.90,889.38 L473.93,889.56 L474.26,891.71 L474.28,891.89 L474.62,894.02 L474.64,894.19 L474.98,896.28 L475.00,896.45 L475.33,898.49 L475.36,898.66 L475.69,900.66 L475.72,900.83 L476.05,902.78 L476.08,902.94 L476.41,904.84 L476.44,905.00 L476.77,906.85 L476.80,907.00 L477.13,908.80 L477.16,908.95 L477.49,910.70 L477.52,910.84 L477.85,912.53 L477.87,912.67 L478.21,914.31 L478.37,915.11 L478.57,913.03 L478.59,912.75 L478.92,909.69 L478.95,909.46 L479.28,906.97 L479.31,906.78 L479.64,904.80 L479.67,904.66 L480.00,903.13 L480.03,903.02 L480.36,901.88 L480.39,901.80 L480.72,901.02 L480.75,900.97 L481.08,900.50 L481.11,900.48 L481.44,895.67 L481.46,895.27 L481.80,890.92 L481.82,890.59 L482.16,887.05 L482.18,886.79 L482.51,883.98 L482.54,883.77 L482.87,881.59 L482.90,881.44 L483.23,879.83 L483.26,879.72 L483.59,878.61 L483.62,878.53 L483.95,876.99 L483.98,876.52 L484.31,871.39 L484.34,871.01 L484.67,866.87 L484.70,866.56 L485.03,863.31 L485.05,863.07 L485.39,860.59 L485.41,860.41 L485.75,858.62 L485.77,858.50 L486.10,857.32 L486.13,857.24 L486.46,856.59 L486.49,856.56 L486.79,856.38 L486.85,856.38 L487.18,856.61 L487.21,856.65 L487.54,857.23 L487.57,857.29 L487.90,858.18 L487.93,858.27 L488.26,859.42 L488.29,859.53 L488.62,860.91 L488.64,861.03 L488.98,862.60 L489.00,862.74 L489.34,864.47 L489.36,864.62 L489.69,866.47 L489.72,866.63 L490.05,868.60 L490.08,868.77 L490.41,870.81 L490.44,870.99 L490.77,873.10 L490.80,873.28 L491.13,875.44 L491.16,875.62 L491.49,877.81 L491.52,877.99 L491.85,880.20 L491.88,880.39 L492.21,882.60 L492.23,882.79 L492.57,885.00 L492.59,885.18 L492.93,887.38 L492.95,887.56 L493.28,889.74 L493.31,889.92 L493.64,892.07 L493.67,892.25 L494.00,894.37 L494.03,894.54 L494.36,896.62 L494.39,896.79 L494.72,898.83 L494.75,899.00 L495.08,900.99 L495.11,901.16 L495.44,903.10 L495.47,903.26 L495.80,905.16 L495.82,905.31 L496.16,907.16 L496.18,907.31 L496.52,909.10 L496.54,909.25 L496.87,910.98 L496.90,911.13 L497.23,912.81 L497.26,912.95 L497.59,914.57 L497.70,915.11 L497.95,912.47 L497.98,912.20 L498.31,909.23 L498.34,909.01 L498.67,906.60 L498.70,906.42 L499.03,904.51 L499.06,904.37 L499.39,902.91 L499.41,902.80 L499.75,901.73 L499.77,901.65 L500.11,900.92 L500.13,900.87 L500.46,900.45 L500.49,899.98 L500.82,894.87 L500.85,894.49 L501.18,890.27 L501.21,889.95 L501.54,886.53 L501.57,886.28 L501.90,883.57 L501.93,883.37 L502.26,881.28 L502.29,881.13 L502.62,879.61 L502.65,879.50 L502.98,878.46 L503.00,878.40 L503.34,876.05 L503.36,875.59 L503.69,870.63 L503.72,870.26 L504.05,866.26 L504.08,865.97 L504.41,862.83 L504.44,862.61 L504.77,860.24 L504.80,860.07 L505.13,858.38 L505.16,858.26 L505.49,857.17 L505.52,857.10 L505.85,856.53 L505.88,856.50 L506.13,856.38 L506.24,856.40 L506.57,856.68 L506.59,856.72 L506.93,857.36 L506.95,857.42 L507.28,858.36 L507.31,858.45 L507.64,859.64 L507.67,859.75 L508.00,861.16 L508.03,861.28 L508.36,862.88 L508.39,863.02 L508.72,864.77 L508.75,864.92 L509.08,866.79 L509.11,866.96 L509.44,868.93 L509.47,869.10 L509.80,871.16 L509.83,871.34 L510.16,873.46 L510.18,873.63 L510.52,875.80 L510.54,875.98 L510.87,878.18 L510.90,878.36 L511.23,880.57 L511.26,880.75 L511.59,882.97 L511.62,883.15 L511.95,885.36 L511.98,885.55 L512.31,887.74 L512.34,887.93 L512.67,890.10 L512.70,890.28 L513.03,892.43 L513.06,892.60 L513.39,894.72 L513.42,894.89 L513.75,896.96 L513.77,897.14 L514.11,899.17 L514.13,899.33 L514.46,901.32 L514.49,901.48 L514.82,903.42 L514.85,903.58 L515.18,905.47 L515.21,905.62 L515.54,907.46 L515.57,907.61 L515.90,909.39 L515.93,909.54 L516.26,911.27 L516.29,911.41 L516.62,913.08 L516.65,913.22 L516.98,914.84 L517.03,915.11 L517.34,911.93 L517.36,911.66 L517.70,908.79 L517.72,908.57 L518.05,906.25 L518.08,906.07 L518.41,904.24 L518.44,904.10 L518.77,902.70 L518.80,902.60 L519.13,901.58 L519.16,901.51 L519.49,900.83 L519.52,900.79 L519.85,899.52 L519.88,899.07 L520.21,894.10 L520.24,893.73 L520.57,889.64 L520.60,889.33 L520.93,886.03 L520.95,885.78 L521.29,883.17 L521.31,882.98 L521.64,880.99 L521.67,880.84 L522.00,879.40 L522.03,879.30 L522.36,878.33 L522.39,878.27 L522.72,875.14 L522.75,874.70 L523.08,869.89 L523.11,869.53 L523.44,865.68 L523.47,865.39 L523.80,862.38 L523.83,862.17 L524.16,859.91 L524.19,859.75 L524.52,858.15 L524.54,858.04 L524.88,857.03 L524.90,856.97 L525.23,856.48 L525.26,856.45 L525.46,856.38 L525.62,856.42 L525.95,856.76 L525.98,856.81 L526.31,857.49 L526.34,857.56 L526.67,858.54 L526.70,858.63 L527.03,859.86 L527.06,859.97 L527.39,861.41 L527.42,861.54 L527.75,863.16 L527.78,863.30 L528.11,865.07 L528.13,865.22 L528.47,867.12 L528.49,867.28 L528.82,869.27 L528.85,869.44 L529.18,871.51 L529.21,871.69 L529.54,873.81 L529.57,873.99 L529.90,876.16 L529.93,876.35 L530.26,878.54 L530.29,878.73 L530.62,880.94 L530.65,881.12 L530.98,883.34 L531.01,883.52 L531.34,885.73 L531.37,885.91 L531.70,888.11 L531.72,888.29 L532.06,890.46 L532.08,890.64 L532.41,892.78 L532.44,892.96 L532.77,895.06 L532.80,895.24 L533.13,897.31 L533.16,897.48 L533.49,899.50 L533.52,899.67 L533.85,901.65 L533.88,901.81 L534.21,903.74 L534.24,903.90 L534.57,905.78 L534.60,905.93 L534.93,907.76 L534.96,907.91 L535.29,909.68 L535.31,909.83 L535.65,911.55 L535.67,911.69 L536.00,913.36 L536.03,913.49 L536.36,915.11 L536.39,914.80 L536.72,911.40 L536.75,911.15 L537.08,908.36 L537.11,908.15 L537.44,905.90 L537.47,905.74 L537.80,903.97 L537.83,903.84 L538.16,902.50 L538.19,902.41 L538.52,901.44 L538.55,901.38 L538.88,900.74 L538.90,900.70 L539.24,898.62 L539.26,898.18 L539.59,893.36 L539.62,892.99 L539.95,889.03 L539.98,888.73 L540.31,885.54 L540.34,885.30 L540.67,882.79 L540.70,882.61 L541.03,880.71 L541.06,880.57 L541.39,879.20 L541.42,879.11 L541.75,878.21 L541.78,878.15 L542.11,874.26 L542.14,873.83 L542.47,869.18 L542.49,868.83 L542.83,865.11 L542.85,864.84 L543.18,861.95 L543.21,861.74 L543.54,859.59 L543.57,859.44 L543.90,857.94 L543.93,857.84 L544.26,856.91 L544.29,856.86 L544.62,856.43 L544.79,856.38 L544.98,856.43 L545.01,856.45 L545.34,856.85 L545.37,856.90 L545.70,857.63 L545.72,857.71 L546.06,858.72 L546.08,858.82 L546.42,860.08 L546.44,860.20 L546.77,861.67 L546.80,861.80 L547.13,863.44 L547.16,863.59 L547.49,865.38 L547.52,865.53 L547.85,867.44 L547.88,867.61 L548.21,869.61 L548.24,869.78 L548.57,871.86 L548.60,872.04 L548.93,874.17 L548.96,874.35 L549.29,876.53 L549.31,876.71 L549.65,878.91 L549.67,879.09 L550.01,881.31 L550.03,881.49 L550.36,883.71 L550.39,883.89 L550.72,886.10 L550.75,886.28 L551.08,888.47 L551.11,888.65 L551.44,890.82 L551.47,891.00 L551.80,893.13 L551.83,893.31 L552.16,895.41 L552.19,895.59 L552.52,897.65 L552.55,897.82 L552.88,899.83 L552.90,900.00 L553.24,901.97 L553.26,902.13 L553.60,904.06 L553.62,904.22 L553.95,906.09 L553.98,906.24 L554.31,908.06 L554.34,908.21 L554.67,909.98 L554.70,910.12 L555.03,911.83 L555.06,911.97 L555.39,913.63 L555.42,913.77 L555.69,915.11 L555.78,914.19 L556.11,910.89 L556.14,910.64 L556.47,907.94 L556.49,907.74 L556.83,905.57 L556.85,905.41 L557.19,903.72 L557.21,903.59 L557.54,902.31 L557.57,902.22 L557.90,901.31 L557.93,901.25 L558.26,900.67 L558.29,900.63 L558.62,897.75 L558.65,897.32 L558.98,892.63 L559.01,892.28 L559.34,888.44 L559.37,888.16 L559.70,885.07 L559.73,884.84 L560.06,882.43 L560.08,882.26 L560.42,880.44 L560.44,880.31 L560.78,879.02 L560.80,878.93 L561.13,878.10 L561.16,878.05 L561.49,873.41 L561.52,872.99 L561.85,868.49 L561.88,868.15 L562.21,864.57 L562.24,864.31 L562.57,861.54 L562.60,861.34 L562.93,859.29 L562.96,859.15 L563.29,857.74 L563.32,857.65 L563.65,856.81 L563.67,856.76 L564.01,856.40 L564.12,856.38 L564.37,856.47 L564.39,856.50 L564.72,856.95 L564.75,857.00 L565.08,857.78 L565.11,857.86 L565.44,858.92 L565.47,859.01 L565.80,860.31 L565.83,860.43 L566.16,861.93 L566.19,862.06 L566.52,863.73 L566.55,863.88 L566.88,865.69 L566.91,865.84 L567.24,867.77 L567.26,867.93 L567.60,869.95 L567.62,870.12 L567.96,872.21 L567.98,872.39 L568.31,874.53 L568.34,874.71 L568.67,876.89 L568.70,877.08 L569.03,879.28 L569.06,879.46 L569.39,881.68 L569.42,881.86 L569.75,884.08 L569.78,884.26 L570.11,886.46 L570.14,886.65 L570.47,888.83 L570.50,889.02 L570.83,891.18 L570.85,891.36 L571.19,893.49 L571.21,893.66 L571.55,895.76 L571.57,895.93 L571.90,897.99 L571.93,898.16 L572.26,900.17 L572.29,900.33 L572.62,902.30 L572.65,902.46 L572.98,904.37 L573.01,904.53 L573.34,906.39 L573.37,906.55 L573.70,908.36 L573.73,908.51 L574.06,910.26 L574.09,910.41 L574.42,912.11 L574.44,912.25 L574.78,913.90 L575.02,915.11 L575.13,913.89 L575.16,913.60 L575.49,910.40 L575.52,910.16 L575.85,907.54 L575.88,907.35 L576.21,905.26 L576.24,905.10 L576.57,903.47 L576.60,903.35 L576.93,902.13 L576.96,902.05 L577.29,901.19 L577.32,901.13 L577.65,900.59 L577.68,900.56 L578.01,896.90 L578.03,896.48 L578.37,891.93 L578.39,891.59 L578.72,887.87 L578.75,887.60 L579.08,884.62 L579.11,884.40 L579.44,882.09 L579.47,881.92 L579.80,880.18 L579.83,880.06 L580.16,878.84 L580.19,878.76 L580.52,878.00 L580.55,877.95 L580.88,872.58 L580.91,872.18 L581.24,867.82 L581.27,867.50 L581.60,864.05 L581.62,863.80 L581.96,861.14 L581.98,860.95 L582.31,859.01 L582.34,858.88 L582.67,857.56 L582.70,857.48 L583.03,856.71 L583.06,856.67 L583.39,856.39 L583.45,856.38 L583.75,856.52 L583.78,856.55 L584.11,857.06 L584.14,857.11 L584.47,857.94 L584.50,858.02 L584.83,859.11 L584.86,859.22 L585.19,860.55 L585.21,860.67 L585.55,862.19 L585.57,862.33 L585.90,864.02 L585.93,864.17 L586.26,866.00 L586.29,866.16 L586.62,868.10 L586.65,868.26 L586.98,870.30 L587.01,870.47 L587.34,872.57 L587.37,872.74 L587.70,874.89 L587.73,875.07 L588.06,877.26 L588.09,877.44 L588.42,879.65 L588.45,879.83 L588.78,882.05 L588.80,882.23 L589.14,884.44 L589.16,884.63 L589.49,886.83 L589.52,887.01 L589.85,889.20 L589.88,889.38 L590.21,891.54 L590.24,891.71 L590.57,893.84 L590.60,894.02 L590.93,896.10 L590.96,896.28 L591.29,898.33 L591.32,898.49 L591.65,900.50 L591.68,900.66 L592.01,902.62 L592.04,902.78 L592.37,904.69 L592.39,904.84 L592.73,906.70 L592.75,906.85 L593.08,908.66 L593.11,908.80 L593.44,910.55 L593.47,910.70 L593.80,912.39 L593.83,912.53 L594.16,914.17 L594.36,915.11 L594.52,913.31 L594.55,913.03 L594.88,909.92 L594.91,909.69 L595.24,907.16 L595.27,906.97 L595.60,904.95 L595.63,904.80 L595.96,903.24 L595.98,903.13 L596.32,901.96 L596.34,901.88 L596.67,901.08 L596.70,901.02 L597.03,900.53 L597.06,900.50 L597.39,896.07 L597.42,895.67 L597.75,891.25 L597.78,890.92 L598.11,887.32 L598.14,887.05 L598.47,884.19 L598.50,883.98 L598.83,881.75 L598.86,881.59 L599.19,879.94 L599.22,879.83 L599.55,878.68 L599.57,878.61 L599.91,877.47 L599.93,876.99 L600.26,871.78 L600.29,871.39 L600.62,867.18 L600.65,866.87 L600.98,863.55 L601.01,863.31 L601.34,860.77 L601.37,860.59 L601.70,858.75 L601.73,858.62 L602.06,857.39 L602.09,857.32 L602.42,856.63 L602.45,856.59 L602.78,856.38 L602.81,856.38 L603.14,856.58 L603.16,856.61 L603.50,857.17 L603.52,857.23 L603.85,858.10 L603.88,858.18 L604.21,859.32 L604.24,859.42 L604.57,860.79 L604.60,860.91 L604.93,862.46 L604.96,862.60 L605.29,864.32 L605.32,864.47 L605.65,866.32 L605.68,866.47 L606.01,868.43 L606.04,868.60 L606.37,870.64 L606.40,870.81 L606.73,872.92 L606.75,873.10 L607.09,875.26 L607.11,875.44 L607.44,877.63 L607.47,877.81 L607.80,880.02 L607.83,880.20 L608.16,882.42 L608.19,882.60 L608.52,884.81 L608.55,885.00 L608.88,887.20 L608.91,887.38 L609.24,889.56 L609.27,889.74 L609.60,891.89 L609.63,892.07 L609.96,894.19 L609.99,894.37 L610.32,896.45 L610.34,896.62 L610.68,898.66 L610.70,898.83 L611.03,900.83 L611.06,900.99 L611.39,902.94 L611.42,903.10 L611.75,905.00 L611.78,905.16 L612.11,907.00 L612.14,907.16 L612.47,908.95 L612.50,909.10 L612.83,910.84 L612.86,910.98 L613.19,912.67 L613.22,912.81 L613.55,914.44 L613.69,915.11 L613.91,912.74 L613.93,912.47 L614.27,909.46 L614.29,909.23 L614.62,906.78 L614.65,906.60 L614.98,904.66 L615.01,904.51 L615.34,903.01 L615.37,902.91 L615.70,901.80 L615.73,901.73 L616.06,900.97 L616.09,900.92 L616.42,900.47 L616.45,900.45 L616.78,895.27 L616.81,894.87 L617.14,890.59 L617.16,890.27 L617.50,886.79 L617.52,886.53 L617.86,883.77 L617.88,883.57 L618.21,881.44 L618.24,881.28 L618.57,879.72 L618.60,879.61 L618.93,878.53 L618.96,878.46 L619.29,876.52 L619.32,876.05 L619.65,871.01 L619.68,870.63 L620.01,866.56 L620.04,866.26 L620.37,863.07 L620.40,862.83 L620.73,860.41 L620.75,860.24 L621.09,858.50 L621.11,858.38 L621.45,857.24 L621.47,857.17 L621.80,856.56 L621.97,856.42" fill="none" stroke="#ff1a14" stroke-width="1.20" stroke-linejoin="round"/>
<text stroke="#000" stroke-width="0.10" x="0.80" y="10.00" font-size="12.6" font-weight="bold" fill="#000">A</text>
<text stroke="#000" stroke-width="0.10" x="359.30" y="10.20" font-size="12.6" font-weight="bold" fill="#000">B</text>
<text stroke="#000" stroke-width="0.10" x="1.00" y="257.10" font-size="12.6" font-weight="bold" fill="#000">C</text>
<text stroke="#000" stroke-width="0.10" x="361.20" y="257.20" font-size="12.6" font-weight="bold" fill="#000">D</text>
<text stroke="#000" stroke-width="0.10" x="1.10" y="504.00" font-size="12.6" font-weight="bold" fill="#000">E</text>
<text stroke="#000" stroke-width="0.10" x="359.30" y="504.00" font-size="12.6" font-weight="bold" fill="#000">F</text>
<text stroke="#000" stroke-width="0.10" x="1.00" y="760.00" font-size="12.6" font-weight="bold" fill="#000">G</text>
<text stroke="#000" stroke-width="0.10" x="361.20" y="759.70" font-size="12.6" font-weight="bold" fill="#000">H</text>
</svg>
</body></html>
